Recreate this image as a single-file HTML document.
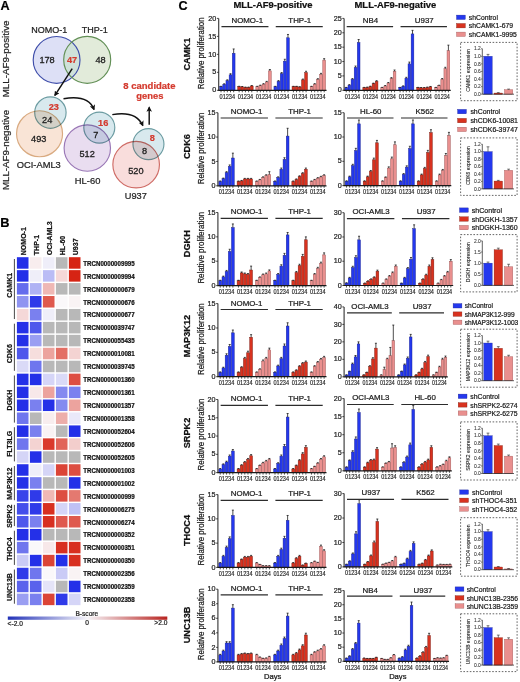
<!DOCTYPE html>
<html><head><meta charset="utf-8"><title>Figure</title>
<style>html,body{margin:0;padding:0;background:#fff;}svg{display:block;}
text{font-family:"Liberation Sans", sans-serif;}</style></head>
<body><svg width="520" height="682" viewBox="0 0 520 682">
<rect width="520" height="682" fill="#fff"/>
<rect x="219.65" y="86.7" width="2.76" height="3.6" fill="#2438ee" stroke="#1a2290" stroke-width="0.45"/>
<path d="M221.03 86.7V86.31M220.03 86.31H222.03" stroke="#111" stroke-width="0.75" fill="none"/>
<rect x="222.81" y="84.33" width="2.76" height="5.97" fill="#2438ee" stroke="#1a2290" stroke-width="0.45"/>
<path d="M224.19 84.33V83.79M223.19 83.79H225.19" stroke="#111" stroke-width="0.75" fill="none"/>
<rect x="225.97" y="80.59" width="2.76" height="9.71" fill="#2438ee" stroke="#1a2290" stroke-width="0.45"/>
<path d="M227.35 80.59V79.83M226.35 79.83H228.35" stroke="#111" stroke-width="0.75" fill="none"/>
<rect x="229.13" y="74.84" width="2.76" height="15.46" fill="#2438ee" stroke="#1a2290" stroke-width="0.45"/>
<path d="M230.51 74.84V73.73M229.51 73.73H231.51" stroke="#111" stroke-width="0.75" fill="none"/>
<rect x="232.29" y="53.27" width="2.76" height="37.03" fill="#2438ee" stroke="#1a2290" stroke-width="0.45"/>
<path d="M233.67 53.27V48.96M232.67 48.96H234.67" stroke="#111" stroke-width="0.75" fill="none"/>
<text x="219.55" y="98.6" font-size="6.3" text-anchor="start" font-weight="normal" fill="#222" stroke="#222" stroke-width="0.15" textLength="15.5" lengthAdjust="spacingAndGlyphs">01234</text>
<rect x="237.75" y="86.7" width="2.76" height="3.6" fill="#d8321f" stroke="#7a1a10" stroke-width="0.45"/>
<path d="M239.13 86.7V86.31M238.13 86.31H240.13" stroke="#111" stroke-width="0.75" fill="none"/>
<rect x="240.91" y="86.88" width="2.76" height="3.42" fill="#d8321f" stroke="#7a1a10" stroke-width="0.45"/>
<path d="M242.29 86.88V86.5M241.29 86.5H243.29" stroke="#111" stroke-width="0.75" fill="none"/>
<rect x="244.07" y="87.42" width="2.76" height="2.88" fill="#d8321f" stroke="#7a1a10" stroke-width="0.45"/>
<path d="M245.45 87.42V87.07M244.45 87.07H246.45" stroke="#111" stroke-width="0.75" fill="none"/>
<rect x="247.23" y="87.42" width="2.76" height="2.88" fill="#d8321f" stroke="#7a1a10" stroke-width="0.45"/>
<path d="M248.61 87.42V87.07M247.61 87.07H249.61" stroke="#111" stroke-width="0.75" fill="none"/>
<rect x="250.39" y="85.99" width="2.76" height="4.31" fill="#d8321f" stroke="#7a1a10" stroke-width="0.45"/>
<path d="M251.77 85.99V85.55M250.77 85.55H252.77" stroke="#111" stroke-width="0.75" fill="none"/>
<text x="237.65" y="98.6" font-size="6.3" text-anchor="start" font-weight="normal" fill="#222" stroke="#222" stroke-width="0.15" textLength="15.5" lengthAdjust="spacingAndGlyphs">01234</text>
<rect x="255.85" y="86.7" width="2.76" height="3.6" fill="#e98f8e" stroke="#9a5050" stroke-width="0.45"/>
<path d="M257.23 86.7V86.31M256.23 86.31H258.23" stroke="#111" stroke-width="0.75" fill="none"/>
<rect x="259.01" y="85.63" width="2.76" height="4.67" fill="#e98f8e" stroke="#9a5050" stroke-width="0.45"/>
<path d="M260.39 85.63V85.17M259.39 85.17H261.39" stroke="#111" stroke-width="0.75" fill="none"/>
<rect x="262.17" y="84.19" width="2.76" height="6.11" fill="#e98f8e" stroke="#9a5050" stroke-width="0.45"/>
<path d="M263.55 84.19V83.64M262.55 83.64H264.55" stroke="#111" stroke-width="0.75" fill="none"/>
<rect x="265.33" y="82.03" width="2.76" height="8.27" fill="#e98f8e" stroke="#9a5050" stroke-width="0.45"/>
<path d="M266.71 82.03V81.36M265.71 81.36H267.71" stroke="#111" stroke-width="0.75" fill="none"/>
<rect x="268.49" y="70.89" width="2.76" height="19.41" fill="#e98f8e" stroke="#9a5050" stroke-width="0.45"/>
<path d="M269.87 70.89V69.54M268.87 69.54H270.87" stroke="#111" stroke-width="0.75" fill="none"/>
<text x="255.75" y="98.6" font-size="6.3" text-anchor="start" font-weight="normal" fill="#222" stroke="#222" stroke-width="0.15" textLength="15.5" lengthAdjust="spacingAndGlyphs">01234</text>
<text x="247.25" y="22.8" font-size="7.9" text-anchor="middle" font-weight="normal" fill="#1a1a1a" stroke="#1a1a1a" stroke-width="0.22">NOMO-1</text>
<path d="M221.45 26.56H268.45" stroke="#2c2c2c" stroke-width="1.2"/>
<rect x="273.95" y="86.7" width="2.76" height="3.6" fill="#2438ee" stroke="#1a2290" stroke-width="0.45"/>
<path d="M275.33 86.7V86.31M274.33 86.31H276.33" stroke="#111" stroke-width="0.75" fill="none"/>
<rect x="277.11" y="81.31" width="2.76" height="8.99" fill="#2438ee" stroke="#1a2290" stroke-width="0.45"/>
<path d="M278.49 81.31V80.59M277.49 80.59H279.49" stroke="#111" stroke-width="0.75" fill="none"/>
<rect x="280.27" y="73.76" width="2.76" height="16.54" fill="#2438ee" stroke="#1a2290" stroke-width="0.45"/>
<path d="M281.65 73.76V72.59M280.65 72.59H282.65" stroke="#111" stroke-width="0.75" fill="none"/>
<rect x="283.43" y="61.18" width="2.76" height="29.12" fill="#2438ee" stroke="#1a2290" stroke-width="0.45"/>
<path d="M284.81 61.18V59.25M283.81 59.25H285.81" stroke="#111" stroke-width="0.75" fill="none"/>
<rect x="286.59" y="37.81" width="2.76" height="52.49" fill="#2438ee" stroke="#1a2290" stroke-width="0.45"/>
<path d="M287.97 37.81V34.48M286.97 34.48H288.97" stroke="#111" stroke-width="0.75" fill="none"/>
<text x="273.85" y="98.6" font-size="6.3" text-anchor="start" font-weight="normal" fill="#222" stroke="#222" stroke-width="0.15" textLength="15.5" lengthAdjust="spacingAndGlyphs">01234</text>
<rect x="292.05" y="86.7" width="2.76" height="3.6" fill="#d8321f" stroke="#7a1a10" stroke-width="0.45"/>
<path d="M293.43 86.7V86.31M292.43 86.31H294.43" stroke="#111" stroke-width="0.75" fill="none"/>
<rect x="295.21" y="86.7" width="2.76" height="3.6" fill="#d8321f" stroke="#7a1a10" stroke-width="0.45"/>
<path d="M296.59 86.7V86.31M295.59 86.31H297.59" stroke="#111" stroke-width="0.75" fill="none"/>
<rect x="298.37" y="87.06" width="2.76" height="3.24" fill="#d8321f" stroke="#7a1a10" stroke-width="0.45"/>
<path d="M299.75 87.06V86.69M298.75 86.69H300.75" stroke="#111" stroke-width="0.75" fill="none"/>
<rect x="301.53" y="79.87" width="2.76" height="10.43" fill="#d8321f" stroke="#7a1a10" stroke-width="0.45"/>
<path d="M302.91 79.87V79.07M301.91 79.07H303.91" stroke="#111" stroke-width="0.75" fill="none"/>
<rect x="304.69" y="72.68" width="2.76" height="17.62" fill="#d8321f" stroke="#7a1a10" stroke-width="0.45"/>
<path d="M306.07 72.68V71.25M305.07 71.25H307.07" stroke="#111" stroke-width="0.75" fill="none"/>
<text x="291.95" y="98.6" font-size="6.3" text-anchor="start" font-weight="normal" fill="#222" stroke="#222" stroke-width="0.15" textLength="15.5" lengthAdjust="spacingAndGlyphs">01234</text>
<rect x="310.15" y="86.7" width="2.76" height="3.6" fill="#e98f8e" stroke="#9a5050" stroke-width="0.45"/>
<path d="M311.53 86.7V86.31M310.53 86.31H312.53" stroke="#111" stroke-width="0.75" fill="none"/>
<rect x="313.31" y="84.19" width="2.76" height="6.11" fill="#e98f8e" stroke="#9a5050" stroke-width="0.45"/>
<path d="M314.69 84.19V83.64M313.69 83.64H315.69" stroke="#111" stroke-width="0.75" fill="none"/>
<rect x="316.47" y="79.52" width="2.76" height="10.79" fill="#e98f8e" stroke="#9a5050" stroke-width="0.45"/>
<path d="M317.85 79.52V78.69M316.85 78.69H318.85" stroke="#111" stroke-width="0.75" fill="none"/>
<rect x="319.63" y="74.48" width="2.76" height="15.82" fill="#e98f8e" stroke="#9a5050" stroke-width="0.45"/>
<path d="M321.01 74.48V73.35M320.01 73.35H322.01" stroke="#111" stroke-width="0.75" fill="none"/>
<rect x="322.79" y="60.1" width="2.76" height="30.2" fill="#e98f8e" stroke="#9a5050" stroke-width="0.45"/>
<path d="M324.17 60.1V58.66M323.17 58.66H325.17" stroke="#111" stroke-width="0.75" fill="none"/>
<text x="310.05" y="98.6" font-size="6.3" text-anchor="start" font-weight="normal" fill="#222" stroke="#222" stroke-width="0.15" textLength="15.5" lengthAdjust="spacingAndGlyphs">01234</text>
<text x="299.75" y="22.8" font-size="7.9" text-anchor="middle" font-weight="normal" fill="#1a1a1a" stroke="#1a1a1a" stroke-width="0.22">THP-1</text>
<path d="M275.75 26.56H322.75" stroke="#2c2c2c" stroke-width="1.2"/>
<path d="M218.7 18.4V90.3" stroke="#3a3a3a" stroke-width="1.15" fill="none"/>
<path d="M218.15 90.3H326.55" stroke="#1a1a1a" stroke-width="1.2" fill="none"/>
<path d="M221.03 90.3v2.0M224.19 90.3v2.0M227.35 90.3v2.0M230.51 90.3v2.0M233.67 90.3v2.0M239.13 90.3v2.0M242.29 90.3v2.0M245.45 90.3v2.0M248.61 90.3v2.0M251.77 90.3v2.0M257.23 90.3v2.0M260.39 90.3v2.0M263.55 90.3v2.0M266.71 90.3v2.0M269.87 90.3v2.0M275.33 90.3v2.0M278.49 90.3v2.0M281.65 90.3v2.0M284.81 90.3v2.0M287.97 90.3v2.0M293.43 90.3v2.0M296.59 90.3v2.0M299.75 90.3v2.0M302.91 90.3v2.0M306.07 90.3v2.0M311.53 90.3v2.0M314.69 90.3v2.0M317.85 90.3v2.0M321.01 90.3v2.0M324.17 90.3v2.0" stroke="#1c1c1c" stroke-width="0.75"/>
<path d="M216.9 90.3H218.7" stroke="#1c1c1c" stroke-width="0.8"/>
<text x="216.3" y="92.45" font-size="7.2" text-anchor="end" font-weight="normal" fill="#222" stroke="#222" stroke-width="0.22">0</text>
<path d="M216.9 72.32H218.7" stroke="#1c1c1c" stroke-width="0.8"/>
<text x="216.3" y="74.47" font-size="7.2" text-anchor="end" font-weight="normal" fill="#222" stroke="#222" stroke-width="0.22">5</text>
<path d="M216.9 54.35H218.7" stroke="#1c1c1c" stroke-width="0.8"/>
<text x="216.3" y="56.5" font-size="7.2" text-anchor="end" font-weight="normal" fill="#222" stroke="#222" stroke-width="0.22">10</text>
<path d="M216.9 36.37H218.7" stroke="#1c1c1c" stroke-width="0.8"/>
<text x="216.3" y="38.52" font-size="7.2" text-anchor="end" font-weight="normal" fill="#222" stroke="#222" stroke-width="0.22">15</text>
<path d="M216.9 18.4H218.7" stroke="#1c1c1c" stroke-width="0.8"/>
<text x="216.3" y="20.55" font-size="7.2" text-anchor="end" font-weight="normal" fill="#222" stroke="#222" stroke-width="0.22">20</text>
<rect x="344.9" y="87.71" width="2.7" height="2.59" fill="#2438ee" stroke="#1a2290" stroke-width="0.45"/>
<path d="M346.25 87.71V87.38M345.25 87.38H347.25" stroke="#111" stroke-width="0.75" fill="none"/>
<rect x="348" y="85.12" width="2.7" height="5.18" fill="#2438ee" stroke="#1a2290" stroke-width="0.45"/>
<path d="M349.35 85.12V84.63M348.35 84.63H350.35" stroke="#111" stroke-width="0.75" fill="none"/>
<rect x="351.1" y="79.37" width="2.7" height="10.93" fill="#2438ee" stroke="#1a2290" stroke-width="0.45"/>
<path d="M352.45 79.37V78.54M351.45 78.54H353.45" stroke="#111" stroke-width="0.75" fill="none"/>
<rect x="354.2" y="67.58" width="2.7" height="22.72" fill="#2438ee" stroke="#1a2290" stroke-width="0.45"/>
<path d="M355.55 67.58V66.04M354.55 66.04H356.55" stroke="#111" stroke-width="0.75" fill="none"/>
<rect x="357.3" y="42.56" width="2.7" height="47.74" fill="#2438ee" stroke="#1a2290" stroke-width="0.45"/>
<path d="M358.65 42.56V39.51M357.65 39.51H359.65" stroke="#111" stroke-width="0.75" fill="none"/>
<text x="344.8" y="98.6" font-size="6.3" text-anchor="start" font-weight="normal" fill="#222" stroke="#222" stroke-width="0.15" textLength="15.2" lengthAdjust="spacingAndGlyphs">01234</text>
<rect x="362.85" y="87.71" width="2.7" height="2.59" fill="#d8321f" stroke="#7a1a10" stroke-width="0.45"/>
<path d="M364.2 87.71V87.38M363.2 87.38H365.2" stroke="#111" stroke-width="0.75" fill="none"/>
<rect x="365.95" y="87.42" width="2.7" height="2.88" fill="#d8321f" stroke="#7a1a10" stroke-width="0.45"/>
<path d="M367.3 87.42V87.07M366.3 87.07H368.3" stroke="#111" stroke-width="0.75" fill="none"/>
<rect x="369.05" y="86.56" width="2.7" height="3.74" fill="#d8321f" stroke="#7a1a10" stroke-width="0.45"/>
<path d="M370.4 86.56V86.16M369.4 86.16H371.4" stroke="#111" stroke-width="0.75" fill="none"/>
<rect x="372.15" y="83.69" width="2.7" height="6.61" fill="#d8321f" stroke="#7a1a10" stroke-width="0.45"/>
<path d="M373.5 83.69V83.11M372.5 83.11H374.5" stroke="#111" stroke-width="0.75" fill="none"/>
<rect x="375.25" y="81.38" width="2.7" height="8.92" fill="#d8321f" stroke="#7a1a10" stroke-width="0.45"/>
<path d="M376.6 81.38V80.67M375.6 80.67H377.6" stroke="#111" stroke-width="0.75" fill="none"/>
<text x="362.75" y="98.6" font-size="6.3" text-anchor="start" font-weight="normal" fill="#222" stroke="#222" stroke-width="0.15" textLength="15.2" lengthAdjust="spacingAndGlyphs">01234</text>
<rect x="380.8" y="87.71" width="2.7" height="2.59" fill="#e98f8e" stroke="#9a5050" stroke-width="0.45"/>
<path d="M382.15 87.71V87.38M381.15 87.38H383.15" stroke="#111" stroke-width="0.75" fill="none"/>
<rect x="383.9" y="85.99" width="2.7" height="4.31" fill="#e98f8e" stroke="#9a5050" stroke-width="0.45"/>
<path d="M385.25 85.99V85.55M384.25 85.55H386.25" stroke="#111" stroke-width="0.75" fill="none"/>
<rect x="387" y="83.11" width="2.7" height="7.19" fill="#e98f8e" stroke="#9a5050" stroke-width="0.45"/>
<path d="M388.35 83.11V82.5M387.35 82.5H389.35" stroke="#111" stroke-width="0.75" fill="none"/>
<rect x="390.1" y="78.51" width="2.7" height="11.79" fill="#e98f8e" stroke="#9a5050" stroke-width="0.45"/>
<path d="M391.45 78.51V77.62M390.45 77.62H392.45" stroke="#111" stroke-width="0.75" fill="none"/>
<rect x="393.2" y="71.32" width="2.7" height="18.98" fill="#e98f8e" stroke="#9a5050" stroke-width="0.45"/>
<path d="M394.55 71.32V70M393.55 70H395.55" stroke="#111" stroke-width="0.75" fill="none"/>
<text x="380.7" y="98.6" font-size="6.3" text-anchor="start" font-weight="normal" fill="#222" stroke="#222" stroke-width="0.15" textLength="15.2" lengthAdjust="spacingAndGlyphs">01234</text>
<text x="370.4" y="22.8" font-size="7.9" text-anchor="middle" font-weight="normal" fill="#1a1a1a" stroke="#1a1a1a" stroke-width="0.22">NB4</text>
<path d="M346.7 26.56H393.1" stroke="#2c2c2c" stroke-width="1.2"/>
<rect x="398.75" y="87.71" width="2.7" height="2.59" fill="#2438ee" stroke="#1a2290" stroke-width="0.45"/>
<path d="M400.1 87.71V87.38M399.1 87.38H401.1" stroke="#111" stroke-width="0.75" fill="none"/>
<rect x="401.85" y="86.27" width="2.7" height="4.03" fill="#2438ee" stroke="#1a2290" stroke-width="0.45"/>
<path d="M403.2 86.27V85.85M402.2 85.85H404.2" stroke="#111" stroke-width="0.75" fill="none"/>
<rect x="404.95" y="78.22" width="2.7" height="12.08" fill="#2438ee" stroke="#1a2290" stroke-width="0.45"/>
<path d="M406.3 78.22V77.32M405.3 77.32H407.3" stroke="#111" stroke-width="0.75" fill="none"/>
<rect x="408.05" y="63.84" width="2.7" height="26.46" fill="#2438ee" stroke="#1a2290" stroke-width="0.45"/>
<path d="M409.4 63.84V62.07M408.4 62.07H410.4" stroke="#111" stroke-width="0.75" fill="none"/>
<rect x="411.15" y="33.93" width="2.7" height="56.37" fill="#2438ee" stroke="#1a2290" stroke-width="0.45"/>
<path d="M412.5 33.93V30.37M411.5 30.37H413.5" stroke="#111" stroke-width="0.75" fill="none"/>
<text x="398.65" y="98.6" font-size="6.3" text-anchor="start" font-weight="normal" fill="#222" stroke="#222" stroke-width="0.15" textLength="15.2" lengthAdjust="spacingAndGlyphs">01234</text>
<rect x="416.7" y="87.71" width="2.7" height="2.59" fill="#d8321f" stroke="#7a1a10" stroke-width="0.45"/>
<path d="M418.05 87.71V87.38M417.05 87.38H419.05" stroke="#111" stroke-width="0.75" fill="none"/>
<rect x="419.8" y="87.86" width="2.7" height="2.44" fill="#d8321f" stroke="#7a1a10" stroke-width="0.45"/>
<path d="M421.15 87.86V87.53M420.15 87.53H422.15" stroke="#111" stroke-width="0.75" fill="none"/>
<rect x="422.9" y="87.86" width="2.7" height="2.44" fill="#d8321f" stroke="#7a1a10" stroke-width="0.45"/>
<path d="M424.25 87.86V87.53M423.25 87.53H425.25" stroke="#111" stroke-width="0.75" fill="none"/>
<rect x="426" y="87.42" width="2.7" height="2.88" fill="#d8321f" stroke="#7a1a10" stroke-width="0.45"/>
<path d="M427.35 87.42V87.07M426.35 87.07H428.35" stroke="#111" stroke-width="0.75" fill="none"/>
<rect x="429.1" y="86.85" width="2.7" height="3.45" fill="#d8321f" stroke="#7a1a10" stroke-width="0.45"/>
<path d="M430.45 86.85V86.46M429.45 86.46H431.45" stroke="#111" stroke-width="0.75" fill="none"/>
<text x="416.6" y="98.6" font-size="6.3" text-anchor="start" font-weight="normal" fill="#222" stroke="#222" stroke-width="0.15" textLength="15.2" lengthAdjust="spacingAndGlyphs">01234</text>
<rect x="434.65" y="87.71" width="2.7" height="2.59" fill="#e98f8e" stroke="#9a5050" stroke-width="0.45"/>
<path d="M436 87.71V87.38M435 87.38H437" stroke="#111" stroke-width="0.75" fill="none"/>
<rect x="437.75" y="85.7" width="2.7" height="4.6" fill="#e98f8e" stroke="#9a5050" stroke-width="0.45"/>
<path d="M439.1 85.7V85.24M438.1 85.24H440.1" stroke="#111" stroke-width="0.75" fill="none"/>
<rect x="440.85" y="79.37" width="2.7" height="10.93" fill="#e98f8e" stroke="#9a5050" stroke-width="0.45"/>
<path d="M442.2 79.37V78.54M441.2 78.54H443.2" stroke="#111" stroke-width="0.75" fill="none"/>
<rect x="443.95" y="68.73" width="2.7" height="21.57" fill="#e98f8e" stroke="#9a5050" stroke-width="0.45"/>
<path d="M445.3 68.73V67.29M444.3 67.29H446.3" stroke="#111" stroke-width="0.75" fill="none"/>
<rect x="447.05" y="50.61" width="2.7" height="39.69" fill="#e98f8e" stroke="#9a5050" stroke-width="0.45"/>
<path d="M448.4 50.61V45.15M447.4 45.15H449.4" stroke="#111" stroke-width="0.75" fill="none"/>
<text x="434.55" y="98.6" font-size="6.3" text-anchor="start" font-weight="normal" fill="#222" stroke="#222" stroke-width="0.15" textLength="15.2" lengthAdjust="spacingAndGlyphs">01234</text>
<text x="424.25" y="22.8" font-size="7.9" text-anchor="middle" font-weight="normal" fill="#1a1a1a" stroke="#1a1a1a" stroke-width="0.22">U937</text>
<path d="M400.55 26.56H446.95" stroke="#2c2c2c" stroke-width="1.2"/>
<path d="M344.1 18.4V90.3" stroke="#3a3a3a" stroke-width="1.15" fill="none"/>
<path d="M343.55 90.3H450.75" stroke="#1a1a1a" stroke-width="1.2" fill="none"/>
<path d="M346.25 90.3v2.0M349.35 90.3v2.0M352.45 90.3v2.0M355.55 90.3v2.0M358.65 90.3v2.0M364.2 90.3v2.0M367.3 90.3v2.0M370.4 90.3v2.0M373.5 90.3v2.0M376.6 90.3v2.0M382.15 90.3v2.0M385.25 90.3v2.0M388.35 90.3v2.0M391.45 90.3v2.0M394.55 90.3v2.0M400.1 90.3v2.0M403.2 90.3v2.0M406.3 90.3v2.0M409.4 90.3v2.0M412.5 90.3v2.0M418.05 90.3v2.0M421.15 90.3v2.0M424.25 90.3v2.0M427.35 90.3v2.0M430.45 90.3v2.0M436 90.3v2.0M439.1 90.3v2.0M442.2 90.3v2.0M445.3 90.3v2.0M448.4 90.3v2.0" stroke="#1c1c1c" stroke-width="0.75"/>
<path d="M342.3 90.3H344.1" stroke="#1c1c1c" stroke-width="0.8"/>
<text x="341.7" y="92.45" font-size="7.2" text-anchor="end" font-weight="normal" fill="#222" stroke="#222" stroke-width="0.22">0</text>
<path d="M342.3 75.92H344.1" stroke="#1c1c1c" stroke-width="0.8"/>
<text x="341.7" y="78.07" font-size="7.2" text-anchor="end" font-weight="normal" fill="#222" stroke="#222" stroke-width="0.22">5</text>
<path d="M342.3 61.54H344.1" stroke="#1c1c1c" stroke-width="0.8"/>
<text x="341.7" y="63.69" font-size="7.2" text-anchor="end" font-weight="normal" fill="#222" stroke="#222" stroke-width="0.22">10</text>
<path d="M342.3 47.16H344.1" stroke="#1c1c1c" stroke-width="0.8"/>
<text x="341.7" y="49.31" font-size="7.2" text-anchor="end" font-weight="normal" fill="#222" stroke="#222" stroke-width="0.22">15</text>
<path d="M342.3 32.78H344.1" stroke="#1c1c1c" stroke-width="0.8"/>
<text x="341.7" y="34.93" font-size="7.2" text-anchor="end" font-weight="normal" fill="#222" stroke="#222" stroke-width="0.22">20</text>
<path d="M342.3 18.4H344.1" stroke="#1c1c1c" stroke-width="0.8"/>
<text x="341.7" y="20.55" font-size="7.2" text-anchor="end" font-weight="normal" fill="#222" stroke="#222" stroke-width="0.22">25</text>
<text x="0" y="0" font-size="8.3" text-anchor="middle" font-weight="normal" fill="#1a1a1a" stroke="#1a1a1a" stroke-width="0.22" transform="translate(204.4,53.3) rotate(-90)" textLength="71.8" lengthAdjust="spacingAndGlyphs">Relative proliferation</text>
<text x="0" y="0" font-size="9.2" text-anchor="middle" font-weight="bold" fill="#111" stroke="#111" stroke-width="0.22" transform="translate(190.2,54.25) rotate(-90)">CAMK1</text>
<rect x="456.5" y="15.1" width="8.8" height="4.4" fill="#2438ee" stroke="#1a2290" stroke-width="0.35"/>
<text x="468.8" y="19.9" font-size="7.34" text-anchor="start" font-weight="normal" fill="#1a1a1a" stroke="#1a1a1a" stroke-width="0.22" textLength="29.1" lengthAdjust="spacingAndGlyphs">shControl</text>
<rect x="456.5" y="23.5" width="8.8" height="4.4" fill="#d8321f" stroke="#7a1a10" stroke-width="0.35"/>
<text x="468.8" y="28.3" font-size="7.34" text-anchor="start" font-weight="normal" fill="#1a1a1a" stroke="#1a1a1a" stroke-width="0.22" textLength="44.22" lengthAdjust="spacingAndGlyphs">shCAMK1-679</text>
<rect x="456.5" y="32.1" width="8.8" height="4.4" fill="#e98f8e" stroke="#9a5050" stroke-width="0.35"/>
<text x="468.8" y="36.9" font-size="7.34" text-anchor="start" font-weight="normal" fill="#1a1a1a" stroke="#1a1a1a" stroke-width="0.22" textLength="48" lengthAdjust="spacingAndGlyphs">shCAMK1-9995</text>
<rect x="460.6" y="42.4" width="56.5" height="58.3" fill="none" stroke="#555" stroke-width="0.9" stroke-dasharray="1.6,1.6"/>
<rect x="483.8" y="56.28" width="8.4" height="37.92" fill="#2438ee" stroke="#1a2290" stroke-width="0.35"/>
<path d="M488 56.28V54.39M486.6 54.39H489.4" stroke="#222" stroke-width="0.6" fill="none"/>
<rect x="494.1" y="93.06" width="8.4" height="1.14" fill="#d8321f" stroke="#7a1a10" stroke-width="0.35"/>
<path d="M498.3 93.06V92.64M496.9 92.64H499.7" stroke="#222" stroke-width="0.6" fill="none"/>
<rect x="504.4" y="89.65" width="8.4" height="4.55" fill="#e98f8e" stroke="#9a5050" stroke-width="0.35"/>
<path d="M508.6 89.65V89.09M507.2 89.09H510" stroke="#222" stroke-width="0.6" fill="none"/>
<path d="M482.3 48.7V94.2H514" stroke="#1c1c1c" stroke-width="0.7" fill="none"/>
<path d="M481.1 94.2H482.3" stroke="#1c1c1c" stroke-width="0.6"/>
<text x="480.7" y="95.9" font-size="4.9" text-anchor="end" font-weight="normal" fill="#333" stroke="#333" stroke-width="0.08">0.0</text>
<path d="M481.1 86.62H482.3" stroke="#1c1c1c" stroke-width="0.6"/>
<text x="480.7" y="88.32" font-size="4.9" text-anchor="end" font-weight="normal" fill="#333" stroke="#333" stroke-width="0.08">0.2</text>
<path d="M481.1 79.03H482.3" stroke="#1c1c1c" stroke-width="0.6"/>
<text x="480.7" y="80.73" font-size="4.9" text-anchor="end" font-weight="normal" fill="#333" stroke="#333" stroke-width="0.08">0.4</text>
<path d="M481.1 71.45H482.3" stroke="#1c1c1c" stroke-width="0.6"/>
<text x="480.7" y="73.15" font-size="4.9" text-anchor="end" font-weight="normal" fill="#333" stroke="#333" stroke-width="0.08">0.6</text>
<path d="M481.1 63.87H482.3" stroke="#1c1c1c" stroke-width="0.6"/>
<text x="480.7" y="65.57" font-size="4.9" text-anchor="end" font-weight="normal" fill="#333" stroke="#333" stroke-width="0.08">0.8</text>
<path d="M481.1 56.28H482.3" stroke="#1c1c1c" stroke-width="0.6"/>
<text x="480.7" y="57.98" font-size="4.9" text-anchor="end" font-weight="normal" fill="#333" stroke="#333" stroke-width="0.08">1.0</text>
<path d="M481.1 48.7H482.3" stroke="#1c1c1c" stroke-width="0.6"/>
<text x="480.7" y="50.4" font-size="4.9" text-anchor="end" font-weight="normal" fill="#333" stroke="#333" stroke-width="0.08">1.2</text>
<text x="0" y="0" font-size="5" text-anchor="middle" font-weight="normal" fill="#222" stroke="#222" stroke-width="0.1" transform="translate(470,70.45) rotate(-90)">CAMK1 expression</text>
<rect x="218.85" y="181.41" width="2.76" height="4.39" fill="#2438ee" stroke="#1a2290" stroke-width="0.45"/>
<path d="M220.23 181.41V180.97M219.23 180.97H221.23" stroke="#111" stroke-width="0.75" fill="none"/>
<rect x="222.01" y="178.68" width="2.76" height="7.12" fill="#2438ee" stroke="#1a2290" stroke-width="0.45"/>
<path d="M223.39 178.68V178.08M222.39 178.08H224.39" stroke="#111" stroke-width="0.75" fill="none"/>
<rect x="225.17" y="172.64" width="2.76" height="13.16" fill="#2438ee" stroke="#1a2290" stroke-width="0.45"/>
<path d="M226.55 172.64V171.67M225.55 171.67H227.55" stroke="#111" stroke-width="0.75" fill="none"/>
<rect x="228.33" y="166.31" width="2.76" height="19.49" fill="#2438ee" stroke="#1a2290" stroke-width="0.45"/>
<path d="M229.71 166.31V164.95M228.71 164.95H230.71" stroke="#111" stroke-width="0.75" fill="none"/>
<rect x="231.49" y="158.02" width="2.76" height="27.78" fill="#2438ee" stroke="#1a2290" stroke-width="0.45"/>
<path d="M232.87 158.02V153.15M231.87 153.15H233.87" stroke="#111" stroke-width="0.75" fill="none"/>
<text x="218.75" y="194.1" font-size="6.3" text-anchor="start" font-weight="normal" fill="#222" stroke="#222" stroke-width="0.15" textLength="15.5" lengthAdjust="spacingAndGlyphs">01234</text>
<rect x="237.1" y="181.41" width="2.76" height="4.39" fill="#d8321f" stroke="#7a1a10" stroke-width="0.45"/>
<path d="M238.48 181.41V180.97M237.48 180.97H239.48" stroke="#111" stroke-width="0.75" fill="none"/>
<rect x="240.26" y="180.93" width="2.76" height="4.87" fill="#d8321f" stroke="#7a1a10" stroke-width="0.45"/>
<path d="M241.64 180.93V180.45M240.64 180.45H242.64" stroke="#111" stroke-width="0.75" fill="none"/>
<rect x="243.42" y="178.98" width="2.76" height="6.82" fill="#d8321f" stroke="#7a1a10" stroke-width="0.45"/>
<path d="M244.8 178.98V178.39M243.8 178.39H245.8" stroke="#111" stroke-width="0.75" fill="none"/>
<rect x="246.58" y="178.98" width="2.76" height="6.82" fill="#d8321f" stroke="#7a1a10" stroke-width="0.45"/>
<path d="M247.96 178.98V178.39M246.96 178.39H248.96" stroke="#111" stroke-width="0.75" fill="none"/>
<rect x="249.74" y="178.98" width="2.76" height="6.82" fill="#d8321f" stroke="#7a1a10" stroke-width="0.45"/>
<path d="M251.12 178.98V178.39M250.12 178.39H252.12" stroke="#111" stroke-width="0.75" fill="none"/>
<text x="237" y="194.1" font-size="6.3" text-anchor="start" font-weight="normal" fill="#222" stroke="#222" stroke-width="0.15" textLength="15.5" lengthAdjust="spacingAndGlyphs">01234</text>
<rect x="255.35" y="181.41" width="2.76" height="4.39" fill="#e98f8e" stroke="#9a5050" stroke-width="0.45"/>
<path d="M256.73 181.41V180.97M255.73 180.97H257.73" stroke="#111" stroke-width="0.75" fill="none"/>
<rect x="258.51" y="179.95" width="2.76" height="5.85" fill="#e98f8e" stroke="#9a5050" stroke-width="0.45"/>
<path d="M259.89 179.95V179.42M258.89 179.42H260.89" stroke="#111" stroke-width="0.75" fill="none"/>
<rect x="261.67" y="177.52" width="2.76" height="8.28" fill="#e98f8e" stroke="#9a5050" stroke-width="0.45"/>
<path d="M263.05 177.52V176.84M262.05 176.84H264.05" stroke="#111" stroke-width="0.75" fill="none"/>
<rect x="264.83" y="175.57" width="2.76" height="10.23" fill="#e98f8e" stroke="#9a5050" stroke-width="0.45"/>
<path d="M266.21 175.57V174.77M265.21 174.77H267.21" stroke="#111" stroke-width="0.75" fill="none"/>
<rect x="267.99" y="174.59" width="2.76" height="11.21" fill="#e98f8e" stroke="#9a5050" stroke-width="0.45"/>
<path d="M269.37 174.59V171.67M268.37 171.67H270.37" stroke="#111" stroke-width="0.75" fill="none"/>
<text x="255.25" y="194.1" font-size="6.3" text-anchor="start" font-weight="normal" fill="#222" stroke="#222" stroke-width="0.15" textLength="15.5" lengthAdjust="spacingAndGlyphs">01234</text>
<text x="246.6" y="114.2" font-size="7.9" text-anchor="middle" font-weight="normal" fill="#1a1a1a" stroke="#1a1a1a" stroke-width="0.22">NOMO-1</text>
<path d="M220.65 118H267.95" stroke="#2c2c2c" stroke-width="1.2"/>
<rect x="273.6" y="181.41" width="2.76" height="4.39" fill="#2438ee" stroke="#1a2290" stroke-width="0.45"/>
<path d="M274.98 181.41V180.97M273.98 180.97H275.98" stroke="#111" stroke-width="0.75" fill="none"/>
<rect x="276.76" y="177.52" width="2.76" height="8.28" fill="#2438ee" stroke="#1a2290" stroke-width="0.45"/>
<path d="M278.14 177.52V176.84M277.14 176.84H279.14" stroke="#111" stroke-width="0.75" fill="none"/>
<rect x="279.92" y="169.23" width="2.76" height="16.57" fill="#2438ee" stroke="#1a2290" stroke-width="0.45"/>
<path d="M281.3 169.23V168.05M280.3 168.05H282.3" stroke="#111" stroke-width="0.75" fill="none"/>
<rect x="283.08" y="159.48" width="2.76" height="26.32" fill="#2438ee" stroke="#1a2290" stroke-width="0.45"/>
<path d="M284.46 159.48V157.72M283.46 157.72H285.46" stroke="#111" stroke-width="0.75" fill="none"/>
<rect x="286.24" y="136.09" width="2.76" height="49.71" fill="#2438ee" stroke="#1a2290" stroke-width="0.45"/>
<path d="M287.62 136.09V128.29M286.62 128.29H288.62" stroke="#111" stroke-width="0.75" fill="none"/>
<text x="273.5" y="194.1" font-size="6.3" text-anchor="start" font-weight="normal" fill="#222" stroke="#222" stroke-width="0.15" textLength="15.5" lengthAdjust="spacingAndGlyphs">01234</text>
<rect x="291.85" y="181.41" width="2.76" height="4.39" fill="#d8321f" stroke="#7a1a10" stroke-width="0.45"/>
<path d="M293.23 181.41V180.97M292.23 180.97H294.23" stroke="#111" stroke-width="0.75" fill="none"/>
<rect x="295.01" y="179.46" width="2.76" height="6.34" fill="#d8321f" stroke="#7a1a10" stroke-width="0.45"/>
<path d="M296.39 179.46V178.9M295.39 178.9H297.39" stroke="#111" stroke-width="0.75" fill="none"/>
<rect x="298.17" y="176.54" width="2.76" height="9.26" fill="#d8321f" stroke="#7a1a10" stroke-width="0.45"/>
<path d="M299.55 176.54V175.8M298.55 175.8H300.55" stroke="#111" stroke-width="0.75" fill="none"/>
<rect x="301.33" y="173.62" width="2.76" height="12.18" fill="#d8321f" stroke="#7a1a10" stroke-width="0.45"/>
<path d="M302.71 173.62V172.7M301.71 172.7H303.71" stroke="#111" stroke-width="0.75" fill="none"/>
<rect x="304.49" y="169.23" width="2.76" height="16.57" fill="#d8321f" stroke="#7a1a10" stroke-width="0.45"/>
<path d="M305.87 169.23V168.05M304.87 168.05H306.87" stroke="#111" stroke-width="0.75" fill="none"/>
<text x="291.75" y="194.1" font-size="6.3" text-anchor="start" font-weight="normal" fill="#222" stroke="#222" stroke-width="0.15" textLength="15.5" lengthAdjust="spacingAndGlyphs">01234</text>
<rect x="310.1" y="181.41" width="2.76" height="4.39" fill="#e98f8e" stroke="#9a5050" stroke-width="0.45"/>
<path d="M311.48 181.41V180.97M310.48 180.97H312.48" stroke="#111" stroke-width="0.75" fill="none"/>
<rect x="313.26" y="179.95" width="2.76" height="5.85" fill="#e98f8e" stroke="#9a5050" stroke-width="0.45"/>
<path d="M314.64 179.95V179.42M313.64 179.42H315.64" stroke="#111" stroke-width="0.75" fill="none"/>
<rect x="316.42" y="178.25" width="2.76" height="7.55" fill="#e98f8e" stroke="#9a5050" stroke-width="0.45"/>
<path d="M317.8 178.25V177.61M316.8 177.61H318.8" stroke="#111" stroke-width="0.75" fill="none"/>
<rect x="319.58" y="177.03" width="2.76" height="8.77" fill="#e98f8e" stroke="#9a5050" stroke-width="0.45"/>
<path d="M320.96 177.03V176.32M319.96 176.32H321.96" stroke="#111" stroke-width="0.75" fill="none"/>
<rect x="322.74" y="175.57" width="2.76" height="10.23" fill="#e98f8e" stroke="#9a5050" stroke-width="0.45"/>
<path d="M324.12 175.57V174.77M323.12 174.77H325.12" stroke="#111" stroke-width="0.75" fill="none"/>
<text x="310" y="194.1" font-size="6.3" text-anchor="start" font-weight="normal" fill="#222" stroke="#222" stroke-width="0.15" textLength="15.5" lengthAdjust="spacingAndGlyphs">01234</text>
<text x="299.55" y="114.2" font-size="7.9" text-anchor="middle" font-weight="normal" fill="#1a1a1a" stroke="#1a1a1a" stroke-width="0.22">THP-1</text>
<path d="M275.4 118H322.7" stroke="#2c2c2c" stroke-width="1.2"/>
<path d="M217.9 112.7V185.8" stroke="#3a3a3a" stroke-width="1.15" fill="none"/>
<path d="M217.35 185.8H326.5" stroke="#1a1a1a" stroke-width="1.2" fill="none"/>
<path d="M220.23 185.8v2.0M223.39 185.8v2.0M226.55 185.8v2.0M229.71 185.8v2.0M232.87 185.8v2.0M238.48 185.8v2.0M241.64 185.8v2.0M244.8 185.8v2.0M247.96 185.8v2.0M251.12 185.8v2.0M256.73 185.8v2.0M259.89 185.8v2.0M263.05 185.8v2.0M266.21 185.8v2.0M269.37 185.8v2.0M274.98 185.8v2.0M278.14 185.8v2.0M281.3 185.8v2.0M284.46 185.8v2.0M287.62 185.8v2.0M293.23 185.8v2.0M296.39 185.8v2.0M299.55 185.8v2.0M302.71 185.8v2.0M305.87 185.8v2.0M311.48 185.8v2.0M314.64 185.8v2.0M317.8 185.8v2.0M320.96 185.8v2.0M324.12 185.8v2.0" stroke="#1c1c1c" stroke-width="0.75"/>
<path d="M216.1 185.8H217.9" stroke="#1c1c1c" stroke-width="0.8"/>
<text x="215.5" y="187.95" font-size="7.2" text-anchor="end" font-weight="normal" fill="#222" stroke="#222" stroke-width="0.22">0</text>
<path d="M216.1 161.43H217.9" stroke="#1c1c1c" stroke-width="0.8"/>
<text x="215.5" y="163.58" font-size="7.2" text-anchor="end" font-weight="normal" fill="#222" stroke="#222" stroke-width="0.22">5</text>
<path d="M216.1 137.07H217.9" stroke="#1c1c1c" stroke-width="0.8"/>
<text x="215.5" y="139.22" font-size="7.2" text-anchor="end" font-weight="normal" fill="#222" stroke="#222" stroke-width="0.22">10</text>
<path d="M216.1 112.7H217.9" stroke="#1c1c1c" stroke-width="0.8"/>
<text x="215.5" y="114.85" font-size="7.2" text-anchor="end" font-weight="normal" fill="#222" stroke="#222" stroke-width="0.22">15</text>
<rect x="345.2" y="181.23" width="2.7" height="4.37" fill="#2438ee" stroke="#1a2290" stroke-width="0.45"/>
<path d="M346.55 181.23V180.78M345.55 180.78H347.55" stroke="#111" stroke-width="0.75" fill="none"/>
<rect x="348.3" y="176.85" width="2.7" height="8.75" fill="#2438ee" stroke="#1a2290" stroke-width="0.45"/>
<path d="M349.65 176.85V176.14M348.65 176.14H350.65" stroke="#111" stroke-width="0.75" fill="none"/>
<rect x="351.4" y="165.67" width="2.7" height="19.93" fill="#2438ee" stroke="#1a2290" stroke-width="0.45"/>
<path d="M352.75 165.67V164.3M351.75 164.3H353.75" stroke="#111" stroke-width="0.75" fill="none"/>
<rect x="354.5" y="150.61" width="2.7" height="34.99" fill="#2438ee" stroke="#1a2290" stroke-width="0.45"/>
<path d="M355.85 150.61V148.33M354.85 148.33H356.85" stroke="#111" stroke-width="0.75" fill="none"/>
<rect x="357.6" y="123.88" width="2.7" height="61.72" fill="#2438ee" stroke="#1a2290" stroke-width="0.45"/>
<path d="M358.95 123.88V119.99M357.95 119.99H359.95" stroke="#111" stroke-width="0.75" fill="none"/>
<text x="345.1" y="193.9" font-size="6.3" text-anchor="start" font-weight="normal" fill="#222" stroke="#222" stroke-width="0.15" textLength="15.2" lengthAdjust="spacingAndGlyphs">01234</text>
<rect x="363.2" y="181.23" width="2.7" height="4.37" fill="#d8321f" stroke="#7a1a10" stroke-width="0.45"/>
<path d="M364.55 181.23V180.78M363.55 180.78H365.55" stroke="#111" stroke-width="0.75" fill="none"/>
<rect x="366.3" y="176.85" width="2.7" height="8.75" fill="#d8321f" stroke="#7a1a10" stroke-width="0.45"/>
<path d="M367.65 176.85V176.14M366.65 176.14H368.65" stroke="#111" stroke-width="0.75" fill="none"/>
<rect x="369.4" y="171.51" width="2.7" height="14.09" fill="#d8321f" stroke="#7a1a10" stroke-width="0.45"/>
<path d="M370.75 171.51V170.48M369.75 170.48H371.75" stroke="#111" stroke-width="0.75" fill="none"/>
<rect x="372.5" y="159.84" width="2.7" height="25.76" fill="#d8321f" stroke="#7a1a10" stroke-width="0.45"/>
<path d="M373.85 159.84V158.11M372.85 158.11H374.85" stroke="#111" stroke-width="0.75" fill="none"/>
<rect x="375.6" y="142.83" width="2.7" height="42.77" fill="#d8321f" stroke="#7a1a10" stroke-width="0.45"/>
<path d="M376.95 142.83V140.4M375.95 140.4H377.95" stroke="#111" stroke-width="0.75" fill="none"/>
<text x="363.1" y="193.9" font-size="6.3" text-anchor="start" font-weight="normal" fill="#222" stroke="#222" stroke-width="0.15" textLength="15.2" lengthAdjust="spacingAndGlyphs">01234</text>
<rect x="381.2" y="181.23" width="2.7" height="4.37" fill="#e98f8e" stroke="#9a5050" stroke-width="0.45"/>
<path d="M382.55 181.23V180.78M381.55 180.78H383.55" stroke="#111" stroke-width="0.75" fill="none"/>
<rect x="384.3" y="177.58" width="2.7" height="8.02" fill="#e98f8e" stroke="#9a5050" stroke-width="0.45"/>
<path d="M385.65 177.58V176.92M384.65 176.92H386.65" stroke="#111" stroke-width="0.75" fill="none"/>
<rect x="387.4" y="168.1" width="2.7" height="17.5" fill="#e98f8e" stroke="#9a5050" stroke-width="0.45"/>
<path d="M388.75 168.1V166.87M387.75 166.87H389.75" stroke="#111" stroke-width="0.75" fill="none"/>
<rect x="390.5" y="158.87" width="2.7" height="26.73" fill="#e98f8e" stroke="#9a5050" stroke-width="0.45"/>
<path d="M391.85 158.87V157.08M390.85 157.08H392.85" stroke="#111" stroke-width="0.75" fill="none"/>
<rect x="393.6" y="144.78" width="2.7" height="40.82" fill="#e98f8e" stroke="#9a5050" stroke-width="0.45"/>
<path d="M394.95 144.78V141.86M393.95 141.86H395.95" stroke="#111" stroke-width="0.75" fill="none"/>
<text x="381.1" y="193.9" font-size="6.3" text-anchor="start" font-weight="normal" fill="#222" stroke="#222" stroke-width="0.15" textLength="15.2" lengthAdjust="spacingAndGlyphs">01234</text>
<text x="370.75" y="114.2" font-size="7.9" text-anchor="middle" font-weight="normal" fill="#1a1a1a" stroke="#1a1a1a" stroke-width="0.22">HL-60</text>
<path d="M347 118H393.5" stroke="#2c2c2c" stroke-width="1.2"/>
<rect x="399.2" y="181.23" width="2.7" height="4.37" fill="#2438ee" stroke="#1a2290" stroke-width="0.45"/>
<path d="M400.55 181.23V180.78M399.55 180.78H401.55" stroke="#111" stroke-width="0.75" fill="none"/>
<rect x="402.3" y="174.42" width="2.7" height="11.18" fill="#2438ee" stroke="#1a2290" stroke-width="0.45"/>
<path d="M403.65 174.42V173.57M402.65 173.57H404.65" stroke="#111" stroke-width="0.75" fill="none"/>
<rect x="405.4" y="167.13" width="2.7" height="18.47" fill="#2438ee" stroke="#1a2290" stroke-width="0.45"/>
<path d="M406.75 167.13V165.84M405.75 165.84H407.75" stroke="#111" stroke-width="0.75" fill="none"/>
<rect x="408.5" y="148.66" width="2.7" height="36.94" fill="#2438ee" stroke="#1a2290" stroke-width="0.45"/>
<path d="M409.85 148.66V146.27M408.85 146.27H410.85" stroke="#111" stroke-width="0.75" fill="none"/>
<rect x="411.6" y="123.88" width="2.7" height="61.72" fill="#2438ee" stroke="#1a2290" stroke-width="0.45"/>
<path d="M412.95 123.88V119.99M411.95 119.99H413.95" stroke="#111" stroke-width="0.75" fill="none"/>
<text x="399.1" y="193.9" font-size="6.3" text-anchor="start" font-weight="normal" fill="#222" stroke="#222" stroke-width="0.15" textLength="15.2" lengthAdjust="spacingAndGlyphs">01234</text>
<rect x="417.2" y="181.23" width="2.7" height="4.37" fill="#d8321f" stroke="#7a1a10" stroke-width="0.45"/>
<path d="M418.55 181.23V180.78M417.55 180.78H419.55" stroke="#111" stroke-width="0.75" fill="none"/>
<rect x="420.3" y="174.91" width="2.7" height="10.69" fill="#d8321f" stroke="#7a1a10" stroke-width="0.45"/>
<path d="M421.65 174.91V174.08M420.65 174.08H422.65" stroke="#111" stroke-width="0.75" fill="none"/>
<rect x="423.4" y="168.59" width="2.7" height="17.01" fill="#d8321f" stroke="#7a1a10" stroke-width="0.45"/>
<path d="M424.75 168.59V167.39M423.75 167.39H425.75" stroke="#111" stroke-width="0.75" fill="none"/>
<rect x="426.5" y="152.55" width="2.7" height="33.05" fill="#d8321f" stroke="#7a1a10" stroke-width="0.45"/>
<path d="M427.85 152.55V150.39M426.85 150.39H428.85" stroke="#111" stroke-width="0.75" fill="none"/>
<rect x="429.6" y="132.63" width="2.7" height="52.97" fill="#d8321f" stroke="#7a1a10" stroke-width="0.45"/>
<path d="M430.95 132.63V129.71M429.95 129.71H431.95" stroke="#111" stroke-width="0.75" fill="none"/>
<text x="417.1" y="193.9" font-size="6.3" text-anchor="start" font-weight="normal" fill="#222" stroke="#222" stroke-width="0.15" textLength="15.2" lengthAdjust="spacingAndGlyphs">01234</text>
<rect x="435.2" y="181.23" width="2.7" height="4.37" fill="#e98f8e" stroke="#9a5050" stroke-width="0.45"/>
<path d="M436.55 181.23V180.78M435.55 180.78H437.55" stroke="#111" stroke-width="0.75" fill="none"/>
<rect x="438.3" y="174.91" width="2.7" height="10.69" fill="#e98f8e" stroke="#9a5050" stroke-width="0.45"/>
<path d="M439.65 174.91V174.08M438.65 174.08H440.65" stroke="#111" stroke-width="0.75" fill="none"/>
<rect x="441.4" y="170.53" width="2.7" height="15.07" fill="#e98f8e" stroke="#9a5050" stroke-width="0.45"/>
<path d="M442.75 170.53V169.45M441.75 169.45H443.75" stroke="#111" stroke-width="0.75" fill="none"/>
<rect x="444.5" y="155.47" width="2.7" height="30.13" fill="#e98f8e" stroke="#9a5050" stroke-width="0.45"/>
<path d="M445.85 155.47V153.48M444.85 153.48H446.85" stroke="#111" stroke-width="0.75" fill="none"/>
<rect x="447.6" y="135.54" width="2.7" height="50.06" fill="#e98f8e" stroke="#9a5050" stroke-width="0.45"/>
<path d="M448.95 135.54V132.36M447.95 132.36H449.95" stroke="#111" stroke-width="0.75" fill="none"/>
<text x="435.1" y="193.9" font-size="6.3" text-anchor="start" font-weight="normal" fill="#222" stroke="#222" stroke-width="0.15" textLength="15.2" lengthAdjust="spacingAndGlyphs">01234</text>
<text x="424.75" y="114.2" font-size="7.9" text-anchor="middle" font-weight="normal" fill="#1a1a1a" stroke="#1a1a1a" stroke-width="0.22">K562</text>
<path d="M401 118H447.5" stroke="#2c2c2c" stroke-width="1.2"/>
<path d="M344.1 112.7V185.6" stroke="#3a3a3a" stroke-width="1.15" fill="none"/>
<path d="M343.55 185.6H451.3" stroke="#1a1a1a" stroke-width="1.2" fill="none"/>
<path d="M346.55 185.6v2.0M349.65 185.6v2.0M352.75 185.6v2.0M355.85 185.6v2.0M358.95 185.6v2.0M364.55 185.6v2.0M367.65 185.6v2.0M370.75 185.6v2.0M373.85 185.6v2.0M376.95 185.6v2.0M382.55 185.6v2.0M385.65 185.6v2.0M388.75 185.6v2.0M391.85 185.6v2.0M394.95 185.6v2.0M400.55 185.6v2.0M403.65 185.6v2.0M406.75 185.6v2.0M409.85 185.6v2.0M412.95 185.6v2.0M418.55 185.6v2.0M421.65 185.6v2.0M424.75 185.6v2.0M427.85 185.6v2.0M430.95 185.6v2.0M436.55 185.6v2.0M439.65 185.6v2.0M442.75 185.6v2.0M445.85 185.6v2.0M448.95 185.6v2.0" stroke="#1c1c1c" stroke-width="0.75"/>
<path d="M342.3 185.6H344.1" stroke="#1c1c1c" stroke-width="0.8"/>
<text x="341.7" y="187.75" font-size="7.2" text-anchor="end" font-weight="normal" fill="#222" stroke="#222" stroke-width="0.22">0</text>
<path d="M342.3 161.3H344.1" stroke="#1c1c1c" stroke-width="0.8"/>
<text x="341.7" y="163.45" font-size="7.2" text-anchor="end" font-weight="normal" fill="#222" stroke="#222" stroke-width="0.22">5</text>
<path d="M342.3 137H344.1" stroke="#1c1c1c" stroke-width="0.8"/>
<text x="341.7" y="139.15" font-size="7.2" text-anchor="end" font-weight="normal" fill="#222" stroke="#222" stroke-width="0.22">10</text>
<path d="M342.3 112.7H344.1" stroke="#1c1c1c" stroke-width="0.8"/>
<text x="341.7" y="114.85" font-size="7.2" text-anchor="end" font-weight="normal" fill="#222" stroke="#222" stroke-width="0.22">15</text>
<text x="0" y="0" font-size="8.3" text-anchor="middle" font-weight="normal" fill="#1a1a1a" stroke="#1a1a1a" stroke-width="0.22" transform="translate(204.4,148.4) rotate(-90)" textLength="71.8" lengthAdjust="spacingAndGlyphs">Relative proliferation</text>
<text x="0" y="0" font-size="9.2" text-anchor="middle" font-weight="bold" fill="#111" stroke="#111" stroke-width="0.22" transform="translate(190.2,146.6) rotate(-90)">CDK6</text>
<rect x="457.6" y="109.4" width="8.8" height="4.4" fill="#2438ee" stroke="#1a2290" stroke-width="0.35"/>
<text x="470.4" y="114.2" font-size="7.51" text-anchor="start" font-weight="normal" fill="#1a1a1a" stroke="#1a1a1a" stroke-width="0.22" textLength="29.74" lengthAdjust="spacingAndGlyphs">shControl</text>
<rect x="457.6" y="118.4" width="8.8" height="4.4" fill="#d8321f" stroke="#7a1a10" stroke-width="0.35"/>
<text x="470.4" y="123.2" font-size="7.51" text-anchor="start" font-weight="normal" fill="#1a1a1a" stroke="#1a1a1a" stroke-width="0.22" textLength="47.52" lengthAdjust="spacingAndGlyphs">shCDK6-10081</text>
<rect x="457.6" y="127.2" width="8.8" height="4.4" fill="#e98f8e" stroke="#9a5050" stroke-width="0.35"/>
<text x="470.4" y="132" font-size="7.51" text-anchor="start" font-weight="normal" fill="#1a1a1a" stroke="#1a1a1a" stroke-width="0.22" textLength="47.52" lengthAdjust="spacingAndGlyphs">shCDK6-39747</text>
<rect x="460.6" y="137.9" width="56.5" height="57.5" fill="none" stroke="#555" stroke-width="0.9" stroke-dasharray="1.6,1.6"/>
<rect x="483.8" y="151.65" width="8.4" height="37.25" fill="#2438ee" stroke="#1a2290" stroke-width="0.35"/>
<path d="M488 151.65V146.81M486.6 146.81H489.4" stroke="#222" stroke-width="0.6" fill="none"/>
<rect x="494.1" y="181.08" width="8.4" height="7.82" fill="#d8321f" stroke="#7a1a10" stroke-width="0.35"/>
<path d="M498.3 181.08V180.39M496.9 180.39H499.7" stroke="#222" stroke-width="0.6" fill="none"/>
<rect x="504.4" y="170.28" width="8.4" height="18.62" fill="#e98f8e" stroke="#9a5050" stroke-width="0.35"/>
<path d="M508.6 170.28V169.16M507.2 169.16H510" stroke="#222" stroke-width="0.6" fill="none"/>
<path d="M482.3 144.2V188.9H514" stroke="#1c1c1c" stroke-width="0.7" fill="none"/>
<path d="M481.1 188.9H482.3" stroke="#1c1c1c" stroke-width="0.6"/>
<text x="480.7" y="190.6" font-size="4.9" text-anchor="end" font-weight="normal" fill="#333" stroke="#333" stroke-width="0.08">0.0</text>
<path d="M481.1 181.45H482.3" stroke="#1c1c1c" stroke-width="0.6"/>
<text x="480.7" y="183.15" font-size="4.9" text-anchor="end" font-weight="normal" fill="#333" stroke="#333" stroke-width="0.08">0.2</text>
<path d="M481.1 174H482.3" stroke="#1c1c1c" stroke-width="0.6"/>
<text x="480.7" y="175.7" font-size="4.9" text-anchor="end" font-weight="normal" fill="#333" stroke="#333" stroke-width="0.08">0.4</text>
<path d="M481.1 166.55H482.3" stroke="#1c1c1c" stroke-width="0.6"/>
<text x="480.7" y="168.25" font-size="4.9" text-anchor="end" font-weight="normal" fill="#333" stroke="#333" stroke-width="0.08">0.6</text>
<path d="M481.1 159.1H482.3" stroke="#1c1c1c" stroke-width="0.6"/>
<text x="480.7" y="160.8" font-size="4.9" text-anchor="end" font-weight="normal" fill="#333" stroke="#333" stroke-width="0.08">0.8</text>
<path d="M481.1 151.65H482.3" stroke="#1c1c1c" stroke-width="0.6"/>
<text x="480.7" y="153.35" font-size="4.9" text-anchor="end" font-weight="normal" fill="#333" stroke="#333" stroke-width="0.08">1.0</text>
<path d="M481.1 144.2H482.3" stroke="#1c1c1c" stroke-width="0.6"/>
<text x="480.7" y="145.9" font-size="4.9" text-anchor="end" font-weight="normal" fill="#333" stroke="#333" stroke-width="0.08">1.2</text>
<text x="0" y="0" font-size="5" text-anchor="middle" font-weight="normal" fill="#222" stroke="#222" stroke-width="0.1" transform="translate(470,165.55) rotate(-90)">CDK6 expression</text>
<rect x="218.85" y="280.73" width="2.76" height="4.87" fill="#2438ee" stroke="#1a2290" stroke-width="0.45"/>
<path d="M220.23 280.73V280.25M219.23 280.25H221.23" stroke="#111" stroke-width="0.75" fill="none"/>
<rect x="222.01" y="276.83" width="2.76" height="8.77" fill="#2438ee" stroke="#1a2290" stroke-width="0.45"/>
<path d="M223.39 276.83V276.12M222.39 276.12H224.39" stroke="#111" stroke-width="0.75" fill="none"/>
<rect x="225.17" y="271.47" width="2.76" height="14.13" fill="#2438ee" stroke="#1a2290" stroke-width="0.45"/>
<path d="M226.55 271.47V270.44M225.55 270.44H227.55" stroke="#111" stroke-width="0.75" fill="none"/>
<rect x="228.33" y="251.49" width="2.76" height="34.11" fill="#2438ee" stroke="#1a2290" stroke-width="0.45"/>
<path d="M229.71 251.49V249.26M228.71 249.26H230.71" stroke="#111" stroke-width="0.75" fill="none"/>
<rect x="231.49" y="227.61" width="2.76" height="57.99" fill="#2438ee" stroke="#1a2290" stroke-width="0.45"/>
<path d="M232.87 227.61V223.95M231.87 223.95H233.87" stroke="#111" stroke-width="0.75" fill="none"/>
<text x="218.75" y="293.9" font-size="6.3" text-anchor="start" font-weight="normal" fill="#222" stroke="#222" stroke-width="0.15" textLength="15.5" lengthAdjust="spacingAndGlyphs">01234</text>
<rect x="237.1" y="280.73" width="2.76" height="4.87" fill="#d8321f" stroke="#7a1a10" stroke-width="0.45"/>
<path d="M238.48 280.73V280.25M237.48 280.25H239.48" stroke="#111" stroke-width="0.75" fill="none"/>
<rect x="240.26" y="272.93" width="2.76" height="12.67" fill="#d8321f" stroke="#7a1a10" stroke-width="0.45"/>
<path d="M241.64 272.93V271.99M240.64 271.99H242.64" stroke="#111" stroke-width="0.75" fill="none"/>
<rect x="243.42" y="273.9" width="2.76" height="11.7" fill="#d8321f" stroke="#7a1a10" stroke-width="0.45"/>
<path d="M244.8 273.9V273.02M243.8 273.02H245.8" stroke="#111" stroke-width="0.75" fill="none"/>
<rect x="246.58" y="274.39" width="2.76" height="11.21" fill="#d8321f" stroke="#7a1a10" stroke-width="0.45"/>
<path d="M247.96 274.39V273.54M246.96 273.54H248.96" stroke="#111" stroke-width="0.75" fill="none"/>
<rect x="249.74" y="270.01" width="2.76" height="15.59" fill="#d8321f" stroke="#7a1a10" stroke-width="0.45"/>
<path d="M251.12 270.01V266.11M250.12 266.11H252.12" stroke="#111" stroke-width="0.75" fill="none"/>
<text x="237" y="293.9" font-size="6.3" text-anchor="start" font-weight="normal" fill="#222" stroke="#222" stroke-width="0.15" textLength="15.5" lengthAdjust="spacingAndGlyphs">01234</text>
<rect x="255.35" y="280.73" width="2.76" height="4.87" fill="#e98f8e" stroke="#9a5050" stroke-width="0.45"/>
<path d="M256.73 280.73V280.25M255.73 280.25H257.73" stroke="#111" stroke-width="0.75" fill="none"/>
<rect x="258.51" y="277.56" width="2.76" height="8.04" fill="#e98f8e" stroke="#9a5050" stroke-width="0.45"/>
<path d="M259.89 277.56V276.89M258.89 276.89H260.89" stroke="#111" stroke-width="0.75" fill="none"/>
<rect x="261.67" y="274.88" width="2.76" height="10.72" fill="#e98f8e" stroke="#9a5050" stroke-width="0.45"/>
<path d="M263.05 274.88V274.05M262.05 274.05H264.05" stroke="#111" stroke-width="0.75" fill="none"/>
<rect x="264.83" y="273.9" width="2.76" height="11.7" fill="#e98f8e" stroke="#9a5050" stroke-width="0.45"/>
<path d="M266.21 273.9V273.02M265.21 273.02H267.21" stroke="#111" stroke-width="0.75" fill="none"/>
<rect x="267.99" y="270.98" width="2.76" height="14.62" fill="#e98f8e" stroke="#9a5050" stroke-width="0.45"/>
<path d="M269.37 270.98V269.92M268.37 269.92H270.37" stroke="#111" stroke-width="0.75" fill="none"/>
<text x="255.25" y="293.9" font-size="6.3" text-anchor="start" font-weight="normal" fill="#222" stroke="#222" stroke-width="0.15" textLength="15.5" lengthAdjust="spacingAndGlyphs">01234</text>
<text x="246.6" y="214.2" font-size="7.9" text-anchor="middle" font-weight="normal" fill="#1a1a1a" stroke="#1a1a1a" stroke-width="0.22">NOMO-1</text>
<path d="M220.65 218.4H267.95" stroke="#2c2c2c" stroke-width="1.2"/>
<rect x="273.6" y="280.73" width="2.76" height="4.87" fill="#2438ee" stroke="#1a2290" stroke-width="0.45"/>
<path d="M274.98 280.73V280.25M273.98 280.25H275.98" stroke="#111" stroke-width="0.75" fill="none"/>
<rect x="276.76" y="274.39" width="2.76" height="11.21" fill="#2438ee" stroke="#1a2290" stroke-width="0.45"/>
<path d="M278.14 274.39V273.54M277.14 273.54H279.14" stroke="#111" stroke-width="0.75" fill="none"/>
<rect x="279.92" y="266.11" width="2.76" height="19.49" fill="#2438ee" stroke="#1a2290" stroke-width="0.45"/>
<path d="M281.3 266.11V264.75M280.3 264.75H282.3" stroke="#111" stroke-width="0.75" fill="none"/>
<rect x="283.08" y="255.39" width="2.76" height="30.21" fill="#2438ee" stroke="#1a2290" stroke-width="0.45"/>
<path d="M284.46 255.39V253.39M283.46 253.39H285.46" stroke="#111" stroke-width="0.75" fill="none"/>
<rect x="286.24" y="234.92" width="2.76" height="50.68" fill="#2438ee" stroke="#1a2290" stroke-width="0.45"/>
<path d="M287.62 234.92V232.48M286.62 232.48H288.62" stroke="#111" stroke-width="0.75" fill="none"/>
<text x="273.5" y="293.9" font-size="6.3" text-anchor="start" font-weight="normal" fill="#222" stroke="#222" stroke-width="0.15" textLength="15.5" lengthAdjust="spacingAndGlyphs">01234</text>
<rect x="291.85" y="280.73" width="2.76" height="4.87" fill="#d8321f" stroke="#7a1a10" stroke-width="0.45"/>
<path d="M293.23 280.73V280.25M292.23 280.25H294.23" stroke="#111" stroke-width="0.75" fill="none"/>
<rect x="295.01" y="272.44" width="2.76" height="13.16" fill="#d8321f" stroke="#7a1a10" stroke-width="0.45"/>
<path d="M296.39 272.44V271.47M295.39 271.47H297.39" stroke="#111" stroke-width="0.75" fill="none"/>
<rect x="298.17" y="265.62" width="2.76" height="19.98" fill="#d8321f" stroke="#7a1a10" stroke-width="0.45"/>
<path d="M299.55 265.62V264.24M298.55 264.24H300.55" stroke="#111" stroke-width="0.75" fill="none"/>
<rect x="301.33" y="256.36" width="2.76" height="29.24" fill="#d8321f" stroke="#7a1a10" stroke-width="0.45"/>
<path d="M302.71 256.36V254.42M301.71 254.42H303.71" stroke="#111" stroke-width="0.75" fill="none"/>
<rect x="304.49" y="239.79" width="2.76" height="45.81" fill="#d8321f" stroke="#7a1a10" stroke-width="0.45"/>
<path d="M305.87 239.79V236.86M304.87 236.86H306.87" stroke="#111" stroke-width="0.75" fill="none"/>
<text x="291.75" y="293.9" font-size="6.3" text-anchor="start" font-weight="normal" fill="#222" stroke="#222" stroke-width="0.15" textLength="15.5" lengthAdjust="spacingAndGlyphs">01234</text>
<rect x="310.1" y="280.73" width="2.76" height="4.87" fill="#e98f8e" stroke="#9a5050" stroke-width="0.45"/>
<path d="M311.48 280.73V280.25M310.48 280.25H312.48" stroke="#111" stroke-width="0.75" fill="none"/>
<rect x="313.26" y="274.39" width="2.76" height="11.21" fill="#e98f8e" stroke="#9a5050" stroke-width="0.45"/>
<path d="M314.64 274.39V273.54M313.64 273.54H315.64" stroke="#111" stroke-width="0.75" fill="none"/>
<rect x="316.42" y="268.54" width="2.76" height="17.06" fill="#e98f8e" stroke="#9a5050" stroke-width="0.45"/>
<path d="M317.8 268.54V267.34M316.8 267.34H318.8" stroke="#111" stroke-width="0.75" fill="none"/>
<rect x="319.58" y="263.67" width="2.76" height="21.93" fill="#e98f8e" stroke="#9a5050" stroke-width="0.45"/>
<path d="M320.96 263.67V262.17M319.96 262.17H321.96" stroke="#111" stroke-width="0.75" fill="none"/>
<rect x="322.74" y="254.9" width="2.76" height="30.7" fill="#e98f8e" stroke="#9a5050" stroke-width="0.45"/>
<path d="M324.12 254.9V252.87M323.12 252.87H325.12" stroke="#111" stroke-width="0.75" fill="none"/>
<text x="310" y="293.9" font-size="6.3" text-anchor="start" font-weight="normal" fill="#222" stroke="#222" stroke-width="0.15" textLength="15.5" lengthAdjust="spacingAndGlyphs">01234</text>
<text x="299.55" y="214.2" font-size="7.9" text-anchor="middle" font-weight="normal" fill="#1a1a1a" stroke="#1a1a1a" stroke-width="0.22">THP-1</text>
<path d="M275.4 218.4H322.7" stroke="#2c2c2c" stroke-width="1.2"/>
<path d="M217.9 212.5V285.6" stroke="#3a3a3a" stroke-width="1.15" fill="none"/>
<path d="M217.35 285.6H326.5" stroke="#1a1a1a" stroke-width="1.2" fill="none"/>
<path d="M220.23 285.6v2.0M223.39 285.6v2.0M226.55 285.6v2.0M229.71 285.6v2.0M232.87 285.6v2.0M238.48 285.6v2.0M241.64 285.6v2.0M244.8 285.6v2.0M247.96 285.6v2.0M251.12 285.6v2.0M256.73 285.6v2.0M259.89 285.6v2.0M263.05 285.6v2.0M266.21 285.6v2.0M269.37 285.6v2.0M274.98 285.6v2.0M278.14 285.6v2.0M281.3 285.6v2.0M284.46 285.6v2.0M287.62 285.6v2.0M293.23 285.6v2.0M296.39 285.6v2.0M299.55 285.6v2.0M302.71 285.6v2.0M305.87 285.6v2.0M311.48 285.6v2.0M314.64 285.6v2.0M317.8 285.6v2.0M320.96 285.6v2.0M324.12 285.6v2.0" stroke="#1c1c1c" stroke-width="0.75"/>
<path d="M216.1 285.6H217.9" stroke="#1c1c1c" stroke-width="0.8"/>
<text x="215.5" y="287.75" font-size="7.2" text-anchor="end" font-weight="normal" fill="#222" stroke="#222" stroke-width="0.22">0</text>
<path d="M216.1 261.23H217.9" stroke="#1c1c1c" stroke-width="0.8"/>
<text x="215.5" y="263.38" font-size="7.2" text-anchor="end" font-weight="normal" fill="#222" stroke="#222" stroke-width="0.22">5</text>
<path d="M216.1 236.87H217.9" stroke="#1c1c1c" stroke-width="0.8"/>
<text x="215.5" y="239.02" font-size="7.2" text-anchor="end" font-weight="normal" fill="#222" stroke="#222" stroke-width="0.22">10</text>
<path d="M216.1 212.5H217.9" stroke="#1c1c1c" stroke-width="0.8"/>
<text x="215.5" y="214.65" font-size="7.2" text-anchor="end" font-weight="normal" fill="#222" stroke="#222" stroke-width="0.22">15</text>
<rect x="345.1" y="283.07" width="2.75" height="2.43" fill="#2438ee" stroke="#1a2290" stroke-width="0.45"/>
<path d="M346.47 283.07V282.75M345.47 282.75H347.47" stroke="#111" stroke-width="0.75" fill="none"/>
<rect x="348.25" y="277.98" width="2.75" height="7.52" fill="#2438ee" stroke="#1a2290" stroke-width="0.45"/>
<path d="M349.62 277.98V277.34M348.62 277.34H350.62" stroke="#111" stroke-width="0.75" fill="none"/>
<rect x="351.4" y="267.54" width="2.75" height="17.96" fill="#2438ee" stroke="#1a2290" stroke-width="0.45"/>
<path d="M352.77 267.54V266.28M351.77 266.28H353.77" stroke="#111" stroke-width="0.75" fill="none"/>
<rect x="354.55" y="257.59" width="2.75" height="27.91" fill="#2438ee" stroke="#1a2290" stroke-width="0.45"/>
<path d="M355.92 257.59V255.74M354.92 255.74H356.92" stroke="#111" stroke-width="0.75" fill="none"/>
<rect x="357.7" y="239.88" width="2.75" height="45.62" fill="#2438ee" stroke="#1a2290" stroke-width="0.45"/>
<path d="M359.07 239.88V236.24M358.07 236.24H360.07" stroke="#111" stroke-width="0.75" fill="none"/>
<text x="345" y="293.8" font-size="6.3" text-anchor="start" font-weight="normal" fill="#222" stroke="#222" stroke-width="0.15" textLength="15.45" lengthAdjust="spacingAndGlyphs">01234</text>
<rect x="363.45" y="283.32" width="2.75" height="2.18" fill="#d8321f" stroke="#7a1a10" stroke-width="0.45"/>
<path d="M364.82 283.32V283M363.82 283H365.82" stroke="#111" stroke-width="0.75" fill="none"/>
<rect x="366.6" y="281.25" width="2.75" height="4.25" fill="#d8321f" stroke="#7a1a10" stroke-width="0.45"/>
<path d="M367.97 281.25V280.82M366.97 280.82H368.97" stroke="#111" stroke-width="0.75" fill="none"/>
<rect x="369.75" y="279.43" width="2.75" height="6.07" fill="#d8321f" stroke="#7a1a10" stroke-width="0.45"/>
<path d="M371.12 279.43V278.89M370.12 278.89H372.12" stroke="#111" stroke-width="0.75" fill="none"/>
<rect x="372.9" y="277.49" width="2.75" height="8.01" fill="#d8321f" stroke="#7a1a10" stroke-width="0.45"/>
<path d="M374.27 277.49V276.83M373.27 276.83H375.27" stroke="#111" stroke-width="0.75" fill="none"/>
<rect x="376.05" y="271.18" width="2.75" height="14.32" fill="#d8321f" stroke="#7a1a10" stroke-width="0.45"/>
<path d="M377.43 271.18V270.14M376.43 270.14H378.43" stroke="#111" stroke-width="0.75" fill="none"/>
<text x="363.35" y="293.8" font-size="6.3" text-anchor="start" font-weight="normal" fill="#222" stroke="#222" stroke-width="0.15" textLength="15.45" lengthAdjust="spacingAndGlyphs">01234</text>
<rect x="381.8" y="283.32" width="2.75" height="2.18" fill="#e98f8e" stroke="#9a5050" stroke-width="0.45"/>
<path d="M383.17 283.32V283M382.17 283H384.17" stroke="#111" stroke-width="0.75" fill="none"/>
<rect x="384.95" y="279.43" width="2.75" height="6.07" fill="#e98f8e" stroke="#9a5050" stroke-width="0.45"/>
<path d="M386.32 279.43V278.89M385.32 278.89H387.32" stroke="#111" stroke-width="0.75" fill="none"/>
<rect x="388.1" y="276.28" width="2.75" height="9.22" fill="#e98f8e" stroke="#9a5050" stroke-width="0.45"/>
<path d="M389.47 276.28V275.54M388.47 275.54H390.47" stroke="#111" stroke-width="0.75" fill="none"/>
<rect x="391.25" y="272.88" width="2.75" height="12.62" fill="#e98f8e" stroke="#9a5050" stroke-width="0.45"/>
<path d="M392.62 272.88V271.94M391.62 271.94H393.62" stroke="#111" stroke-width="0.75" fill="none"/>
<rect x="394.4" y="266.33" width="2.75" height="19.17" fill="#e98f8e" stroke="#9a5050" stroke-width="0.45"/>
<path d="M395.77 266.33V265M394.77 265H396.77" stroke="#111" stroke-width="0.75" fill="none"/>
<text x="381.7" y="293.8" font-size="6.3" text-anchor="start" font-weight="normal" fill="#222" stroke="#222" stroke-width="0.15" textLength="15.45" lengthAdjust="spacingAndGlyphs">01234</text>
<text x="371.12" y="214.4" font-size="7.9" text-anchor="middle" font-weight="normal" fill="#1a1a1a" stroke="#1a1a1a" stroke-width="0.22">OCI-AML3</text>
<path d="M346.9 218.6H394.35" stroke="#2c2c2c" stroke-width="1.2"/>
<rect x="400.15" y="283.32" width="2.75" height="2.18" fill="#2438ee" stroke="#1a2290" stroke-width="0.45"/>
<path d="M401.52 283.32V283M400.52 283H402.52" stroke="#111" stroke-width="0.75" fill="none"/>
<rect x="403.3" y="277.98" width="2.75" height="7.52" fill="#2438ee" stroke="#1a2290" stroke-width="0.45"/>
<path d="M404.67 277.98V277.34M403.67 277.34H405.67" stroke="#111" stroke-width="0.75" fill="none"/>
<rect x="406.45" y="268.76" width="2.75" height="16.74" fill="#2438ee" stroke="#1a2290" stroke-width="0.45"/>
<path d="M407.82 268.76V267.57M406.82 267.57H408.82" stroke="#111" stroke-width="0.75" fill="none"/>
<rect x="409.6" y="259.29" width="2.75" height="26.21" fill="#2438ee" stroke="#1a2290" stroke-width="0.45"/>
<path d="M410.97 259.29V257.54M409.97 257.54H411.97" stroke="#111" stroke-width="0.75" fill="none"/>
<rect x="412.75" y="228.72" width="2.75" height="56.78" fill="#2438ee" stroke="#1a2290" stroke-width="0.45"/>
<path d="M414.12 228.72V224.83M413.12 224.83H415.12" stroke="#111" stroke-width="0.75" fill="none"/>
<text x="400.05" y="293.8" font-size="6.3" text-anchor="start" font-weight="normal" fill="#222" stroke="#222" stroke-width="0.15" textLength="15.45" lengthAdjust="spacingAndGlyphs">01234</text>
<rect x="418.5" y="283.32" width="2.75" height="2.18" fill="#d8321f" stroke="#7a1a10" stroke-width="0.45"/>
<path d="M419.87 283.32V283M418.87 283H420.87" stroke="#111" stroke-width="0.75" fill="none"/>
<rect x="421.65" y="279.43" width="2.75" height="6.07" fill="#d8321f" stroke="#7a1a10" stroke-width="0.45"/>
<path d="M423.02 279.43V278.89M422.02 278.89H424.02" stroke="#111" stroke-width="0.75" fill="none"/>
<rect x="424.8" y="275.07" width="2.75" height="10.43" fill="#d8321f" stroke="#7a1a10" stroke-width="0.45"/>
<path d="M426.17 275.07V274.26M425.17 274.26H427.17" stroke="#111" stroke-width="0.75" fill="none"/>
<rect x="427.95" y="266.33" width="2.75" height="19.17" fill="#d8321f" stroke="#7a1a10" stroke-width="0.45"/>
<path d="M429.32 266.33V265M428.32 265H430.32" stroke="#111" stroke-width="0.75" fill="none"/>
<rect x="431.1" y="259.53" width="2.75" height="25.97" fill="#d8321f" stroke="#7a1a10" stroke-width="0.45"/>
<path d="M432.47 259.53V257.79M431.47 257.79H433.47" stroke="#111" stroke-width="0.75" fill="none"/>
<text x="418.4" y="293.8" font-size="6.3" text-anchor="start" font-weight="normal" fill="#222" stroke="#222" stroke-width="0.15" textLength="15.45" lengthAdjust="spacingAndGlyphs">01234</text>
<rect x="436.85" y="283.32" width="2.75" height="2.18" fill="#e98f8e" stroke="#9a5050" stroke-width="0.45"/>
<path d="M438.22 283.32V283M437.22 283H439.22" stroke="#111" stroke-width="0.75" fill="none"/>
<rect x="440" y="279.92" width="2.75" height="5.58" fill="#e98f8e" stroke="#9a5050" stroke-width="0.45"/>
<path d="M441.37 279.92V279.4M440.37 279.4H442.37" stroke="#111" stroke-width="0.75" fill="none"/>
<rect x="443.15" y="276.28" width="2.75" height="9.22" fill="#e98f8e" stroke="#9a5050" stroke-width="0.45"/>
<path d="M444.52 276.28V275.54M443.52 275.54H445.52" stroke="#111" stroke-width="0.75" fill="none"/>
<rect x="446.3" y="272.4" width="2.75" height="13.1" fill="#e98f8e" stroke="#9a5050" stroke-width="0.45"/>
<path d="M447.67 272.4V271.43M446.67 271.43H448.67" stroke="#111" stroke-width="0.75" fill="none"/>
<rect x="449.45" y="261.23" width="2.75" height="24.27" fill="#e98f8e" stroke="#9a5050" stroke-width="0.45"/>
<path d="M450.82 261.23V259.6M449.82 259.6H451.82" stroke="#111" stroke-width="0.75" fill="none"/>
<text x="436.75" y="293.8" font-size="6.3" text-anchor="start" font-weight="normal" fill="#222" stroke="#222" stroke-width="0.15" textLength="15.45" lengthAdjust="spacingAndGlyphs">01234</text>
<text x="426.17" y="214.4" font-size="7.9" text-anchor="middle" font-weight="normal" fill="#1a1a1a" stroke="#1a1a1a" stroke-width="0.22">U937</text>
<path d="M401.95 218.6H449.4" stroke="#2c2c2c" stroke-width="1.2"/>
<path d="M344.1 212.7V285.5" stroke="#3a3a3a" stroke-width="1.15" fill="none"/>
<path d="M343.55 285.5H453.2" stroke="#1a1a1a" stroke-width="1.2" fill="none"/>
<path d="M346.47 285.5v2.0M349.62 285.5v2.0M352.77 285.5v2.0M355.92 285.5v2.0M359.07 285.5v2.0M364.82 285.5v2.0M367.97 285.5v2.0M371.12 285.5v2.0M374.27 285.5v2.0M377.43 285.5v2.0M383.17 285.5v2.0M386.32 285.5v2.0M389.47 285.5v2.0M392.62 285.5v2.0M395.77 285.5v2.0M401.52 285.5v2.0M404.67 285.5v2.0M407.82 285.5v2.0M410.97 285.5v2.0M414.12 285.5v2.0M419.87 285.5v2.0M423.02 285.5v2.0M426.17 285.5v2.0M429.32 285.5v2.0M432.47 285.5v2.0M438.22 285.5v2.0M441.37 285.5v2.0M444.52 285.5v2.0M447.67 285.5v2.0M450.82 285.5v2.0" stroke="#1c1c1c" stroke-width="0.75"/>
<path d="M342.3 285.5H344.1" stroke="#1c1c1c" stroke-width="0.8"/>
<text x="341.7" y="287.65" font-size="7.2" text-anchor="end" font-weight="normal" fill="#222" stroke="#222" stroke-width="0.22">0</text>
<path d="M342.3 261.23H344.1" stroke="#1c1c1c" stroke-width="0.8"/>
<text x="341.7" y="263.38" font-size="7.2" text-anchor="end" font-weight="normal" fill="#222" stroke="#222" stroke-width="0.22">10</text>
<path d="M342.3 236.97H344.1" stroke="#1c1c1c" stroke-width="0.8"/>
<text x="341.7" y="239.12" font-size="7.2" text-anchor="end" font-weight="normal" fill="#222" stroke="#222" stroke-width="0.22">20</text>
<path d="M342.3 212.7H344.1" stroke="#1c1c1c" stroke-width="0.8"/>
<text x="341.7" y="214.85" font-size="7.2" text-anchor="end" font-weight="normal" fill="#222" stroke="#222" stroke-width="0.22">30</text>
<text x="0" y="0" font-size="8.3" text-anchor="middle" font-weight="normal" fill="#1a1a1a" stroke="#1a1a1a" stroke-width="0.22" transform="translate(204.4,247.7) rotate(-90)" textLength="71.8" lengthAdjust="spacingAndGlyphs">Relative proliferation</text>
<text x="0" y="0" font-size="9.2" text-anchor="middle" font-weight="bold" fill="#111" stroke="#111" stroke-width="0.22" transform="translate(190.2,243.7) rotate(-90)">DGKH</text>
<rect x="459.5" y="207.9" width="8.8" height="4.4" fill="#2438ee" stroke="#1a2290" stroke-width="0.35"/>
<text x="471.8" y="212.7" font-size="7.61" text-anchor="start" font-weight="normal" fill="#1a1a1a" stroke="#1a1a1a" stroke-width="0.22" textLength="30.17" lengthAdjust="spacingAndGlyphs">shControl</text>
<rect x="459.5" y="216.8" width="8.8" height="4.4" fill="#d8321f" stroke="#7a1a10" stroke-width="0.35"/>
<text x="471.8" y="221.6" font-size="7.61" text-anchor="start" font-weight="normal" fill="#1a1a1a" stroke="#1a1a1a" stroke-width="0.22" textLength="45.84" lengthAdjust="spacingAndGlyphs">shDGKH-1357</text>
<rect x="459.5" y="225.4" width="8.8" height="4.4" fill="#e98f8e" stroke="#9a5050" stroke-width="0.35"/>
<text x="471.8" y="230.2" font-size="7.61" text-anchor="start" font-weight="normal" fill="#1a1a1a" stroke="#1a1a1a" stroke-width="0.22" textLength="45.84" lengthAdjust="spacingAndGlyphs">shDGKH-1360</text>
<rect x="460.6" y="234.6" width="56.5" height="57.3" fill="none" stroke="#555" stroke-width="0.9" stroke-dasharray="1.6,1.6"/>
<rect x="483.8" y="263.15" width="8.4" height="22.25" fill="#2438ee" stroke="#1a2290" stroke-width="0.35"/>
<path d="M488 263.15V262.04M486.6 262.04H489.4" stroke="#222" stroke-width="0.6" fill="none"/>
<rect x="494.1" y="249.8" width="8.4" height="35.6" fill="#d8321f" stroke="#7a1a10" stroke-width="0.35"/>
<path d="M498.3 249.8V248.15M496.9 248.15H499.7" stroke="#222" stroke-width="0.6" fill="none"/>
<rect x="504.4" y="266.71" width="8.4" height="18.69" fill="#e98f8e" stroke="#9a5050" stroke-width="0.35"/>
<path d="M508.6 266.71V264.26M507.2 264.26H510" stroke="#222" stroke-width="0.6" fill="none"/>
<path d="M482.3 240.9V285.4H514" stroke="#1c1c1c" stroke-width="0.7" fill="none"/>
<path d="M481.1 285.4H482.3" stroke="#1c1c1c" stroke-width="0.6"/>
<text x="480.7" y="287.1" font-size="4.9" text-anchor="end" font-weight="normal" fill="#333" stroke="#333" stroke-width="0.08">0.0</text>
<path d="M481.1 274.27H482.3" stroke="#1c1c1c" stroke-width="0.6"/>
<text x="480.7" y="275.97" font-size="4.9" text-anchor="end" font-weight="normal" fill="#333" stroke="#333" stroke-width="0.08">0.5</text>
<path d="M481.1 263.15H482.3" stroke="#1c1c1c" stroke-width="0.6"/>
<text x="480.7" y="264.85" font-size="4.9" text-anchor="end" font-weight="normal" fill="#333" stroke="#333" stroke-width="0.08">1.0</text>
<path d="M481.1 252.03H482.3" stroke="#1c1c1c" stroke-width="0.6"/>
<text x="480.7" y="253.72" font-size="4.9" text-anchor="end" font-weight="normal" fill="#333" stroke="#333" stroke-width="0.08">1.5</text>
<path d="M481.1 240.9H482.3" stroke="#1c1c1c" stroke-width="0.6"/>
<text x="480.7" y="242.6" font-size="4.9" text-anchor="end" font-weight="normal" fill="#333" stroke="#333" stroke-width="0.08">2.0</text>
<text x="0" y="0" font-size="5" text-anchor="middle" font-weight="normal" fill="#222" stroke="#222" stroke-width="0.1" transform="translate(470,262.15) rotate(-90)">DGKH expression</text>
<rect x="218.85" y="372.31" width="2.76" height="4.39" fill="#2438ee" stroke="#1a2290" stroke-width="0.45"/>
<path d="M220.23 372.31V371.87M219.23 371.87H221.23" stroke="#111" stroke-width="0.75" fill="none"/>
<rect x="222.01" y="367.93" width="2.76" height="8.77" fill="#2438ee" stroke="#1a2290" stroke-width="0.45"/>
<path d="M223.39 367.93V367.22M222.39 367.22H224.39" stroke="#111" stroke-width="0.75" fill="none"/>
<rect x="225.17" y="355.26" width="2.76" height="21.44" fill="#2438ee" stroke="#1a2290" stroke-width="0.45"/>
<path d="M226.55 355.26V353.79M225.55 353.79H227.55" stroke="#111" stroke-width="0.75" fill="none"/>
<rect x="228.33" y="346.49" width="2.76" height="30.21" fill="#2438ee" stroke="#1a2290" stroke-width="0.45"/>
<path d="M229.71 346.49V344.49M228.71 344.49H230.71" stroke="#111" stroke-width="0.75" fill="none"/>
<rect x="231.49" y="332.84" width="2.76" height="43.86" fill="#2438ee" stroke="#1a2290" stroke-width="0.45"/>
<path d="M232.87 332.84V330.03M231.87 330.03H233.87" stroke="#111" stroke-width="0.75" fill="none"/>
<text x="218.75" y="385" font-size="6.3" text-anchor="start" font-weight="normal" fill="#222" stroke="#222" stroke-width="0.15" textLength="15.5" lengthAdjust="spacingAndGlyphs">01234</text>
<rect x="237.1" y="372.31" width="2.76" height="4.39" fill="#d8321f" stroke="#7a1a10" stroke-width="0.45"/>
<path d="M238.48 372.31V371.87M237.48 371.87H239.48" stroke="#111" stroke-width="0.75" fill="none"/>
<rect x="240.26" y="367.44" width="2.76" height="9.26" fill="#d8321f" stroke="#7a1a10" stroke-width="0.45"/>
<path d="M241.64 367.44V366.7M240.64 366.7H242.64" stroke="#111" stroke-width="0.75" fill="none"/>
<rect x="243.42" y="358.67" width="2.76" height="18.03" fill="#d8321f" stroke="#7a1a10" stroke-width="0.45"/>
<path d="M244.8 358.67V357.4M243.8 357.4H245.8" stroke="#111" stroke-width="0.75" fill="none"/>
<rect x="246.58" y="352.82" width="2.76" height="23.88" fill="#d8321f" stroke="#7a1a10" stroke-width="0.45"/>
<path d="M247.96 352.82V351.21M246.96 351.21H248.96" stroke="#111" stroke-width="0.75" fill="none"/>
<rect x="249.74" y="337.23" width="2.76" height="39.47" fill="#d8321f" stroke="#7a1a10" stroke-width="0.45"/>
<path d="M251.12 337.23V334.67M250.12 334.67H252.12" stroke="#111" stroke-width="0.75" fill="none"/>
<text x="237" y="385" font-size="6.3" text-anchor="start" font-weight="normal" fill="#222" stroke="#222" stroke-width="0.15" textLength="15.5" lengthAdjust="spacingAndGlyphs">01234</text>
<rect x="255.35" y="372.31" width="2.76" height="4.39" fill="#e98f8e" stroke="#9a5050" stroke-width="0.45"/>
<path d="M256.73 372.31V371.87M255.73 371.87H257.73" stroke="#111" stroke-width="0.75" fill="none"/>
<rect x="258.51" y="369.39" width="2.76" height="7.31" fill="#e98f8e" stroke="#9a5050" stroke-width="0.45"/>
<path d="M259.89 369.39V368.77M258.89 368.77H260.89" stroke="#111" stroke-width="0.75" fill="none"/>
<rect x="261.67" y="361.11" width="2.76" height="15.59" fill="#e98f8e" stroke="#9a5050" stroke-width="0.45"/>
<path d="M263.05 361.11V359.99M262.05 359.99H264.05" stroke="#111" stroke-width="0.75" fill="none"/>
<rect x="264.83" y="358.67" width="2.76" height="18.03" fill="#e98f8e" stroke="#9a5050" stroke-width="0.45"/>
<path d="M266.21 358.67V357.4M265.21 357.4H267.21" stroke="#111" stroke-width="0.75" fill="none"/>
<rect x="267.99" y="349.9" width="2.76" height="26.8" fill="#e98f8e" stroke="#9a5050" stroke-width="0.45"/>
<path d="M269.37 349.9V348.11M268.37 348.11H270.37" stroke="#111" stroke-width="0.75" fill="none"/>
<text x="255.25" y="385" font-size="6.3" text-anchor="start" font-weight="normal" fill="#222" stroke="#222" stroke-width="0.15" textLength="15.5" lengthAdjust="spacingAndGlyphs">01234</text>
<text x="246.6" y="305.7" font-size="7.9" text-anchor="middle" font-weight="normal" fill="#1a1a1a" stroke="#1a1a1a" stroke-width="0.22">NOMO-1</text>
<path d="M220.65 309.5H267.95" stroke="#2c2c2c" stroke-width="1.2"/>
<rect x="273.6" y="372.31" width="2.76" height="4.39" fill="#2438ee" stroke="#1a2290" stroke-width="0.45"/>
<path d="M274.98 372.31V371.87M273.98 371.87H275.98" stroke="#111" stroke-width="0.75" fill="none"/>
<rect x="276.76" y="365.98" width="2.76" height="10.72" fill="#2438ee" stroke="#1a2290" stroke-width="0.45"/>
<path d="M278.14 365.98V365.15M277.14 365.15H279.14" stroke="#111" stroke-width="0.75" fill="none"/>
<rect x="279.92" y="358.67" width="2.76" height="18.03" fill="#2438ee" stroke="#1a2290" stroke-width="0.45"/>
<path d="M281.3 358.67V357.4M280.3 357.4H282.3" stroke="#111" stroke-width="0.75" fill="none"/>
<rect x="283.08" y="346" width="2.76" height="30.7" fill="#2438ee" stroke="#1a2290" stroke-width="0.45"/>
<path d="M284.46 346V343.97M283.46 343.97H285.46" stroke="#111" stroke-width="0.75" fill="none"/>
<rect x="286.24" y="326.02" width="2.76" height="50.68" fill="#2438ee" stroke="#1a2290" stroke-width="0.45"/>
<path d="M287.62 326.02V322.79M286.62 322.79H288.62" stroke="#111" stroke-width="0.75" fill="none"/>
<text x="273.5" y="385" font-size="6.3" text-anchor="start" font-weight="normal" fill="#222" stroke="#222" stroke-width="0.15" textLength="15.5" lengthAdjust="spacingAndGlyphs">01234</text>
<rect x="291.85" y="372.31" width="2.76" height="4.39" fill="#d8321f" stroke="#7a1a10" stroke-width="0.45"/>
<path d="M293.23 372.31V371.87M292.23 371.87H294.23" stroke="#111" stroke-width="0.75" fill="none"/>
<rect x="295.01" y="370.36" width="2.76" height="6.34" fill="#d8321f" stroke="#7a1a10" stroke-width="0.45"/>
<path d="M296.39 370.36V369.8M295.39 369.8H297.39" stroke="#111" stroke-width="0.75" fill="none"/>
<rect x="298.17" y="366.47" width="2.76" height="10.23" fill="#d8321f" stroke="#7a1a10" stroke-width="0.45"/>
<path d="M299.55 366.47V365.67M298.55 365.67H300.55" stroke="#111" stroke-width="0.75" fill="none"/>
<rect x="301.33" y="363.54" width="2.76" height="13.16" fill="#d8321f" stroke="#7a1a10" stroke-width="0.45"/>
<path d="M302.71 363.54V362.57M301.71 362.57H303.71" stroke="#111" stroke-width="0.75" fill="none"/>
<rect x="304.49" y="362.08" width="2.76" height="14.62" fill="#d8321f" stroke="#7a1a10" stroke-width="0.45"/>
<path d="M305.87 362.08V361.02M304.87 361.02H306.87" stroke="#111" stroke-width="0.75" fill="none"/>
<text x="291.75" y="385" font-size="6.3" text-anchor="start" font-weight="normal" fill="#222" stroke="#222" stroke-width="0.15" textLength="15.5" lengthAdjust="spacingAndGlyphs">01234</text>
<rect x="310.1" y="372.31" width="2.76" height="4.39" fill="#e98f8e" stroke="#9a5050" stroke-width="0.45"/>
<path d="M311.48 372.31V371.87M310.48 371.87H312.48" stroke="#111" stroke-width="0.75" fill="none"/>
<rect x="313.26" y="366.47" width="2.76" height="10.23" fill="#e98f8e" stroke="#9a5050" stroke-width="0.45"/>
<path d="M314.64 366.47V365.67M313.64 365.67H315.64" stroke="#111" stroke-width="0.75" fill="none"/>
<rect x="316.42" y="362.57" width="2.76" height="14.13" fill="#e98f8e" stroke="#9a5050" stroke-width="0.45"/>
<path d="M317.8 362.57V361.54M316.8 361.54H318.8" stroke="#111" stroke-width="0.75" fill="none"/>
<rect x="319.58" y="359.64" width="2.76" height="17.06" fill="#e98f8e" stroke="#9a5050" stroke-width="0.45"/>
<path d="M320.96 359.64V358.44M319.96 358.44H321.96" stroke="#111" stroke-width="0.75" fill="none"/>
<rect x="322.74" y="357.69" width="2.76" height="19.01" fill="#e98f8e" stroke="#9a5050" stroke-width="0.45"/>
<path d="M324.12 357.69V356.37M323.12 356.37H325.12" stroke="#111" stroke-width="0.75" fill="none"/>
<text x="310" y="385" font-size="6.3" text-anchor="start" font-weight="normal" fill="#222" stroke="#222" stroke-width="0.15" textLength="15.5" lengthAdjust="spacingAndGlyphs">01234</text>
<text x="299.55" y="305.7" font-size="7.9" text-anchor="middle" font-weight="normal" fill="#1a1a1a" stroke="#1a1a1a" stroke-width="0.22">THP-1</text>
<path d="M275.4 309.5H322.7" stroke="#2c2c2c" stroke-width="1.2"/>
<path d="M217.9 303.6V376.7" stroke="#3a3a3a" stroke-width="1.15" fill="none"/>
<path d="M217.35 376.7H326.5" stroke="#1a1a1a" stroke-width="1.2" fill="none"/>
<path d="M220.23 376.7v2.0M223.39 376.7v2.0M226.55 376.7v2.0M229.71 376.7v2.0M232.87 376.7v2.0M238.48 376.7v2.0M241.64 376.7v2.0M244.8 376.7v2.0M247.96 376.7v2.0M251.12 376.7v2.0M256.73 376.7v2.0M259.89 376.7v2.0M263.05 376.7v2.0M266.21 376.7v2.0M269.37 376.7v2.0M274.98 376.7v2.0M278.14 376.7v2.0M281.3 376.7v2.0M284.46 376.7v2.0M287.62 376.7v2.0M293.23 376.7v2.0M296.39 376.7v2.0M299.55 376.7v2.0M302.71 376.7v2.0M305.87 376.7v2.0M311.48 376.7v2.0M314.64 376.7v2.0M317.8 376.7v2.0M320.96 376.7v2.0M324.12 376.7v2.0" stroke="#1c1c1c" stroke-width="0.75"/>
<path d="M216.1 376.7H217.9" stroke="#1c1c1c" stroke-width="0.8"/>
<text x="215.5" y="378.85" font-size="7.2" text-anchor="end" font-weight="normal" fill="#222" stroke="#222" stroke-width="0.22">0</text>
<path d="M216.1 352.33H217.9" stroke="#1c1c1c" stroke-width="0.8"/>
<text x="215.5" y="354.48" font-size="7.2" text-anchor="end" font-weight="normal" fill="#222" stroke="#222" stroke-width="0.22">5</text>
<path d="M216.1 327.97H217.9" stroke="#1c1c1c" stroke-width="0.8"/>
<text x="215.5" y="330.12" font-size="7.2" text-anchor="end" font-weight="normal" fill="#222" stroke="#222" stroke-width="0.22">10</text>
<path d="M216.1 303.6H217.9" stroke="#1c1c1c" stroke-width="0.8"/>
<text x="215.5" y="305.75" font-size="7.2" text-anchor="end" font-weight="normal" fill="#222" stroke="#222" stroke-width="0.22">15</text>
<rect x="345.2" y="375.05" width="2.6" height="1.75" fill="#2438ee" stroke="#1a2290" stroke-width="0.45"/>
<path d="M346.5 375.05V374.77M345.5 374.77H347.5" stroke="#111" stroke-width="0.75" fill="none"/>
<rect x="348.2" y="371.56" width="2.6" height="5.24" fill="#2438ee" stroke="#1a2290" stroke-width="0.45"/>
<path d="M349.5 371.56V371.07M348.5 371.07H350.5" stroke="#111" stroke-width="0.75" fill="none"/>
<rect x="351.2" y="364.04" width="2.6" height="12.76" fill="#2438ee" stroke="#1a2290" stroke-width="0.45"/>
<path d="M352.5 364.04V363.1M351.5 363.1H353.5" stroke="#111" stroke-width="0.75" fill="none"/>
<rect x="354.2" y="356.88" width="2.6" height="19.92" fill="#2438ee" stroke="#1a2290" stroke-width="0.45"/>
<path d="M355.5 356.88V355.51M354.5 355.51H356.5" stroke="#111" stroke-width="0.75" fill="none"/>
<rect x="357.2" y="343.95" width="2.6" height="32.85" fill="#2438ee" stroke="#1a2290" stroke-width="0.45"/>
<path d="M358.5 343.95V341.85M357.5 341.85H359.5" stroke="#111" stroke-width="0.75" fill="none"/>
<text x="345.1" y="385.1" font-size="6.3" text-anchor="start" font-weight="normal" fill="#222" stroke="#222" stroke-width="0.15" textLength="14.7" lengthAdjust="spacingAndGlyphs">01234</text>
<rect x="362.6" y="375.05" width="2.6" height="1.75" fill="#d8321f" stroke="#7a1a10" stroke-width="0.45"/>
<path d="M363.9 375.05V374.77M362.9 374.77H364.9" stroke="#111" stroke-width="0.75" fill="none"/>
<rect x="365.6" y="372.61" width="2.6" height="4.19" fill="#d8321f" stroke="#7a1a10" stroke-width="0.45"/>
<path d="M366.9 372.61V372.18M365.9 372.18H367.9" stroke="#111" stroke-width="0.75" fill="none"/>
<rect x="368.6" y="366.49" width="2.6" height="10.31" fill="#d8321f" stroke="#7a1a10" stroke-width="0.45"/>
<path d="M369.9 366.49V365.7M368.9 365.7H370.9" stroke="#111" stroke-width="0.75" fill="none"/>
<rect x="371.6" y="358.98" width="2.6" height="17.82" fill="#d8321f" stroke="#7a1a10" stroke-width="0.45"/>
<path d="M372.9 358.98V357.73M371.9 357.73H373.9" stroke="#111" stroke-width="0.75" fill="none"/>
<rect x="374.6" y="348.14" width="2.6" height="28.66" fill="#d8321f" stroke="#7a1a10" stroke-width="0.45"/>
<path d="M375.9 348.14V343.25M374.9 343.25H376.9" stroke="#111" stroke-width="0.75" fill="none"/>
<text x="362.5" y="385.1" font-size="6.3" text-anchor="start" font-weight="normal" fill="#222" stroke="#222" stroke-width="0.15" textLength="14.7" lengthAdjust="spacingAndGlyphs">01234</text>
<rect x="380" y="375.05" width="2.6" height="1.75" fill="#e98f8e" stroke="#9a5050" stroke-width="0.45"/>
<path d="M381.3 375.05V374.77M380.3 374.77H382.3" stroke="#111" stroke-width="0.75" fill="none"/>
<rect x="383" y="369.46" width="2.6" height="7.34" fill="#e98f8e" stroke="#9a5050" stroke-width="0.45"/>
<path d="M384.3 369.46V367.19M383.3 367.19H385.3" stroke="#111" stroke-width="0.75" fill="none"/>
<rect x="386" y="358.98" width="2.6" height="17.82" fill="#e98f8e" stroke="#9a5050" stroke-width="0.45"/>
<path d="M387.3 358.98V358.28M386.3 358.28H388.3" stroke="#111" stroke-width="0.75" fill="none"/>
<rect x="389" y="355.66" width="2.6" height="21.14" fill="#e98f8e" stroke="#9a5050" stroke-width="0.45"/>
<path d="M390.3 355.66V347.44M389.3 347.44H391.3" stroke="#111" stroke-width="0.75" fill="none"/>
<rect x="392" y="340.63" width="2.6" height="36.17" fill="#e98f8e" stroke="#9a5050" stroke-width="0.45"/>
<path d="M393.3 340.63V325.07M392.3 325.07H394.3" stroke="#111" stroke-width="0.75" fill="none"/>
<text x="379.9" y="385.1" font-size="6.3" text-anchor="start" font-weight="normal" fill="#222" stroke="#222" stroke-width="0.15" textLength="14.7" lengthAdjust="spacingAndGlyphs">01234</text>
<text x="369.9" y="309" font-size="7.9" text-anchor="middle" font-weight="normal" fill="#1a1a1a" stroke="#1a1a1a" stroke-width="0.22">OCI-AML3</text>
<path d="M347 312.8H391.8" stroke="#2c2c2c" stroke-width="1.2"/>
<rect x="397.4" y="375.05" width="2.6" height="1.75" fill="#2438ee" stroke="#1a2290" stroke-width="0.45"/>
<path d="M398.7 375.05V374.77M397.7 374.77H399.7" stroke="#111" stroke-width="0.75" fill="none"/>
<rect x="400.4" y="371.56" width="2.6" height="5.24" fill="#2438ee" stroke="#1a2290" stroke-width="0.45"/>
<path d="M401.7 371.56V371.07M400.7 371.07H402.7" stroke="#111" stroke-width="0.75" fill="none"/>
<rect x="403.4" y="364.92" width="2.6" height="11.88" fill="#2438ee" stroke="#1a2290" stroke-width="0.45"/>
<path d="M404.7 364.92V364.03M403.7 364.03H405.7" stroke="#111" stroke-width="0.75" fill="none"/>
<rect x="406.4" y="358.28" width="2.6" height="18.52" fill="#2438ee" stroke="#1a2290" stroke-width="0.45"/>
<path d="M407.7 358.28V356.99M406.7 356.99H408.7" stroke="#111" stroke-width="0.75" fill="none"/>
<rect x="409.4" y="336.96" width="2.6" height="39.84" fill="#2438ee" stroke="#1a2290" stroke-width="0.45"/>
<path d="M410.7 336.96V334.39M409.7 334.39H411.7" stroke="#111" stroke-width="0.75" fill="none"/>
<text x="397.3" y="385.1" font-size="6.3" text-anchor="start" font-weight="normal" fill="#222" stroke="#222" stroke-width="0.15" textLength="14.7" lengthAdjust="spacingAndGlyphs">01234</text>
<rect x="414.8" y="375.05" width="2.6" height="1.75" fill="#d8321f" stroke="#7a1a10" stroke-width="0.45"/>
<path d="M416.1 375.05V374.77M415.1 374.77H417.1" stroke="#111" stroke-width="0.75" fill="none"/>
<rect x="417.8" y="372.61" width="2.6" height="4.19" fill="#d8321f" stroke="#7a1a10" stroke-width="0.45"/>
<path d="M419.1 372.61V372.18M418.1 372.18H420.1" stroke="#111" stroke-width="0.75" fill="none"/>
<rect x="420.8" y="368.94" width="2.6" height="7.86" fill="#d8321f" stroke="#7a1a10" stroke-width="0.45"/>
<path d="M422.1 368.94V368.29M421.1 368.29H423.1" stroke="#111" stroke-width="0.75" fill="none"/>
<rect x="423.8" y="362.47" width="2.6" height="14.33" fill="#d8321f" stroke="#7a1a10" stroke-width="0.45"/>
<path d="M425.1 362.47V361.44M424.1 361.44H426.1" stroke="#111" stroke-width="0.75" fill="none"/>
<rect x="426.8" y="356.53" width="2.6" height="20.27" fill="#d8321f" stroke="#7a1a10" stroke-width="0.45"/>
<path d="M428.1 356.53V355.14M427.1 355.14H429.1" stroke="#111" stroke-width="0.75" fill="none"/>
<text x="414.7" y="385.1" font-size="6.3" text-anchor="start" font-weight="normal" fill="#222" stroke="#222" stroke-width="0.15" textLength="14.7" lengthAdjust="spacingAndGlyphs">01234</text>
<rect x="432.2" y="375.05" width="2.6" height="1.75" fill="#e98f8e" stroke="#9a5050" stroke-width="0.45"/>
<path d="M433.5 375.05V374.77M432.5 374.77H434.5" stroke="#111" stroke-width="0.75" fill="none"/>
<rect x="435.2" y="372.61" width="2.6" height="4.19" fill="#e98f8e" stroke="#9a5050" stroke-width="0.45"/>
<path d="M436.5 372.61V372.18M435.5 372.18H437.5" stroke="#111" stroke-width="0.75" fill="none"/>
<rect x="438.2" y="367.01" width="2.6" height="9.79" fill="#e98f8e" stroke="#9a5050" stroke-width="0.45"/>
<path d="M439.5 367.01V366.25M438.5 366.25H440.5" stroke="#111" stroke-width="0.75" fill="none"/>
<rect x="441.2" y="359.5" width="2.6" height="17.3" fill="#e98f8e" stroke="#9a5050" stroke-width="0.45"/>
<path d="M442.5 359.5V358.29M441.5 358.29H443.5" stroke="#111" stroke-width="0.75" fill="none"/>
<rect x="444.2" y="357.4" width="2.6" height="19.4" fill="#e98f8e" stroke="#9a5050" stroke-width="0.45"/>
<path d="M445.5 357.4V356.06M444.5 356.06H446.5" stroke="#111" stroke-width="0.75" fill="none"/>
<text x="432.1" y="385.1" font-size="6.3" text-anchor="start" font-weight="normal" fill="#222" stroke="#222" stroke-width="0.15" textLength="14.7" lengthAdjust="spacingAndGlyphs">01234</text>
<text x="422.1" y="309" font-size="7.9" text-anchor="middle" font-weight="normal" fill="#1a1a1a" stroke="#1a1a1a" stroke-width="0.22">U937</text>
<path d="M399.2 312.8H444" stroke="#2c2c2c" stroke-width="1.2"/>
<path d="M344.1 306.9V376.8" stroke="#3a3a3a" stroke-width="1.15" fill="none"/>
<path d="M343.55 376.8H447.8" stroke="#1a1a1a" stroke-width="1.2" fill="none"/>
<path d="M346.5 376.8v2.0M349.5 376.8v2.0M352.5 376.8v2.0M355.5 376.8v2.0M358.5 376.8v2.0M363.9 376.8v2.0M366.9 376.8v2.0M369.9 376.8v2.0M372.9 376.8v2.0M375.9 376.8v2.0M381.3 376.8v2.0M384.3 376.8v2.0M387.3 376.8v2.0M390.3 376.8v2.0M393.3 376.8v2.0M398.7 376.8v2.0M401.7 376.8v2.0M404.7 376.8v2.0M407.7 376.8v2.0M410.7 376.8v2.0M416.1 376.8v2.0M419.1 376.8v2.0M422.1 376.8v2.0M425.1 376.8v2.0M428.1 376.8v2.0M433.5 376.8v2.0M436.5 376.8v2.0M439.5 376.8v2.0M442.5 376.8v2.0M445.5 376.8v2.0" stroke="#1c1c1c" stroke-width="0.75"/>
<path d="M342.3 376.8H344.1" stroke="#1c1c1c" stroke-width="0.8"/>
<text x="341.7" y="378.95" font-size="7.2" text-anchor="end" font-weight="normal" fill="#222" stroke="#222" stroke-width="0.22">0</text>
<path d="M342.3 359.32H344.1" stroke="#1c1c1c" stroke-width="0.8"/>
<text x="341.7" y="361.47" font-size="7.2" text-anchor="end" font-weight="normal" fill="#222" stroke="#222" stroke-width="0.22">10</text>
<path d="M342.3 341.85H344.1" stroke="#1c1c1c" stroke-width="0.8"/>
<text x="341.7" y="344" font-size="7.2" text-anchor="end" font-weight="normal" fill="#222" stroke="#222" stroke-width="0.22">20</text>
<path d="M342.3 324.38H344.1" stroke="#1c1c1c" stroke-width="0.8"/>
<text x="341.7" y="326.52" font-size="7.2" text-anchor="end" font-weight="normal" fill="#222" stroke="#222" stroke-width="0.22">30</text>
<path d="M342.3 306.9H344.1" stroke="#1c1c1c" stroke-width="0.8"/>
<text x="341.7" y="309.05" font-size="7.2" text-anchor="end" font-weight="normal" fill="#222" stroke="#222" stroke-width="0.22">40</text>
<text x="0" y="0" font-size="8.3" text-anchor="middle" font-weight="normal" fill="#1a1a1a" stroke="#1a1a1a" stroke-width="0.22" transform="translate(204.4,339.15) rotate(-90)" textLength="71.8" lengthAdjust="spacingAndGlyphs">Relative proliferation</text>
<text x="0" y="0" font-size="9.2" text-anchor="middle" font-weight="bold" fill="#111" stroke="#111" stroke-width="0.22" transform="translate(190.2,336) rotate(-90)">MAP3K12</text>
<rect x="453.1" y="303.6" width="8.8" height="4.4" fill="#2438ee" stroke="#1a2290" stroke-width="0.35"/>
<text x="464.7" y="308.4" font-size="7.13" text-anchor="start" font-weight="normal" fill="#1a1a1a" stroke="#1a1a1a" stroke-width="0.22" textLength="28.24" lengthAdjust="spacingAndGlyphs">shControl</text>
<rect x="453.1" y="311.9" width="8.8" height="4.4" fill="#d8321f" stroke="#7a1a10" stroke-width="0.35"/>
<text x="464.7" y="316.7" font-size="7.13" text-anchor="start" font-weight="normal" fill="#1a1a1a" stroke="#1a1a1a" stroke-width="0.22" textLength="49.89" lengthAdjust="spacingAndGlyphs">shMAP3K12-999</text>
<rect x="453.1" y="320.1" width="8.8" height="4.4" fill="#e98f8e" stroke="#9a5050" stroke-width="0.35"/>
<text x="464.7" y="324.9" font-size="7.13" text-anchor="start" font-weight="normal" fill="#1a1a1a" stroke="#1a1a1a" stroke-width="0.22" textLength="53.56" lengthAdjust="spacingAndGlyphs">shMAP3K12-1003</text>
<rect x="460.6" y="329.2" width="56.5" height="58" fill="none" stroke="#555" stroke-width="0.9" stroke-dasharray="1.6,1.6"/>
<rect x="483.8" y="343.03" width="8.4" height="37.67" fill="#2438ee" stroke="#1a2290" stroke-width="0.35"/>
<path d="M488 343.03V341.15M486.6 341.15H489.4" stroke="#222" stroke-width="0.6" fill="none"/>
<rect x="494.1" y="348.31" width="8.4" height="32.39" fill="#d8321f" stroke="#7a1a10" stroke-width="0.35"/>
<path d="M498.3 348.31V346.63M496.9 346.63H499.7" stroke="#222" stroke-width="0.6" fill="none"/>
<rect x="504.4" y="356.59" width="8.4" height="24.11" fill="#e98f8e" stroke="#9a5050" stroke-width="0.35"/>
<path d="M508.6 356.59V355.25M507.2 355.25H510" stroke="#222" stroke-width="0.6" fill="none"/>
<path d="M482.3 335.5V380.7H514" stroke="#1c1c1c" stroke-width="0.7" fill="none"/>
<path d="M481.1 380.7H482.3" stroke="#1c1c1c" stroke-width="0.6"/>
<text x="480.7" y="382.4" font-size="4.9" text-anchor="end" font-weight="normal" fill="#333" stroke="#333" stroke-width="0.08">0.0</text>
<path d="M481.1 373.17H482.3" stroke="#1c1c1c" stroke-width="0.6"/>
<text x="480.7" y="374.87" font-size="4.9" text-anchor="end" font-weight="normal" fill="#333" stroke="#333" stroke-width="0.08">0.2</text>
<path d="M481.1 365.63H482.3" stroke="#1c1c1c" stroke-width="0.6"/>
<text x="480.7" y="367.33" font-size="4.9" text-anchor="end" font-weight="normal" fill="#333" stroke="#333" stroke-width="0.08">0.4</text>
<path d="M481.1 358.1H482.3" stroke="#1c1c1c" stroke-width="0.6"/>
<text x="480.7" y="359.8" font-size="4.9" text-anchor="end" font-weight="normal" fill="#333" stroke="#333" stroke-width="0.08">0.6</text>
<path d="M481.1 350.57H482.3" stroke="#1c1c1c" stroke-width="0.6"/>
<text x="480.7" y="352.27" font-size="4.9" text-anchor="end" font-weight="normal" fill="#333" stroke="#333" stroke-width="0.08">0.8</text>
<path d="M481.1 343.03H482.3" stroke="#1c1c1c" stroke-width="0.6"/>
<text x="480.7" y="344.73" font-size="4.9" text-anchor="end" font-weight="normal" fill="#333" stroke="#333" stroke-width="0.08">1.0</text>
<path d="M481.1 335.5H482.3" stroke="#1c1c1c" stroke-width="0.6"/>
<text x="480.7" y="337.2" font-size="4.9" text-anchor="end" font-weight="normal" fill="#333" stroke="#333" stroke-width="0.08">1.2</text>
<text x="0" y="0" font-size="5" text-anchor="middle" font-weight="normal" fill="#222" stroke="#222" stroke-width="0.1" transform="translate(470,357.1) rotate(-90)">MAP3K12 expression</text>
<rect x="218.85" y="468.95" width="2.76" height="3.66" fill="#2438ee" stroke="#1a2290" stroke-width="0.45"/>
<path d="M220.23 468.95V468.54M219.23 468.54H221.23" stroke="#111" stroke-width="0.75" fill="none"/>
<rect x="222.01" y="464.56" width="2.76" height="8.04" fill="#2438ee" stroke="#1a2290" stroke-width="0.45"/>
<path d="M223.39 464.56V463.89M222.39 463.89H224.39" stroke="#111" stroke-width="0.75" fill="none"/>
<rect x="225.17" y="462" width="2.76" height="10.6" fill="#2438ee" stroke="#1a2290" stroke-width="0.45"/>
<path d="M226.55 462V461.18M225.55 461.18H227.55" stroke="#111" stroke-width="0.75" fill="none"/>
<rect x="228.33" y="456.15" width="2.76" height="16.45" fill="#2438ee" stroke="#1a2290" stroke-width="0.45"/>
<path d="M229.71 456.15V454.98M228.71 454.98H230.71" stroke="#111" stroke-width="0.75" fill="none"/>
<rect x="231.49" y="451.04" width="2.76" height="21.56" fill="#2438ee" stroke="#1a2290" stroke-width="0.45"/>
<path d="M232.87 451.04V449.56M231.87 449.56H233.87" stroke="#111" stroke-width="0.75" fill="none"/>
<text x="218.75" y="480.9" font-size="6.3" text-anchor="start" font-weight="normal" fill="#222" stroke="#222" stroke-width="0.15" textLength="15.5" lengthAdjust="spacingAndGlyphs">01234</text>
<rect x="237.1" y="468.95" width="2.76" height="3.66" fill="#d8321f" stroke="#7a1a10" stroke-width="0.45"/>
<path d="M238.48 468.95V468.54M237.48 468.54H239.48" stroke="#111" stroke-width="0.75" fill="none"/>
<rect x="240.26" y="465.29" width="2.76" height="7.31" fill="#d8321f" stroke="#7a1a10" stroke-width="0.45"/>
<path d="M241.64 465.29V464.67M240.64 464.67H242.64" stroke="#111" stroke-width="0.75" fill="none"/>
<rect x="243.42" y="462.37" width="2.76" height="10.23" fill="#d8321f" stroke="#7a1a10" stroke-width="0.45"/>
<path d="M244.8 462.37V461.57M243.8 461.57H245.8" stroke="#111" stroke-width="0.75" fill="none"/>
<rect x="246.58" y="459.44" width="2.76" height="13.16" fill="#d8321f" stroke="#7a1a10" stroke-width="0.45"/>
<path d="M247.96 459.44V458.47M246.96 458.47H248.96" stroke="#111" stroke-width="0.75" fill="none"/>
<rect x="249.74" y="455.79" width="2.76" height="16.81" fill="#d8321f" stroke="#7a1a10" stroke-width="0.45"/>
<path d="M251.12 455.79V454.6M250.12 454.6H252.12" stroke="#111" stroke-width="0.75" fill="none"/>
<text x="237" y="480.9" font-size="6.3" text-anchor="start" font-weight="normal" fill="#222" stroke="#222" stroke-width="0.15" textLength="15.5" lengthAdjust="spacingAndGlyphs">01234</text>
<rect x="255.35" y="468.95" width="2.76" height="3.66" fill="#e98f8e" stroke="#9a5050" stroke-width="0.45"/>
<path d="M256.73 468.95V468.54M255.73 468.54H257.73" stroke="#111" stroke-width="0.75" fill="none"/>
<rect x="258.51" y="465.66" width="2.76" height="6.94" fill="#e98f8e" stroke="#9a5050" stroke-width="0.45"/>
<path d="M259.89 465.66V465.06M258.89 465.06H260.89" stroke="#111" stroke-width="0.75" fill="none"/>
<rect x="261.67" y="463.1" width="2.76" height="9.5" fill="#e98f8e" stroke="#9a5050" stroke-width="0.45"/>
<path d="M263.05 463.1V462.34M262.05 462.34H264.05" stroke="#111" stroke-width="0.75" fill="none"/>
<rect x="264.83" y="461.27" width="2.76" height="11.33" fill="#e98f8e" stroke="#9a5050" stroke-width="0.45"/>
<path d="M266.21 461.27V460.41M265.21 460.41H267.21" stroke="#111" stroke-width="0.75" fill="none"/>
<rect x="267.99" y="459.44" width="2.76" height="13.16" fill="#e98f8e" stroke="#9a5050" stroke-width="0.45"/>
<path d="M269.37 459.44V458.47M268.37 458.47H270.37" stroke="#111" stroke-width="0.75" fill="none"/>
<text x="255.25" y="480.9" font-size="6.3" text-anchor="start" font-weight="normal" fill="#222" stroke="#222" stroke-width="0.15" textLength="15.5" lengthAdjust="spacingAndGlyphs">01234</text>
<text x="246.6" y="401.3" font-size="7.9" text-anchor="middle" font-weight="normal" fill="#1a1a1a" stroke="#1a1a1a" stroke-width="0.22">NOMO-1</text>
<path d="M220.65 405.4H267.95" stroke="#2c2c2c" stroke-width="1.2"/>
<rect x="273.6" y="468.95" width="2.76" height="3.66" fill="#2438ee" stroke="#1a2290" stroke-width="0.45"/>
<path d="M274.98 468.95V468.54M273.98 468.54H275.98" stroke="#111" stroke-width="0.75" fill="none"/>
<rect x="276.76" y="463.46" width="2.76" height="9.14" fill="#2438ee" stroke="#1a2290" stroke-width="0.45"/>
<path d="M278.14 463.46V462.73M277.14 462.73H279.14" stroke="#111" stroke-width="0.75" fill="none"/>
<rect x="279.92" y="456.15" width="2.76" height="16.45" fill="#2438ee" stroke="#1a2290" stroke-width="0.45"/>
<path d="M281.3 456.15V454.98M280.3 454.98H282.3" stroke="#111" stroke-width="0.75" fill="none"/>
<rect x="283.08" y="446.28" width="2.76" height="26.32" fill="#2438ee" stroke="#1a2290" stroke-width="0.45"/>
<path d="M284.46 446.28V444.52M283.46 444.52H285.46" stroke="#111" stroke-width="0.75" fill="none"/>
<rect x="286.24" y="417.04" width="2.76" height="55.56" fill="#2438ee" stroke="#1a2290" stroke-width="0.45"/>
<path d="M287.62 417.04V413.53M286.62 413.53H288.62" stroke="#111" stroke-width="0.75" fill="none"/>
<text x="273.5" y="480.9" font-size="6.3" text-anchor="start" font-weight="normal" fill="#222" stroke="#222" stroke-width="0.15" textLength="15.5" lengthAdjust="spacingAndGlyphs">01234</text>
<rect x="291.85" y="468.95" width="2.76" height="3.66" fill="#d8321f" stroke="#7a1a10" stroke-width="0.45"/>
<path d="M293.23 468.95V468.54M292.23 468.54H294.23" stroke="#111" stroke-width="0.75" fill="none"/>
<rect x="295.01" y="465.66" width="2.76" height="6.94" fill="#d8321f" stroke="#7a1a10" stroke-width="0.45"/>
<path d="M296.39 465.66V465.06M295.39 465.06H297.39" stroke="#111" stroke-width="0.75" fill="none"/>
<rect x="298.17" y="460.54" width="2.76" height="12.06" fill="#d8321f" stroke="#7a1a10" stroke-width="0.45"/>
<path d="M299.55 460.54V459.63M298.55 459.63H300.55" stroke="#111" stroke-width="0.75" fill="none"/>
<rect x="301.33" y="453.96" width="2.76" height="18.64" fill="#d8321f" stroke="#7a1a10" stroke-width="0.45"/>
<path d="M302.71 453.96V452.66M301.71 452.66H303.71" stroke="#111" stroke-width="0.75" fill="none"/>
<rect x="304.49" y="447.38" width="2.76" height="25.22" fill="#d8321f" stroke="#7a1a10" stroke-width="0.45"/>
<path d="M305.87 447.38V445.68M304.87 445.68H306.87" stroke="#111" stroke-width="0.75" fill="none"/>
<text x="291.75" y="480.9" font-size="6.3" text-anchor="start" font-weight="normal" fill="#222" stroke="#222" stroke-width="0.15" textLength="15.5" lengthAdjust="spacingAndGlyphs">01234</text>
<rect x="310.1" y="468.95" width="2.76" height="3.66" fill="#e98f8e" stroke="#9a5050" stroke-width="0.45"/>
<path d="M311.48 468.95V468.54M310.48 468.54H312.48" stroke="#111" stroke-width="0.75" fill="none"/>
<rect x="313.26" y="466.75" width="2.76" height="5.85" fill="#e98f8e" stroke="#9a5050" stroke-width="0.45"/>
<path d="M314.64 466.75V466.22M313.64 466.22H315.64" stroke="#111" stroke-width="0.75" fill="none"/>
<rect x="316.42" y="463.46" width="2.76" height="9.14" fill="#e98f8e" stroke="#9a5050" stroke-width="0.45"/>
<path d="M317.8 463.46V462.73M316.8 462.73H318.8" stroke="#111" stroke-width="0.75" fill="none"/>
<rect x="319.58" y="459.44" width="2.76" height="13.16" fill="#e98f8e" stroke="#9a5050" stroke-width="0.45"/>
<path d="M320.96 459.44V458.47M319.96 458.47H321.96" stroke="#111" stroke-width="0.75" fill="none"/>
<rect x="322.74" y="456.88" width="2.76" height="15.72" fill="#e98f8e" stroke="#9a5050" stroke-width="0.45"/>
<path d="M324.12 456.88V455.76M323.12 455.76H325.12" stroke="#111" stroke-width="0.75" fill="none"/>
<text x="310" y="480.9" font-size="6.3" text-anchor="start" font-weight="normal" fill="#222" stroke="#222" stroke-width="0.15" textLength="15.5" lengthAdjust="spacingAndGlyphs">01234</text>
<text x="299.55" y="401.3" font-size="7.9" text-anchor="middle" font-weight="normal" fill="#1a1a1a" stroke="#1a1a1a" stroke-width="0.22">THP-1</text>
<path d="M275.4 405.4H322.7" stroke="#2c2c2c" stroke-width="1.2"/>
<path d="M217.9 399.5V472.6" stroke="#3a3a3a" stroke-width="1.15" fill="none"/>
<path d="M217.35 472.6H326.5" stroke="#1a1a1a" stroke-width="1.2" fill="none"/>
<path d="M220.23 472.6v2.0M223.39 472.6v2.0M226.55 472.6v2.0M229.71 472.6v2.0M232.87 472.6v2.0M238.48 472.6v2.0M241.64 472.6v2.0M244.8 472.6v2.0M247.96 472.6v2.0M251.12 472.6v2.0M256.73 472.6v2.0M259.89 472.6v2.0M263.05 472.6v2.0M266.21 472.6v2.0M269.37 472.6v2.0M274.98 472.6v2.0M278.14 472.6v2.0M281.3 472.6v2.0M284.46 472.6v2.0M287.62 472.6v2.0M293.23 472.6v2.0M296.39 472.6v2.0M299.55 472.6v2.0M302.71 472.6v2.0M305.87 472.6v2.0M311.48 472.6v2.0M314.64 472.6v2.0M317.8 472.6v2.0M320.96 472.6v2.0M324.12 472.6v2.0" stroke="#1c1c1c" stroke-width="0.75"/>
<path d="M216.1 472.6H217.9" stroke="#1c1c1c" stroke-width="0.8"/>
<text x="215.5" y="474.75" font-size="7.2" text-anchor="end" font-weight="normal" fill="#222" stroke="#222" stroke-width="0.22">0</text>
<path d="M216.1 454.33H217.9" stroke="#1c1c1c" stroke-width="0.8"/>
<text x="215.5" y="456.48" font-size="7.2" text-anchor="end" font-weight="normal" fill="#222" stroke="#222" stroke-width="0.22">5</text>
<path d="M216.1 436.05H217.9" stroke="#1c1c1c" stroke-width="0.8"/>
<text x="215.5" y="438.2" font-size="7.2" text-anchor="end" font-weight="normal" fill="#222" stroke="#222" stroke-width="0.22">10</text>
<path d="M216.1 417.77H217.9" stroke="#1c1c1c" stroke-width="0.8"/>
<text x="215.5" y="419.92" font-size="7.2" text-anchor="end" font-weight="normal" fill="#222" stroke="#222" stroke-width="0.22">15</text>
<path d="M216.1 399.5H217.9" stroke="#1c1c1c" stroke-width="0.8"/>
<text x="215.5" y="401.65" font-size="7.2" text-anchor="end" font-weight="normal" fill="#222" stroke="#222" stroke-width="0.22">20</text>
<rect x="345.2" y="467.19" width="2.7" height="3.61" fill="#2438ee" stroke="#1a2290" stroke-width="0.45"/>
<path d="M346.55 467.19V466.79M345.55 466.79H347.55" stroke="#111" stroke-width="0.75" fill="none"/>
<rect x="348.3" y="460.69" width="2.7" height="10.11" fill="#2438ee" stroke="#1a2290" stroke-width="0.45"/>
<path d="M349.65 460.69V459.91M348.65 459.91H350.65" stroke="#111" stroke-width="0.75" fill="none"/>
<rect x="351.4" y="452.03" width="2.7" height="18.77" fill="#2438ee" stroke="#1a2290" stroke-width="0.45"/>
<path d="M352.75 452.03V450.72M351.75 450.72H353.75" stroke="#111" stroke-width="0.75" fill="none"/>
<rect x="354.5" y="439.03" width="2.7" height="31.77" fill="#2438ee" stroke="#1a2290" stroke-width="0.45"/>
<path d="M355.85 439.03V436.95M354.85 436.95H356.85" stroke="#111" stroke-width="0.75" fill="none"/>
<rect x="357.6" y="412.68" width="2.7" height="58.12" fill="#2438ee" stroke="#1a2290" stroke-width="0.45"/>
<path d="M358.95 412.68V409.01M357.95 409.01H359.95" stroke="#111" stroke-width="0.75" fill="none"/>
<text x="345.1" y="479.1" font-size="6.3" text-anchor="start" font-weight="normal" fill="#222" stroke="#222" stroke-width="0.15" textLength="15.2" lengthAdjust="spacingAndGlyphs">01234</text>
<rect x="363.3" y="467.19" width="2.7" height="3.61" fill="#d8321f" stroke="#7a1a10" stroke-width="0.45"/>
<path d="M364.65 467.19V466.79M363.65 466.79H365.65" stroke="#111" stroke-width="0.75" fill="none"/>
<rect x="366.4" y="462.86" width="2.7" height="7.94" fill="#d8321f" stroke="#7a1a10" stroke-width="0.45"/>
<path d="M367.75 462.86V462.2M366.75 462.2H368.75" stroke="#111" stroke-width="0.75" fill="none"/>
<rect x="369.5" y="460.33" width="2.7" height="10.47" fill="#d8321f" stroke="#7a1a10" stroke-width="0.45"/>
<path d="M370.85 460.33V459.52M369.85 459.52H371.85" stroke="#111" stroke-width="0.75" fill="none"/>
<rect x="372.6" y="459.97" width="2.7" height="10.83" fill="#d8321f" stroke="#7a1a10" stroke-width="0.45"/>
<path d="M373.95 459.97V459.14M372.95 459.14H374.95" stroke="#111" stroke-width="0.75" fill="none"/>
<rect x="375.7" y="449.14" width="2.7" height="21.66" fill="#d8321f" stroke="#7a1a10" stroke-width="0.45"/>
<path d="M377.05 449.14V447.66M376.05 447.66H378.05" stroke="#111" stroke-width="0.75" fill="none"/>
<text x="363.2" y="479.1" font-size="6.3" text-anchor="start" font-weight="normal" fill="#222" stroke="#222" stroke-width="0.15" textLength="15.2" lengthAdjust="spacingAndGlyphs">01234</text>
<rect x="381.4" y="467.19" width="2.7" height="3.61" fill="#e98f8e" stroke="#9a5050" stroke-width="0.45"/>
<path d="M382.75 467.19V466.79M381.75 466.79H383.75" stroke="#111" stroke-width="0.75" fill="none"/>
<rect x="384.5" y="463.58" width="2.7" height="7.22" fill="#e98f8e" stroke="#9a5050" stroke-width="0.45"/>
<path d="M385.85 463.58V462.97M384.85 462.97H386.85" stroke="#111" stroke-width="0.75" fill="none"/>
<rect x="387.6" y="462.14" width="2.7" height="8.66" fill="#e98f8e" stroke="#9a5050" stroke-width="0.45"/>
<path d="M388.95 462.14V461.44M387.95 461.44H389.95" stroke="#111" stroke-width="0.75" fill="none"/>
<rect x="390.7" y="448.06" width="2.7" height="22.74" fill="#e98f8e" stroke="#9a5050" stroke-width="0.45"/>
<path d="M392.05 448.06V443.73M391.05 443.73H393.05" stroke="#111" stroke-width="0.75" fill="none"/>
<rect x="393.8" y="447.34" width="2.7" height="23.46" fill="#e98f8e" stroke="#9a5050" stroke-width="0.45"/>
<path d="M395.15 447.34V445.75M394.15 445.75H396.15" stroke="#111" stroke-width="0.75" fill="none"/>
<text x="381.3" y="479.1" font-size="6.3" text-anchor="start" font-weight="normal" fill="#222" stroke="#222" stroke-width="0.15" textLength="15.2" lengthAdjust="spacingAndGlyphs">01234</text>
<text x="370.85" y="400.4" font-size="7.9" text-anchor="middle" font-weight="normal" fill="#1a1a1a" stroke="#1a1a1a" stroke-width="0.22">OCI-AML3</text>
<path d="M347 404.5H393.7" stroke="#2c2c2c" stroke-width="1.2"/>
<rect x="399.5" y="467.19" width="2.7" height="3.61" fill="#2438ee" stroke="#1a2290" stroke-width="0.45"/>
<path d="M400.85 467.19V466.79M399.85 466.79H401.85" stroke="#111" stroke-width="0.75" fill="none"/>
<rect x="402.6" y="462.5" width="2.7" height="8.3" fill="#2438ee" stroke="#1a2290" stroke-width="0.45"/>
<path d="M403.95 462.5V461.82M402.95 461.82H404.95" stroke="#111" stroke-width="0.75" fill="none"/>
<rect x="405.7" y="457.08" width="2.7" height="13.72" fill="#2438ee" stroke="#1a2290" stroke-width="0.45"/>
<path d="M407.05 457.08V456.08M406.05 456.08H408.05" stroke="#111" stroke-width="0.75" fill="none"/>
<rect x="408.8" y="444.81" width="2.7" height="25.99" fill="#2438ee" stroke="#1a2290" stroke-width="0.45"/>
<path d="M410.15 444.81V443.07M409.15 443.07H411.15" stroke="#111" stroke-width="0.75" fill="none"/>
<rect x="411.9" y="409.43" width="2.7" height="61.37" fill="#2438ee" stroke="#1a2290" stroke-width="0.45"/>
<path d="M413.25 409.43V405.57M412.25 405.57H414.25" stroke="#111" stroke-width="0.75" fill="none"/>
<text x="399.4" y="479.1" font-size="6.3" text-anchor="start" font-weight="normal" fill="#222" stroke="#222" stroke-width="0.15" textLength="15.2" lengthAdjust="spacingAndGlyphs">01234</text>
<rect x="417.6" y="467.19" width="2.7" height="3.61" fill="#d8321f" stroke="#7a1a10" stroke-width="0.45"/>
<path d="M418.95 467.19V466.79M417.95 466.79H419.95" stroke="#111" stroke-width="0.75" fill="none"/>
<rect x="420.7" y="464.3" width="2.7" height="6.5" fill="#d8321f" stroke="#7a1a10" stroke-width="0.45"/>
<path d="M422.05 464.3V463.73M421.05 463.73H423.05" stroke="#111" stroke-width="0.75" fill="none"/>
<rect x="423.8" y="462.14" width="2.7" height="8.66" fill="#d8321f" stroke="#7a1a10" stroke-width="0.45"/>
<path d="M425.15 462.14V461.44M424.15 461.44H426.15" stroke="#111" stroke-width="0.75" fill="none"/>
<rect x="426.9" y="459.97" width="2.7" height="10.83" fill="#d8321f" stroke="#7a1a10" stroke-width="0.45"/>
<path d="M428.25 459.97V459.14M427.25 459.14H429.25" stroke="#111" stroke-width="0.75" fill="none"/>
<rect x="430" y="447.34" width="2.7" height="23.46" fill="#d8321f" stroke="#7a1a10" stroke-width="0.45"/>
<path d="M431.35 447.34V445.75M430.35 445.75H432.35" stroke="#111" stroke-width="0.75" fill="none"/>
<text x="417.5" y="479.1" font-size="6.3" text-anchor="start" font-weight="normal" fill="#222" stroke="#222" stroke-width="0.15" textLength="15.2" lengthAdjust="spacingAndGlyphs">01234</text>
<rect x="435.7" y="467.19" width="2.7" height="3.61" fill="#e98f8e" stroke="#9a5050" stroke-width="0.45"/>
<path d="M437.05 467.19V466.79M436.05 466.79H438.05" stroke="#111" stroke-width="0.75" fill="none"/>
<rect x="438.8" y="466.11" width="2.7" height="4.69" fill="#e98f8e" stroke="#9a5050" stroke-width="0.45"/>
<path d="M440.15 466.11V465.64M439.15 465.64H441.15" stroke="#111" stroke-width="0.75" fill="none"/>
<rect x="441.9" y="464.66" width="2.7" height="6.14" fill="#e98f8e" stroke="#9a5050" stroke-width="0.45"/>
<path d="M443.25 464.66V464.11M442.25 464.11H444.25" stroke="#111" stroke-width="0.75" fill="none"/>
<rect x="445" y="461.05" width="2.7" height="9.75" fill="#e98f8e" stroke="#9a5050" stroke-width="0.45"/>
<path d="M446.35 461.05V460.29M445.35 460.29H447.35" stroke="#111" stroke-width="0.75" fill="none"/>
<rect x="448.1" y="457.8" width="2.7" height="13" fill="#e98f8e" stroke="#9a5050" stroke-width="0.45"/>
<path d="M449.45 457.8V456.84M448.45 456.84H450.45" stroke="#111" stroke-width="0.75" fill="none"/>
<text x="435.6" y="479.1" font-size="6.3" text-anchor="start" font-weight="normal" fill="#222" stroke="#222" stroke-width="0.15" textLength="15.2" lengthAdjust="spacingAndGlyphs">01234</text>
<text x="425.15" y="400.4" font-size="7.9" text-anchor="middle" font-weight="normal" fill="#1a1a1a" stroke="#1a1a1a" stroke-width="0.22">HL-60</text>
<path d="M401.3 404.5H448" stroke="#2c2c2c" stroke-width="1.2"/>
<path d="M344.1 398.6V470.8" stroke="#3a3a3a" stroke-width="1.15" fill="none"/>
<path d="M343.55 470.8H451.8" stroke="#1a1a1a" stroke-width="1.2" fill="none"/>
<path d="M346.55 470.8v2.0M349.65 470.8v2.0M352.75 470.8v2.0M355.85 470.8v2.0M358.95 470.8v2.0M364.65 470.8v2.0M367.75 470.8v2.0M370.85 470.8v2.0M373.95 470.8v2.0M377.05 470.8v2.0M382.75 470.8v2.0M385.85 470.8v2.0M388.95 470.8v2.0M392.05 470.8v2.0M395.15 470.8v2.0M400.85 470.8v2.0M403.95 470.8v2.0M407.05 470.8v2.0M410.15 470.8v2.0M413.25 470.8v2.0M418.95 470.8v2.0M422.05 470.8v2.0M425.15 470.8v2.0M428.25 470.8v2.0M431.35 470.8v2.0M437.05 470.8v2.0M440.15 470.8v2.0M443.25 470.8v2.0M446.35 470.8v2.0M449.45 470.8v2.0" stroke="#1c1c1c" stroke-width="0.75"/>
<path d="M342.3 470.8H344.1" stroke="#1c1c1c" stroke-width="0.8"/>
<text x="341.7" y="472.95" font-size="7.2" text-anchor="end" font-weight="normal" fill="#222" stroke="#222" stroke-width="0.22">0</text>
<path d="M342.3 452.75H344.1" stroke="#1c1c1c" stroke-width="0.8"/>
<text x="341.7" y="454.9" font-size="7.2" text-anchor="end" font-weight="normal" fill="#222" stroke="#222" stroke-width="0.22">5</text>
<path d="M342.3 434.7H344.1" stroke="#1c1c1c" stroke-width="0.8"/>
<text x="341.7" y="436.85" font-size="7.2" text-anchor="end" font-weight="normal" fill="#222" stroke="#222" stroke-width="0.22">10</text>
<path d="M342.3 416.65H344.1" stroke="#1c1c1c" stroke-width="0.8"/>
<text x="341.7" y="418.8" font-size="7.2" text-anchor="end" font-weight="normal" fill="#222" stroke="#222" stroke-width="0.22">15</text>
<path d="M342.3 398.6H344.1" stroke="#1c1c1c" stroke-width="0.8"/>
<text x="341.7" y="400.75" font-size="7.2" text-anchor="end" font-weight="normal" fill="#222" stroke="#222" stroke-width="0.22">20</text>
<text x="0" y="0" font-size="8.3" text-anchor="middle" font-weight="normal" fill="#1a1a1a" stroke="#1a1a1a" stroke-width="0.22" transform="translate(204.4,434.5) rotate(-90)" textLength="71.8" lengthAdjust="spacingAndGlyphs">Relative proliferation</text>
<text x="0" y="0" font-size="9.2" text-anchor="middle" font-weight="bold" fill="#111" stroke="#111" stroke-width="0.22" transform="translate(190.2,433) rotate(-90)">SRPK2</text>
<rect x="458.2" y="394.1" width="8.8" height="4.4" fill="#2438ee" stroke="#1a2290" stroke-width="0.35"/>
<text x="470.3" y="398.9" font-size="7.4" text-anchor="start" font-weight="normal" fill="#1a1a1a" stroke="#1a1a1a" stroke-width="0.22" textLength="29.31" lengthAdjust="spacingAndGlyphs">shControl</text>
<rect x="458.2" y="402.7" width="8.8" height="4.4" fill="#d8321f" stroke="#7a1a10" stroke-width="0.35"/>
<text x="470.3" y="407.5" font-size="7.4" text-anchor="start" font-weight="normal" fill="#1a1a1a" stroke="#1a1a1a" stroke-width="0.22" textLength="47.22" lengthAdjust="spacingAndGlyphs">shSRPK2-6274</text>
<rect x="458.2" y="410.9" width="8.8" height="4.4" fill="#e98f8e" stroke="#9a5050" stroke-width="0.35"/>
<text x="470.3" y="415.7" font-size="7.4" text-anchor="start" font-weight="normal" fill="#1a1a1a" stroke="#1a1a1a" stroke-width="0.22" textLength="47.22" lengthAdjust="spacingAndGlyphs">shSRPK2-6275</text>
<rect x="460.6" y="421.9" width="56.5" height="58.1" fill="none" stroke="#555" stroke-width="0.9" stroke-dasharray="1.6,1.6"/>
<rect x="483.8" y="435.75" width="8.4" height="37.75" fill="#2438ee" stroke="#1a2290" stroke-width="0.35"/>
<path d="M488 435.75V433.11M486.6 433.11H489.4" stroke="#222" stroke-width="0.6" fill="none"/>
<rect x="494.1" y="445.56" width="8.4" height="27.94" fill="#d8321f" stroke="#7a1a10" stroke-width="0.35"/>
<path d="M498.3 445.56V444.07M496.9 444.07H499.7" stroke="#222" stroke-width="0.6" fill="none"/>
<rect x="504.4" y="456.13" width="8.4" height="17.37" fill="#e98f8e" stroke="#9a5050" stroke-width="0.35"/>
<path d="M508.6 456.13V455.06M507.2 455.06H510" stroke="#222" stroke-width="0.6" fill="none"/>
<path d="M482.3 428.2V473.5H514" stroke="#1c1c1c" stroke-width="0.7" fill="none"/>
<path d="M481.1 473.5H482.3" stroke="#1c1c1c" stroke-width="0.6"/>
<text x="480.7" y="475.2" font-size="4.9" text-anchor="end" font-weight="normal" fill="#333" stroke="#333" stroke-width="0.08">0.0</text>
<path d="M481.1 465.95H482.3" stroke="#1c1c1c" stroke-width="0.6"/>
<text x="480.7" y="467.65" font-size="4.9" text-anchor="end" font-weight="normal" fill="#333" stroke="#333" stroke-width="0.08">0.2</text>
<path d="M481.1 458.4H482.3" stroke="#1c1c1c" stroke-width="0.6"/>
<text x="480.7" y="460.1" font-size="4.9" text-anchor="end" font-weight="normal" fill="#333" stroke="#333" stroke-width="0.08">0.4</text>
<path d="M481.1 450.85H482.3" stroke="#1c1c1c" stroke-width="0.6"/>
<text x="480.7" y="452.55" font-size="4.9" text-anchor="end" font-weight="normal" fill="#333" stroke="#333" stroke-width="0.08">0.6</text>
<path d="M481.1 443.3H482.3" stroke="#1c1c1c" stroke-width="0.6"/>
<text x="480.7" y="445" font-size="4.9" text-anchor="end" font-weight="normal" fill="#333" stroke="#333" stroke-width="0.08">0.8</text>
<path d="M481.1 435.75H482.3" stroke="#1c1c1c" stroke-width="0.6"/>
<text x="480.7" y="437.45" font-size="4.9" text-anchor="end" font-weight="normal" fill="#333" stroke="#333" stroke-width="0.08">1.0</text>
<path d="M481.1 428.2H482.3" stroke="#1c1c1c" stroke-width="0.6"/>
<text x="480.7" y="429.9" font-size="4.9" text-anchor="end" font-weight="normal" fill="#333" stroke="#333" stroke-width="0.08">1.2</text>
<text x="0" y="0" font-size="5" text-anchor="middle" font-weight="normal" fill="#222" stroke="#222" stroke-width="0.1" transform="translate(470,449.85) rotate(-90)">SRPK2 expression</text>
<rect x="218.85" y="563.03" width="2.76" height="4.37" fill="#2438ee" stroke="#1a2290" stroke-width="0.45"/>
<path d="M220.23 563.03V562.59M219.23 562.59H221.23" stroke="#111" stroke-width="0.75" fill="none"/>
<rect x="222.01" y="556.24" width="2.76" height="11.16" fill="#2438ee" stroke="#1a2290" stroke-width="0.45"/>
<path d="M223.39 556.24V555.39M222.39 555.39H224.39" stroke="#111" stroke-width="0.75" fill="none"/>
<rect x="225.17" y="547.5" width="2.76" height="19.9" fill="#2438ee" stroke="#1a2290" stroke-width="0.45"/>
<path d="M226.55 547.5V546.13M225.55 546.13H227.55" stroke="#111" stroke-width="0.75" fill="none"/>
<rect x="228.33" y="538.77" width="2.76" height="28.63" fill="#2438ee" stroke="#1a2290" stroke-width="0.45"/>
<path d="M229.71 538.77V536.87M228.71 536.87H230.71" stroke="#111" stroke-width="0.75" fill="none"/>
<rect x="231.49" y="515.47" width="2.76" height="51.93" fill="#2438ee" stroke="#1a2290" stroke-width="0.45"/>
<path d="M232.87 515.47V510.13M231.87 510.13H233.87" stroke="#111" stroke-width="0.75" fill="none"/>
<text x="218.75" y="575.7" font-size="6.3" text-anchor="start" font-weight="normal" fill="#222" stroke="#222" stroke-width="0.15" textLength="15.5" lengthAdjust="spacingAndGlyphs">01234</text>
<rect x="237.1" y="563.03" width="2.76" height="4.37" fill="#d8321f" stroke="#7a1a10" stroke-width="0.45"/>
<path d="M238.48 563.03V562.59M237.48 562.59H239.48" stroke="#111" stroke-width="0.75" fill="none"/>
<rect x="240.26" y="559.63" width="2.76" height="7.77" fill="#d8321f" stroke="#7a1a10" stroke-width="0.45"/>
<path d="M241.64 559.63V558.99M240.64 558.99H242.64" stroke="#111" stroke-width="0.75" fill="none"/>
<rect x="243.42" y="557.21" width="2.76" height="10.19" fill="#d8321f" stroke="#7a1a10" stroke-width="0.45"/>
<path d="M244.8 557.21V556.41M243.8 556.41H245.8" stroke="#111" stroke-width="0.75" fill="none"/>
<rect x="246.58" y="557.21" width="2.76" height="10.19" fill="#d8321f" stroke="#7a1a10" stroke-width="0.45"/>
<path d="M247.96 557.21V556.41M246.96 556.41H248.96" stroke="#111" stroke-width="0.75" fill="none"/>
<rect x="249.74" y="556.24" width="2.76" height="11.16" fill="#d8321f" stroke="#7a1a10" stroke-width="0.45"/>
<path d="M251.12 556.24V555.39M250.12 555.39H252.12" stroke="#111" stroke-width="0.75" fill="none"/>
<text x="237" y="575.7" font-size="6.3" text-anchor="start" font-weight="normal" fill="#222" stroke="#222" stroke-width="0.15" textLength="15.5" lengthAdjust="spacingAndGlyphs">01234</text>
<rect x="255.35" y="563.03" width="2.76" height="4.37" fill="#e98f8e" stroke="#9a5050" stroke-width="0.45"/>
<path d="M256.73 563.03V562.59M255.73 562.59H257.73" stroke="#111" stroke-width="0.75" fill="none"/>
<rect x="258.51" y="564.73" width="2.76" height="2.67" fill="#e98f8e" stroke="#9a5050" stroke-width="0.45"/>
<path d="M259.89 564.73V564.39M258.89 564.39H260.89" stroke="#111" stroke-width="0.75" fill="none"/>
<rect x="261.67" y="565.94" width="2.76" height="1.46" fill="#e98f8e" stroke="#9a5050" stroke-width="0.45"/>
<path d="M263.05 565.94V565.67M262.05 565.67H264.05" stroke="#111" stroke-width="0.75" fill="none"/>
<rect x="264.83" y="565.94" width="2.76" height="1.46" fill="#e98f8e" stroke="#9a5050" stroke-width="0.45"/>
<path d="M266.21 565.94V565.67M265.21 565.67H267.21" stroke="#111" stroke-width="0.75" fill="none"/>
<rect x="267.99" y="565.94" width="2.76" height="1.46" fill="#e98f8e" stroke="#9a5050" stroke-width="0.45"/>
<path d="M269.37 565.94V565.67M268.37 565.67H270.37" stroke="#111" stroke-width="0.75" fill="none"/>
<text x="255.25" y="575.7" font-size="6.3" text-anchor="start" font-weight="normal" fill="#222" stroke="#222" stroke-width="0.15" textLength="15.5" lengthAdjust="spacingAndGlyphs">01234</text>
<text x="246.6" y="496.2" font-size="7.9" text-anchor="middle" font-weight="normal" fill="#1a1a1a" stroke="#1a1a1a" stroke-width="0.22">NOMO-1</text>
<path d="M220.65 500.3H267.95" stroke="#2c2c2c" stroke-width="1.2"/>
<rect x="273.6" y="563.03" width="2.76" height="4.37" fill="#2438ee" stroke="#1a2290" stroke-width="0.45"/>
<path d="M274.98 563.03V562.59M273.98 562.59H275.98" stroke="#111" stroke-width="0.75" fill="none"/>
<rect x="276.76" y="556.24" width="2.76" height="11.16" fill="#2438ee" stroke="#1a2290" stroke-width="0.45"/>
<path d="M278.14 556.24V555.39M277.14 555.39H279.14" stroke="#111" stroke-width="0.75" fill="none"/>
<rect x="279.92" y="549.44" width="2.76" height="17.96" fill="#2438ee" stroke="#1a2290" stroke-width="0.45"/>
<path d="M281.3 549.44V548.18M280.3 548.18H282.3" stroke="#111" stroke-width="0.75" fill="none"/>
<rect x="283.08" y="538.28" width="2.76" height="29.12" fill="#2438ee" stroke="#1a2290" stroke-width="0.45"/>
<path d="M284.46 538.28V536.35M283.46 536.35H285.46" stroke="#111" stroke-width="0.75" fill="none"/>
<rect x="286.24" y="520.32" width="2.76" height="47.08" fill="#2438ee" stroke="#1a2290" stroke-width="0.45"/>
<path d="M287.62 520.32V515.47M286.62 515.47H288.62" stroke="#111" stroke-width="0.75" fill="none"/>
<text x="273.5" y="575.7" font-size="6.3" text-anchor="start" font-weight="normal" fill="#222" stroke="#222" stroke-width="0.15" textLength="15.5" lengthAdjust="spacingAndGlyphs">01234</text>
<rect x="291.85" y="563.03" width="2.76" height="4.37" fill="#d8321f" stroke="#7a1a10" stroke-width="0.45"/>
<path d="M293.23 563.03V562.59M292.23 562.59H294.23" stroke="#111" stroke-width="0.75" fill="none"/>
<rect x="295.01" y="558.42" width="2.76" height="8.98" fill="#d8321f" stroke="#7a1a10" stroke-width="0.45"/>
<path d="M296.39 558.42V557.7M295.39 557.7H297.39" stroke="#111" stroke-width="0.75" fill="none"/>
<rect x="298.17" y="556.24" width="2.76" height="11.16" fill="#d8321f" stroke="#7a1a10" stroke-width="0.45"/>
<path d="M299.55 556.24V555.39M298.55 555.39H300.55" stroke="#111" stroke-width="0.75" fill="none"/>
<rect x="301.33" y="565.22" width="2.76" height="2.18" fill="#d8321f" stroke="#7a1a10" stroke-width="0.45"/>
<path d="M302.71 565.22V564.9M301.71 564.9H303.71" stroke="#111" stroke-width="0.75" fill="none"/>
<rect x="304.49" y="563.52" width="2.76" height="3.88" fill="#d8321f" stroke="#7a1a10" stroke-width="0.45"/>
<path d="M305.87 563.52V563.1M304.87 563.1H306.87" stroke="#111" stroke-width="0.75" fill="none"/>
<text x="291.75" y="575.7" font-size="6.3" text-anchor="start" font-weight="normal" fill="#222" stroke="#222" stroke-width="0.15" textLength="15.5" lengthAdjust="spacingAndGlyphs">01234</text>
<rect x="310.1" y="563.03" width="2.76" height="4.37" fill="#e98f8e" stroke="#9a5050" stroke-width="0.45"/>
<path d="M311.48 563.03V562.59M310.48 562.59H312.48" stroke="#111" stroke-width="0.75" fill="none"/>
<rect x="313.26" y="561.58" width="2.76" height="5.82" fill="#e98f8e" stroke="#9a5050" stroke-width="0.45"/>
<path d="M314.64 561.58V561.04M313.64 561.04H315.64" stroke="#111" stroke-width="0.75" fill="none"/>
<rect x="316.42" y="562.79" width="2.76" height="4.61" fill="#e98f8e" stroke="#9a5050" stroke-width="0.45"/>
<path d="M317.8 562.79V562.33M316.8 562.33H318.8" stroke="#111" stroke-width="0.75" fill="none"/>
<rect x="319.58" y="546.53" width="2.76" height="20.87" fill="#e98f8e" stroke="#9a5050" stroke-width="0.45"/>
<path d="M320.96 546.53V545.1M319.96 545.1H321.96" stroke="#111" stroke-width="0.75" fill="none"/>
<rect x="322.74" y="550.9" width="2.76" height="16.5" fill="#e98f8e" stroke="#9a5050" stroke-width="0.45"/>
<path d="M324.12 550.9V549.73M323.12 549.73H325.12" stroke="#111" stroke-width="0.75" fill="none"/>
<text x="310" y="575.7" font-size="6.3" text-anchor="start" font-weight="normal" fill="#222" stroke="#222" stroke-width="0.15" textLength="15.5" lengthAdjust="spacingAndGlyphs">01234</text>
<text x="299.55" y="496.2" font-size="7.9" text-anchor="middle" font-weight="normal" fill="#1a1a1a" stroke="#1a1a1a" stroke-width="0.22">THP-1</text>
<path d="M275.4 500.3H322.7" stroke="#2c2c2c" stroke-width="1.2"/>
<path d="M217.9 494.6V567.4" stroke="#3a3a3a" stroke-width="1.15" fill="none"/>
<path d="M217.35 567.4H326.5" stroke="#1a1a1a" stroke-width="1.2" fill="none"/>
<path d="M220.23 567.4v2.0M223.39 567.4v2.0M226.55 567.4v2.0M229.71 567.4v2.0M232.87 567.4v2.0M238.48 567.4v2.0M241.64 567.4v2.0M244.8 567.4v2.0M247.96 567.4v2.0M251.12 567.4v2.0M256.73 567.4v2.0M259.89 567.4v2.0M263.05 567.4v2.0M266.21 567.4v2.0M269.37 567.4v2.0M274.98 567.4v2.0M278.14 567.4v2.0M281.3 567.4v2.0M284.46 567.4v2.0M287.62 567.4v2.0M293.23 567.4v2.0M296.39 567.4v2.0M299.55 567.4v2.0M302.71 567.4v2.0M305.87 567.4v2.0M311.48 567.4v2.0M314.64 567.4v2.0M317.8 567.4v2.0M320.96 567.4v2.0M324.12 567.4v2.0" stroke="#1c1c1c" stroke-width="0.75"/>
<path d="M216.1 567.4H217.9" stroke="#1c1c1c" stroke-width="0.8"/>
<text x="215.5" y="569.55" font-size="7.2" text-anchor="end" font-weight="normal" fill="#222" stroke="#222" stroke-width="0.22">0</text>
<path d="M216.1 543.13H217.9" stroke="#1c1c1c" stroke-width="0.8"/>
<text x="215.5" y="545.28" font-size="7.2" text-anchor="end" font-weight="normal" fill="#222" stroke="#222" stroke-width="0.22">5</text>
<path d="M216.1 518.87H217.9" stroke="#1c1c1c" stroke-width="0.8"/>
<text x="215.5" y="521.02" font-size="7.2" text-anchor="end" font-weight="normal" fill="#222" stroke="#222" stroke-width="0.22">10</text>
<path d="M216.1 494.6H217.9" stroke="#1c1c1c" stroke-width="0.8"/>
<text x="215.5" y="496.75" font-size="7.2" text-anchor="end" font-weight="normal" fill="#222" stroke="#222" stroke-width="0.22">15</text>
<rect x="345.2" y="564.46" width="2.75" height="2.44" fill="#2438ee" stroke="#1a2290" stroke-width="0.45"/>
<path d="M346.57 564.46V564.13M345.57 564.13H347.57" stroke="#111" stroke-width="0.75" fill="none"/>
<rect x="348.35" y="561.28" width="2.75" height="5.62" fill="#2438ee" stroke="#1a2290" stroke-width="0.45"/>
<path d="M349.72 561.28V560.76M348.72 560.76H350.72" stroke="#111" stroke-width="0.75" fill="none"/>
<rect x="351.5" y="553.95" width="2.75" height="12.95" fill="#2438ee" stroke="#1a2290" stroke-width="0.45"/>
<path d="M352.88 553.95V552.99M351.88 552.99H353.88" stroke="#111" stroke-width="0.75" fill="none"/>
<rect x="354.65" y="533.91" width="2.75" height="32.98" fill="#2438ee" stroke="#1a2290" stroke-width="0.45"/>
<path d="M356.02 533.91V531.75M355.02 531.75H357.02" stroke="#111" stroke-width="0.75" fill="none"/>
<rect x="357.8" y="503.62" width="2.75" height="63.28" fill="#2438ee" stroke="#1a2290" stroke-width="0.45"/>
<path d="M359.18 503.62V499.71M358.18 499.71H360.18" stroke="#111" stroke-width="0.75" fill="none"/>
<text x="345.1" y="575.2" font-size="6.3" text-anchor="start" font-weight="normal" fill="#222" stroke="#222" stroke-width="0.15" textLength="15.45" lengthAdjust="spacingAndGlyphs">01234</text>
<rect x="363.35" y="564.46" width="2.75" height="2.44" fill="#d8321f" stroke="#7a1a10" stroke-width="0.45"/>
<path d="M364.72 564.46V564.13M363.72 564.13H365.72" stroke="#111" stroke-width="0.75" fill="none"/>
<rect x="366.5" y="562.01" width="2.75" height="4.89" fill="#d8321f" stroke="#7a1a10" stroke-width="0.45"/>
<path d="M367.87 562.01V561.54M366.87 561.54H368.87" stroke="#111" stroke-width="0.75" fill="none"/>
<rect x="369.65" y="555.9" width="2.75" height="10.99" fill="#d8321f" stroke="#7a1a10" stroke-width="0.45"/>
<path d="M371.02 555.9V555.06M370.02 555.06H372.02" stroke="#111" stroke-width="0.75" fill="none"/>
<rect x="372.8" y="542.71" width="2.75" height="24.19" fill="#d8321f" stroke="#7a1a10" stroke-width="0.45"/>
<path d="M374.17 542.71V541.08M373.17 541.08H375.17" stroke="#111" stroke-width="0.75" fill="none"/>
<rect x="375.95" y="521.45" width="2.75" height="45.45" fill="#d8321f" stroke="#7a1a10" stroke-width="0.45"/>
<path d="M377.32 521.45V519.01M376.32 519.01H378.32" stroke="#111" stroke-width="0.75" fill="none"/>
<text x="363.25" y="575.2" font-size="6.3" text-anchor="start" font-weight="normal" fill="#222" stroke="#222" stroke-width="0.15" textLength="15.45" lengthAdjust="spacingAndGlyphs">01234</text>
<rect x="381.5" y="564.46" width="2.75" height="2.44" fill="#e98f8e" stroke="#9a5050" stroke-width="0.45"/>
<path d="M382.88 564.46V564.13M381.88 564.13H383.88" stroke="#111" stroke-width="0.75" fill="none"/>
<rect x="384.65" y="563.48" width="2.75" height="3.42" fill="#e98f8e" stroke="#9a5050" stroke-width="0.45"/>
<path d="M386.02 563.48V563.09M385.02 563.09H387.02" stroke="#111" stroke-width="0.75" fill="none"/>
<rect x="387.8" y="562.75" width="2.75" height="4.15" fill="#e98f8e" stroke="#9a5050" stroke-width="0.45"/>
<path d="M389.18 562.75V562.31M388.18 562.31H390.18" stroke="#111" stroke-width="0.75" fill="none"/>
<rect x="390.95" y="561.04" width="2.75" height="5.86" fill="#e98f8e" stroke="#9a5050" stroke-width="0.45"/>
<path d="M392.32 561.04V560.5M391.32 560.5H393.32" stroke="#111" stroke-width="0.75" fill="none"/>
<rect x="394.1" y="557.13" width="2.75" height="9.77" fill="#e98f8e" stroke="#9a5050" stroke-width="0.45"/>
<path d="M395.48 557.13V556.36M394.48 556.36H396.48" stroke="#111" stroke-width="0.75" fill="none"/>
<text x="381.4" y="575.2" font-size="6.3" text-anchor="start" font-weight="normal" fill="#222" stroke="#222" stroke-width="0.15" textLength="15.45" lengthAdjust="spacingAndGlyphs">01234</text>
<text x="371.02" y="495.2" font-size="7.9" text-anchor="middle" font-weight="normal" fill="#1a1a1a" stroke="#1a1a1a" stroke-width="0.22">U937</text>
<path d="M347 499.3H394.05" stroke="#2c2c2c" stroke-width="1.2"/>
<rect x="399.65" y="564.46" width="2.75" height="2.44" fill="#2438ee" stroke="#1a2290" stroke-width="0.45"/>
<path d="M401.02 564.46V564.13M400.02 564.13H402.02" stroke="#111" stroke-width="0.75" fill="none"/>
<rect x="402.8" y="563.48" width="2.75" height="3.42" fill="#2438ee" stroke="#1a2290" stroke-width="0.45"/>
<path d="M404.17 563.48V563.09M403.17 563.09H405.17" stroke="#111" stroke-width="0.75" fill="none"/>
<rect x="405.95" y="558.84" width="2.75" height="8.06" fill="#2438ee" stroke="#1a2290" stroke-width="0.45"/>
<path d="M407.32 558.84V558.17M406.32 558.17H408.32" stroke="#111" stroke-width="0.75" fill="none"/>
<rect x="409.1" y="551.51" width="2.75" height="15.39" fill="#2438ee" stroke="#1a2290" stroke-width="0.45"/>
<path d="M410.47 551.51V550.4M409.47 550.4H411.47" stroke="#111" stroke-width="0.75" fill="none"/>
<rect x="412.25" y="543.44" width="2.75" height="23.46" fill="#2438ee" stroke="#1a2290" stroke-width="0.45"/>
<path d="M413.62 543.44V541.85M412.62 541.85H414.62" stroke="#111" stroke-width="0.75" fill="none"/>
<text x="399.55" y="575.2" font-size="6.3" text-anchor="start" font-weight="normal" fill="#222" stroke="#222" stroke-width="0.15" textLength="15.45" lengthAdjust="spacingAndGlyphs">01234</text>
<rect x="417.8" y="564.46" width="2.75" height="2.44" fill="#d8321f" stroke="#7a1a10" stroke-width="0.45"/>
<path d="M419.18 564.46V564.13M418.18 564.13H420.18" stroke="#111" stroke-width="0.75" fill="none"/>
<rect x="420.95" y="563.48" width="2.75" height="3.42" fill="#d8321f" stroke="#7a1a10" stroke-width="0.45"/>
<path d="M422.32 563.48V563.09M421.32 563.09H423.32" stroke="#111" stroke-width="0.75" fill="none"/>
<rect x="424.1" y="560.06" width="2.75" height="6.84" fill="#d8321f" stroke="#7a1a10" stroke-width="0.45"/>
<path d="M425.48 560.06V559.46M424.48 559.46H426.48" stroke="#111" stroke-width="0.75" fill="none"/>
<rect x="427.25" y="555.9" width="2.75" height="10.99" fill="#d8321f" stroke="#7a1a10" stroke-width="0.45"/>
<path d="M428.62 555.9V555.06M427.62 555.06H429.62" stroke="#111" stroke-width="0.75" fill="none"/>
<rect x="430.4" y="551.02" width="2.75" height="15.88" fill="#d8321f" stroke="#7a1a10" stroke-width="0.45"/>
<path d="M431.78 551.02V549.88M430.78 549.88H432.78" stroke="#111" stroke-width="0.75" fill="none"/>
<text x="417.7" y="575.2" font-size="6.3" text-anchor="start" font-weight="normal" fill="#222" stroke="#222" stroke-width="0.15" textLength="15.45" lengthAdjust="spacingAndGlyphs">01234</text>
<rect x="435.95" y="565.19" width="2.75" height="1.71" fill="#e98f8e" stroke="#9a5050" stroke-width="0.45"/>
<path d="M437.32 565.19V564.9M436.32 564.9H438.32" stroke="#111" stroke-width="0.75" fill="none"/>
<rect x="439.1" y="564.46" width="2.75" height="2.44" fill="#e98f8e" stroke="#9a5050" stroke-width="0.45"/>
<path d="M440.47 564.46V564.13M439.47 564.13H441.47" stroke="#111" stroke-width="0.75" fill="none"/>
<rect x="442.25" y="564.7" width="2.75" height="2.2" fill="#e98f8e" stroke="#9a5050" stroke-width="0.45"/>
<path d="M443.62 564.7V564.39M442.62 564.39H444.62" stroke="#111" stroke-width="0.75" fill="none"/>
<rect x="445.4" y="564.7" width="2.75" height="2.2" fill="#e98f8e" stroke="#9a5050" stroke-width="0.45"/>
<path d="M446.77 564.7V564.39M445.77 564.39H447.77" stroke="#111" stroke-width="0.75" fill="none"/>
<rect x="448.55" y="564.46" width="2.75" height="2.44" fill="#e98f8e" stroke="#9a5050" stroke-width="0.45"/>
<path d="M449.93 564.46V564.13M448.93 564.13H450.93" stroke="#111" stroke-width="0.75" fill="none"/>
<text x="435.85" y="575.2" font-size="6.3" text-anchor="start" font-weight="normal" fill="#222" stroke="#222" stroke-width="0.15" textLength="15.45" lengthAdjust="spacingAndGlyphs">01234</text>
<text x="425.48" y="495.2" font-size="7.9" text-anchor="middle" font-weight="normal" fill="#1a1a1a" stroke="#1a1a1a" stroke-width="0.22">K562</text>
<path d="M401.45 499.3H448.5" stroke="#2c2c2c" stroke-width="1.2"/>
<path d="M344.1 493.6V566.9" stroke="#3a3a3a" stroke-width="1.15" fill="none"/>
<path d="M343.55 566.9H452.3" stroke="#1a1a1a" stroke-width="1.2" fill="none"/>
<path d="M346.57 566.9v2.0M349.72 566.9v2.0M352.88 566.9v2.0M356.02 566.9v2.0M359.18 566.9v2.0M364.72 566.9v2.0M367.87 566.9v2.0M371.02 566.9v2.0M374.17 566.9v2.0M377.32 566.9v2.0M382.88 566.9v2.0M386.02 566.9v2.0M389.18 566.9v2.0M392.32 566.9v2.0M395.48 566.9v2.0M401.02 566.9v2.0M404.17 566.9v2.0M407.32 566.9v2.0M410.47 566.9v2.0M413.62 566.9v2.0M419.18 566.9v2.0M422.32 566.9v2.0M425.48 566.9v2.0M428.62 566.9v2.0M431.78 566.9v2.0M437.32 566.9v2.0M440.47 566.9v2.0M443.62 566.9v2.0M446.77 566.9v2.0M449.93 566.9v2.0" stroke="#1c1c1c" stroke-width="0.75"/>
<path d="M342.3 566.9H344.1" stroke="#1c1c1c" stroke-width="0.8"/>
<text x="341.7" y="569.05" font-size="7.2" text-anchor="end" font-weight="normal" fill="#222" stroke="#222" stroke-width="0.22">0</text>
<path d="M342.3 542.47H344.1" stroke="#1c1c1c" stroke-width="0.8"/>
<text x="341.7" y="544.62" font-size="7.2" text-anchor="end" font-weight="normal" fill="#222" stroke="#222" stroke-width="0.22">10</text>
<path d="M342.3 518.03H344.1" stroke="#1c1c1c" stroke-width="0.8"/>
<text x="341.7" y="520.18" font-size="7.2" text-anchor="end" font-weight="normal" fill="#222" stroke="#222" stroke-width="0.22">20</text>
<path d="M342.3 493.6H344.1" stroke="#1c1c1c" stroke-width="0.8"/>
<text x="341.7" y="495.75" font-size="7.2" text-anchor="end" font-weight="normal" fill="#222" stroke="#222" stroke-width="0.22">30</text>
<text x="0" y="0" font-size="8.3" text-anchor="middle" font-weight="normal" fill="#1a1a1a" stroke="#1a1a1a" stroke-width="0.22" transform="translate(204.4,529.5) rotate(-90)" textLength="71.8" lengthAdjust="spacingAndGlyphs">Relative proliferation</text>
<text x="0" y="0" font-size="9.2" text-anchor="middle" font-weight="bold" fill="#111" stroke="#111" stroke-width="0.22" transform="translate(190.2,530.5) rotate(-90)">THOC4</text>
<rect x="459.7" y="489.9" width="8.8" height="4.4" fill="#2438ee" stroke="#1a2290" stroke-width="0.35"/>
<text x="472.1" y="494.7" font-size="7.56" text-anchor="start" font-weight="normal" fill="#1a1a1a" stroke="#1a1a1a" stroke-width="0.22" textLength="29.96" lengthAdjust="spacingAndGlyphs">shControl</text>
<rect x="459.7" y="498.1" width="8.8" height="4.4" fill="#d8321f" stroke="#7a1a10" stroke-width="0.35"/>
<text x="472.1" y="502.9" font-size="7.56" text-anchor="start" font-weight="normal" fill="#1a1a1a" stroke="#1a1a1a" stroke-width="0.22" textLength="45.12" lengthAdjust="spacingAndGlyphs">shTHOC4-351</text>
<rect x="459.7" y="506.8" width="8.8" height="4.4" fill="#e98f8e" stroke="#9a5050" stroke-width="0.35"/>
<text x="472.1" y="511.6" font-size="7.56" text-anchor="start" font-weight="normal" fill="#1a1a1a" stroke="#1a1a1a" stroke-width="0.22" textLength="45.12" lengthAdjust="spacingAndGlyphs">shTHOC4-352</text>
<rect x="460.6" y="517.7" width="56.5" height="58.5" fill="none" stroke="#555" stroke-width="0.9" stroke-dasharray="1.6,1.6"/>
<rect x="483.8" y="531.62" width="8.4" height="38.08" fill="#2438ee" stroke="#1a2290" stroke-width="0.35"/>
<path d="M488 531.62V529.71M486.6 529.71H489.4" stroke="#222" stroke-width="0.6" fill="none"/>
<rect x="494.1" y="567.03" width="8.4" height="2.67" fill="#d8321f" stroke="#7a1a10" stroke-width="0.35"/>
<path d="M498.3 567.03V566.55M496.9 566.55H499.7" stroke="#222" stroke-width="0.6" fill="none"/>
<rect x="504.4" y="568.94" width="8.4" height="0.76" fill="#e98f8e" stroke="#9a5050" stroke-width="0.35"/>
<path d="M508.6 568.94V568.53M507.2 568.53H510" stroke="#222" stroke-width="0.6" fill="none"/>
<path d="M482.3 524V569.7H514" stroke="#1c1c1c" stroke-width="0.7" fill="none"/>
<path d="M481.1 569.7H482.3" stroke="#1c1c1c" stroke-width="0.6"/>
<text x="480.7" y="571.4" font-size="4.9" text-anchor="end" font-weight="normal" fill="#333" stroke="#333" stroke-width="0.08">0.0</text>
<path d="M481.1 562.08H482.3" stroke="#1c1c1c" stroke-width="0.6"/>
<text x="480.7" y="563.78" font-size="4.9" text-anchor="end" font-weight="normal" fill="#333" stroke="#333" stroke-width="0.08">0.2</text>
<path d="M481.1 554.47H482.3" stroke="#1c1c1c" stroke-width="0.6"/>
<text x="480.7" y="556.17" font-size="4.9" text-anchor="end" font-weight="normal" fill="#333" stroke="#333" stroke-width="0.08">0.4</text>
<path d="M481.1 546.85H482.3" stroke="#1c1c1c" stroke-width="0.6"/>
<text x="480.7" y="548.55" font-size="4.9" text-anchor="end" font-weight="normal" fill="#333" stroke="#333" stroke-width="0.08">0.6</text>
<path d="M481.1 539.23H482.3" stroke="#1c1c1c" stroke-width="0.6"/>
<text x="480.7" y="540.93" font-size="4.9" text-anchor="end" font-weight="normal" fill="#333" stroke="#333" stroke-width="0.08">0.8</text>
<path d="M481.1 531.62H482.3" stroke="#1c1c1c" stroke-width="0.6"/>
<text x="480.7" y="533.32" font-size="4.9" text-anchor="end" font-weight="normal" fill="#333" stroke="#333" stroke-width="0.08">1.0</text>
<path d="M481.1 524H482.3" stroke="#1c1c1c" stroke-width="0.6"/>
<text x="480.7" y="525.7" font-size="4.9" text-anchor="end" font-weight="normal" fill="#333" stroke="#333" stroke-width="0.08">1.2</text>
<text x="0" y="0" font-size="5" text-anchor="middle" font-weight="normal" fill="#222" stroke="#222" stroke-width="0.1" transform="translate(470,545.85) rotate(-90)">THOC4 expression</text>
<rect x="218.85" y="654.92" width="2.76" height="6.98" fill="#2438ee" stroke="#1a2290" stroke-width="0.45"/>
<path d="M220.23 654.92V654.32M219.23 654.32H221.23" stroke="#111" stroke-width="0.75" fill="none"/>
<rect x="222.01" y="651" width="2.76" height="10.9" fill="#2438ee" stroke="#1a2290" stroke-width="0.45"/>
<path d="M223.39 651V650.16M222.39 650.16H224.39" stroke="#111" stroke-width="0.75" fill="none"/>
<rect x="225.17" y="643" width="2.76" height="18.9" fill="#2438ee" stroke="#1a2290" stroke-width="0.45"/>
<path d="M226.55 643V641.68M225.55 641.68H227.55" stroke="#111" stroke-width="0.75" fill="none"/>
<rect x="228.33" y="643" width="2.76" height="18.9" fill="#2438ee" stroke="#1a2290" stroke-width="0.45"/>
<path d="M229.71 643V641.68M228.71 641.68H230.71" stroke="#111" stroke-width="0.75" fill="none"/>
<rect x="231.49" y="608.1" width="2.76" height="53.8" fill="#2438ee" stroke="#1a2290" stroke-width="0.45"/>
<path d="M232.87 608.1V604.69M231.87 604.69H233.87" stroke="#111" stroke-width="0.75" fill="none"/>
<text x="218.75" y="670.2" font-size="6.3" text-anchor="start" font-weight="normal" fill="#222" stroke="#222" stroke-width="0.15" textLength="15.5" lengthAdjust="spacingAndGlyphs">01234</text>
<rect x="237.1" y="654.92" width="2.76" height="6.98" fill="#d8321f" stroke="#7a1a10" stroke-width="0.45"/>
<path d="M238.48 654.92V654.32M237.48 654.32H239.48" stroke="#111" stroke-width="0.75" fill="none"/>
<rect x="240.26" y="654.12" width="2.76" height="7.78" fill="#d8321f" stroke="#7a1a10" stroke-width="0.45"/>
<path d="M241.64 654.12V653.47M240.64 653.47H242.64" stroke="#111" stroke-width="0.75" fill="none"/>
<rect x="243.42" y="653.68" width="2.76" height="8.22" fill="#d8321f" stroke="#7a1a10" stroke-width="0.45"/>
<path d="M244.8 653.68V653.01M243.8 653.01H245.8" stroke="#111" stroke-width="0.75" fill="none"/>
<rect x="246.58" y="654.12" width="2.76" height="7.78" fill="#d8321f" stroke="#7a1a10" stroke-width="0.45"/>
<path d="M247.96 654.12V653.47M246.96 653.47H248.96" stroke="#111" stroke-width="0.75" fill="none"/>
<rect x="249.74" y="653.68" width="2.76" height="8.22" fill="#d8321f" stroke="#7a1a10" stroke-width="0.45"/>
<path d="M251.12 653.68V653.01M250.12 653.01H252.12" stroke="#111" stroke-width="0.75" fill="none"/>
<text x="237" y="670.2" font-size="6.3" text-anchor="start" font-weight="normal" fill="#222" stroke="#222" stroke-width="0.15" textLength="15.5" lengthAdjust="spacingAndGlyphs">01234</text>
<rect x="255.35" y="654.92" width="2.76" height="6.98" fill="#e98f8e" stroke="#9a5050" stroke-width="0.45"/>
<path d="M256.73 654.92V654.32M255.73 654.32H257.73" stroke="#111" stroke-width="0.75" fill="none"/>
<rect x="258.51" y="657.39" width="2.76" height="4.51" fill="#e98f8e" stroke="#9a5050" stroke-width="0.45"/>
<path d="M259.89 657.39V656.94M258.89 656.94H260.89" stroke="#111" stroke-width="0.75" fill="none"/>
<rect x="261.67" y="658.63" width="2.76" height="3.27" fill="#e98f8e" stroke="#9a5050" stroke-width="0.45"/>
<path d="M263.05 658.63V658.25M262.05 658.25H264.05" stroke="#111" stroke-width="0.75" fill="none"/>
<rect x="264.83" y="658.26" width="2.76" height="3.63" fill="#e98f8e" stroke="#9a5050" stroke-width="0.45"/>
<path d="M266.21 658.26V657.87M265.21 657.87H267.21" stroke="#111" stroke-width="0.75" fill="none"/>
<rect x="267.99" y="656.81" width="2.76" height="5.09" fill="#e98f8e" stroke="#9a5050" stroke-width="0.45"/>
<path d="M269.37 656.81V656.32M268.37 656.32H270.37" stroke="#111" stroke-width="0.75" fill="none"/>
<text x="255.25" y="670.2" font-size="6.3" text-anchor="start" font-weight="normal" fill="#222" stroke="#222" stroke-width="0.15" textLength="15.5" lengthAdjust="spacingAndGlyphs">01234</text>
<text x="246.6" y="591.2" font-size="7.9" text-anchor="middle" font-weight="normal" fill="#1a1a1a" stroke="#1a1a1a" stroke-width="0.22">NOMO-1</text>
<path d="M220.65 594.8H267.95" stroke="#2c2c2c" stroke-width="1.2"/>
<rect x="273.6" y="654.92" width="2.76" height="6.98" fill="#2438ee" stroke="#1a2290" stroke-width="0.45"/>
<path d="M274.98 654.92V654.32M273.98 654.32H275.98" stroke="#111" stroke-width="0.75" fill="none"/>
<rect x="276.76" y="651" width="2.76" height="10.9" fill="#2438ee" stroke="#1a2290" stroke-width="0.45"/>
<path d="M278.14 651V650.16M277.14 650.16H279.14" stroke="#111" stroke-width="0.75" fill="none"/>
<rect x="279.92" y="645.18" width="2.76" height="16.72" fill="#2438ee" stroke="#1a2290" stroke-width="0.45"/>
<path d="M281.3 645.18V643.99M280.3 643.99H282.3" stroke="#111" stroke-width="0.75" fill="none"/>
<rect x="283.08" y="638.64" width="2.76" height="23.26" fill="#2438ee" stroke="#1a2290" stroke-width="0.45"/>
<path d="M284.46 638.64V637.06M283.46 637.06H285.46" stroke="#111" stroke-width="0.75" fill="none"/>
<rect x="286.24" y="616.1" width="2.76" height="45.8" fill="#2438ee" stroke="#1a2290" stroke-width="0.45"/>
<path d="M287.62 616.1V613.17M286.62 613.17H288.62" stroke="#111" stroke-width="0.75" fill="none"/>
<text x="273.5" y="670.2" font-size="6.3" text-anchor="start" font-weight="normal" fill="#222" stroke="#222" stroke-width="0.15" textLength="15.5" lengthAdjust="spacingAndGlyphs">01234</text>
<rect x="291.85" y="654.92" width="2.76" height="6.98" fill="#d8321f" stroke="#7a1a10" stroke-width="0.45"/>
<path d="M293.23 654.92V654.32M292.23 654.32H294.23" stroke="#111" stroke-width="0.75" fill="none"/>
<rect x="295.01" y="653.18" width="2.76" height="8.72" fill="#d8321f" stroke="#7a1a10" stroke-width="0.45"/>
<path d="M296.39 653.18V652.47M295.39 652.47H297.39" stroke="#111" stroke-width="0.75" fill="none"/>
<rect x="298.17" y="649.9" width="2.76" height="12" fill="#d8321f" stroke="#7a1a10" stroke-width="0.45"/>
<path d="M299.55 649.9V649M298.55 649H300.55" stroke="#111" stroke-width="0.75" fill="none"/>
<rect x="301.33" y="645.91" width="2.76" height="15.99" fill="#d8321f" stroke="#7a1a10" stroke-width="0.45"/>
<path d="M302.71 645.91V644.76M301.71 644.76H303.71" stroke="#111" stroke-width="0.75" fill="none"/>
<rect x="304.49" y="635" width="2.76" height="26.9" fill="#d8321f" stroke="#7a1a10" stroke-width="0.45"/>
<path d="M305.87 635V633.21M304.87 633.21H306.87" stroke="#111" stroke-width="0.75" fill="none"/>
<text x="291.75" y="670.2" font-size="6.3" text-anchor="start" font-weight="normal" fill="#222" stroke="#222" stroke-width="0.15" textLength="15.5" lengthAdjust="spacingAndGlyphs">01234</text>
<rect x="310.1" y="654.92" width="2.76" height="6.98" fill="#e98f8e" stroke="#9a5050" stroke-width="0.45"/>
<path d="M311.48 654.92V654.32M310.48 654.32H312.48" stroke="#111" stroke-width="0.75" fill="none"/>
<rect x="313.26" y="652.45" width="2.76" height="9.45" fill="#e98f8e" stroke="#9a5050" stroke-width="0.45"/>
<path d="M314.64 652.45V651.7M313.64 651.7H315.64" stroke="#111" stroke-width="0.75" fill="none"/>
<rect x="316.42" y="651" width="2.76" height="10.9" fill="#e98f8e" stroke="#9a5050" stroke-width="0.45"/>
<path d="M317.8 651V650.16M316.8 650.16H318.8" stroke="#111" stroke-width="0.75" fill="none"/>
<rect x="319.58" y="649.54" width="2.76" height="12.36" fill="#e98f8e" stroke="#9a5050" stroke-width="0.45"/>
<path d="M320.96 649.54V648.62M319.96 648.62H321.96" stroke="#111" stroke-width="0.75" fill="none"/>
<rect x="322.74" y="645.91" width="2.76" height="15.99" fill="#e98f8e" stroke="#9a5050" stroke-width="0.45"/>
<path d="M324.12 645.91V644.76M323.12 644.76H325.12" stroke="#111" stroke-width="0.75" fill="none"/>
<text x="310" y="670.2" font-size="6.3" text-anchor="start" font-weight="normal" fill="#222" stroke="#222" stroke-width="0.15" textLength="15.5" lengthAdjust="spacingAndGlyphs">01234</text>
<text x="299.55" y="591.2" font-size="7.9" text-anchor="middle" font-weight="normal" fill="#1a1a1a" stroke="#1a1a1a" stroke-width="0.22">THP-1</text>
<path d="M275.4 594.8H322.7" stroke="#2c2c2c" stroke-width="1.2"/>
<path d="M217.9 589.2V661.9" stroke="#3a3a3a" stroke-width="1.15" fill="none"/>
<path d="M217.35 661.9H326.5" stroke="#1a1a1a" stroke-width="1.2" fill="none"/>
<path d="M220.23 661.9v2.0M223.39 661.9v2.0M226.55 661.9v2.0M229.71 661.9v2.0M232.87 661.9v2.0M238.48 661.9v2.0M241.64 661.9v2.0M244.8 661.9v2.0M247.96 661.9v2.0M251.12 661.9v2.0M256.73 661.9v2.0M259.89 661.9v2.0M263.05 661.9v2.0M266.21 661.9v2.0M269.37 661.9v2.0M274.98 661.9v2.0M278.14 661.9v2.0M281.3 661.9v2.0M284.46 661.9v2.0M287.62 661.9v2.0M293.23 661.9v2.0M296.39 661.9v2.0M299.55 661.9v2.0M302.71 661.9v2.0M305.87 661.9v2.0M311.48 661.9v2.0M314.64 661.9v2.0M317.8 661.9v2.0M320.96 661.9v2.0M324.12 661.9v2.0" stroke="#1c1c1c" stroke-width="0.75"/>
<path d="M216.1 661.9H217.9" stroke="#1c1c1c" stroke-width="0.8"/>
<text x="215.5" y="664.05" font-size="7.2" text-anchor="end" font-weight="normal" fill="#222" stroke="#222" stroke-width="0.22">0</text>
<path d="M216.1 647.36H217.9" stroke="#1c1c1c" stroke-width="0.8"/>
<text x="215.5" y="649.51" font-size="7.2" text-anchor="end" font-weight="normal" fill="#222" stroke="#222" stroke-width="0.22">2</text>
<path d="M216.1 632.82H217.9" stroke="#1c1c1c" stroke-width="0.8"/>
<text x="215.5" y="634.97" font-size="7.2" text-anchor="end" font-weight="normal" fill="#222" stroke="#222" stroke-width="0.22">4</text>
<path d="M216.1 618.28H217.9" stroke="#1c1c1c" stroke-width="0.8"/>
<text x="215.5" y="620.43" font-size="7.2" text-anchor="end" font-weight="normal" fill="#222" stroke="#222" stroke-width="0.22">6</text>
<path d="M216.1 603.74H217.9" stroke="#1c1c1c" stroke-width="0.8"/>
<text x="215.5" y="605.89" font-size="7.2" text-anchor="end" font-weight="normal" fill="#222" stroke="#222" stroke-width="0.22">8</text>
<path d="M216.1 589.2H217.9" stroke="#1c1c1c" stroke-width="0.8"/>
<text x="215.5" y="591.35" font-size="7.2" text-anchor="end" font-weight="normal" fill="#222" stroke="#222" stroke-width="0.22">10</text>
<rect x="345.2" y="658.3" width="2.65" height="3" fill="#2438ee" stroke="#1a2290" stroke-width="0.45"/>
<path d="M346.52 658.3V657.95M345.52 657.95H347.52" stroke="#111" stroke-width="0.75" fill="none"/>
<rect x="348.25" y="656.21" width="2.65" height="5.09" fill="#2438ee" stroke="#1a2290" stroke-width="0.45"/>
<path d="M349.57 656.21V655.73M348.57 655.73H350.57" stroke="#111" stroke-width="0.75" fill="none"/>
<rect x="351.3" y="649.42" width="2.65" height="11.88" fill="#2438ee" stroke="#1a2290" stroke-width="0.45"/>
<path d="M352.62 649.42V648.53M351.62 648.53H353.62" stroke="#111" stroke-width="0.75" fill="none"/>
<rect x="354.35" y="643.77" width="2.65" height="17.53" fill="#2438ee" stroke="#1a2290" stroke-width="0.45"/>
<path d="M355.67 643.77V642.54M354.67 642.54H356.67" stroke="#111" stroke-width="0.75" fill="none"/>
<rect x="357.4" y="623.12" width="2.65" height="38.18" fill="#2438ee" stroke="#1a2290" stroke-width="0.45"/>
<path d="M358.72 623.12V620.65M357.72 620.65H359.72" stroke="#111" stroke-width="0.75" fill="none"/>
<text x="345.1" y="669.6" font-size="6.3" text-anchor="start" font-weight="normal" fill="#222" stroke="#222" stroke-width="0.15" textLength="14.95" lengthAdjust="spacingAndGlyphs">01234</text>
<rect x="362.8" y="658.3" width="2.65" height="3" fill="#d8321f" stroke="#7a1a10" stroke-width="0.45"/>
<path d="M364.12 658.3V657.95M363.12 657.95H365.12" stroke="#111" stroke-width="0.75" fill="none"/>
<rect x="365.85" y="658.75" width="2.65" height="2.55" fill="#d8321f" stroke="#7a1a10" stroke-width="0.45"/>
<path d="M367.18 658.75V658.43M366.18 658.43H368.18" stroke="#111" stroke-width="0.75" fill="none"/>
<rect x="368.9" y="658.75" width="2.65" height="2.55" fill="#d8321f" stroke="#7a1a10" stroke-width="0.45"/>
<path d="M370.23 658.75V658.43M369.23 658.43H371.23" stroke="#111" stroke-width="0.75" fill="none"/>
<rect x="371.95" y="658.75" width="2.65" height="2.55" fill="#d8321f" stroke="#7a1a10" stroke-width="0.45"/>
<path d="M373.27 658.75V658.43M372.27 658.43H374.27" stroke="#111" stroke-width="0.75" fill="none"/>
<rect x="375" y="657.62" width="2.65" height="3.68" fill="#d8321f" stroke="#7a1a10" stroke-width="0.45"/>
<path d="M376.32 657.62V657.23M375.32 657.23H377.32" stroke="#111" stroke-width="0.75" fill="none"/>
<text x="362.7" y="669.6" font-size="6.3" text-anchor="start" font-weight="normal" fill="#222" stroke="#222" stroke-width="0.15" textLength="14.95" lengthAdjust="spacingAndGlyphs">01234</text>
<rect x="380.4" y="658.75" width="2.65" height="2.55" fill="#e98f8e" stroke="#9a5050" stroke-width="0.45"/>
<path d="M381.72 658.75V658.43M380.72 658.43H382.72" stroke="#111" stroke-width="0.75" fill="none"/>
<rect x="383.45" y="659.6" width="2.65" height="1.7" fill="#e98f8e" stroke="#9a5050" stroke-width="0.45"/>
<path d="M384.77 659.6V659.32M383.77 659.32H385.77" stroke="#111" stroke-width="0.75" fill="none"/>
<rect x="386.5" y="659.6" width="2.65" height="1.7" fill="#e98f8e" stroke="#9a5050" stroke-width="0.45"/>
<path d="M387.82 659.6V659.32M386.82 659.32H388.82" stroke="#111" stroke-width="0.75" fill="none"/>
<rect x="389.55" y="658.05" width="2.65" height="3.25" fill="#e98f8e" stroke="#9a5050" stroke-width="0.45"/>
<path d="M390.87 658.05V657.68M389.87 657.68H391.87" stroke="#111" stroke-width="0.75" fill="none"/>
<rect x="392.6" y="655.08" width="2.65" height="6.22" fill="#e98f8e" stroke="#9a5050" stroke-width="0.45"/>
<path d="M393.92 655.08V654.53M392.92 654.53H394.92" stroke="#111" stroke-width="0.75" fill="none"/>
<text x="380.3" y="669.6" font-size="6.3" text-anchor="start" font-weight="normal" fill="#222" stroke="#222" stroke-width="0.15" textLength="14.95" lengthAdjust="spacingAndGlyphs">01234</text>
<text x="370.23" y="592.6" font-size="7.9" text-anchor="middle" font-weight="normal" fill="#1a1a1a" stroke="#1a1a1a" stroke-width="0.22">NB4</text>
<path d="M347 596.2H392.45" stroke="#2c2c2c" stroke-width="1.2"/>
<rect x="398" y="658.3" width="2.65" height="3" fill="#2438ee" stroke="#1a2290" stroke-width="0.45"/>
<path d="M399.32 658.3V657.95M398.32 657.95H400.32" stroke="#111" stroke-width="0.75" fill="none"/>
<rect x="401.05" y="657.06" width="2.65" height="4.24" fill="#2438ee" stroke="#1a2290" stroke-width="0.45"/>
<path d="M402.38 657.06V656.63M401.38 656.63H403.38" stroke="#111" stroke-width="0.75" fill="none"/>
<rect x="404.1" y="649.99" width="2.65" height="11.31" fill="#2438ee" stroke="#1a2290" stroke-width="0.45"/>
<path d="M405.43 649.99V649.13M404.43 649.13H406.43" stroke="#111" stroke-width="0.75" fill="none"/>
<rect x="407.15" y="646.31" width="2.65" height="14.99" fill="#2438ee" stroke="#1a2290" stroke-width="0.45"/>
<path d="M408.47 646.31V645.24M407.47 645.24H409.47" stroke="#111" stroke-width="0.75" fill="none"/>
<rect x="410.2" y="605.59" width="2.65" height="55.71" fill="#2438ee" stroke="#1a2290" stroke-width="0.45"/>
<path d="M411.52 605.59V602.07M410.52 602.07H412.52" stroke="#111" stroke-width="0.75" fill="none"/>
<text x="397.9" y="669.6" font-size="6.3" text-anchor="start" font-weight="normal" fill="#222" stroke="#222" stroke-width="0.15" textLength="14.95" lengthAdjust="spacingAndGlyphs">01234</text>
<rect x="415.6" y="658.3" width="2.65" height="3" fill="#d8321f" stroke="#7a1a10" stroke-width="0.45"/>
<path d="M416.92 658.3V657.95M415.92 657.95H417.92" stroke="#111" stroke-width="0.75" fill="none"/>
<rect x="418.65" y="656.21" width="2.65" height="5.09" fill="#d8321f" stroke="#7a1a10" stroke-width="0.45"/>
<path d="M419.97 656.21V655.73M418.97 655.73H420.97" stroke="#111" stroke-width="0.75" fill="none"/>
<rect x="421.7" y="652.53" width="2.65" height="8.77" fill="#d8321f" stroke="#7a1a10" stroke-width="0.45"/>
<path d="M423.02 652.53V651.83M422.02 651.83H424.02" stroke="#111" stroke-width="0.75" fill="none"/>
<rect x="424.75" y="647.44" width="2.65" height="13.86" fill="#d8321f" stroke="#7a1a10" stroke-width="0.45"/>
<path d="M426.07 647.44V646.43M425.07 646.43H427.07" stroke="#111" stroke-width="0.75" fill="none"/>
<rect x="427.8" y="635.57" width="2.65" height="25.73" fill="#d8321f" stroke="#7a1a10" stroke-width="0.45"/>
<path d="M429.12 635.57V633.3M428.12 633.3H430.12" stroke="#111" stroke-width="0.75" fill="none"/>
<text x="415.5" y="669.6" font-size="6.3" text-anchor="start" font-weight="normal" fill="#222" stroke="#222" stroke-width="0.15" textLength="14.95" lengthAdjust="spacingAndGlyphs">01234</text>
<rect x="433.2" y="658.75" width="2.65" height="2.55" fill="#e98f8e" stroke="#9a5050" stroke-width="0.45"/>
<path d="M434.52 658.75V658.43M433.52 658.43H435.52" stroke="#111" stroke-width="0.75" fill="none"/>
<rect x="436.25" y="658.05" width="2.65" height="3.25" fill="#e98f8e" stroke="#9a5050" stroke-width="0.45"/>
<path d="M437.57 658.05V657.68M436.57 657.68H438.57" stroke="#111" stroke-width="0.75" fill="none"/>
<rect x="439.3" y="658.3" width="2.65" height="3" fill="#e98f8e" stroke="#9a5050" stroke-width="0.45"/>
<path d="M440.62 658.3V657.95M439.62 657.95H441.62" stroke="#111" stroke-width="0.75" fill="none"/>
<rect x="442.35" y="658.05" width="2.65" height="3.25" fill="#e98f8e" stroke="#9a5050" stroke-width="0.45"/>
<path d="M443.67 658.05V657.68M442.67 657.68H444.67" stroke="#111" stroke-width="0.75" fill="none"/>
<rect x="445.4" y="655.79" width="2.65" height="5.51" fill="#e98f8e" stroke="#9a5050" stroke-width="0.45"/>
<path d="M446.72 655.79V655.28M445.72 655.28H447.72" stroke="#111" stroke-width="0.75" fill="none"/>
<text x="433.1" y="669.6" font-size="6.3" text-anchor="start" font-weight="normal" fill="#222" stroke="#222" stroke-width="0.15" textLength="14.95" lengthAdjust="spacingAndGlyphs">01234</text>
<text x="423.02" y="592.6" font-size="7.9" text-anchor="middle" font-weight="normal" fill="#1a1a1a" stroke="#1a1a1a" stroke-width="0.22">U937</text>
<path d="M399.8 596.2H445.25" stroke="#2c2c2c" stroke-width="1.2"/>
<path d="M344.1 590.6V661.3" stroke="#3a3a3a" stroke-width="1.15" fill="none"/>
<path d="M343.55 661.3H449.05" stroke="#1a1a1a" stroke-width="1.2" fill="none"/>
<path d="M346.52 661.3v2.0M349.57 661.3v2.0M352.62 661.3v2.0M355.67 661.3v2.0M358.72 661.3v2.0M364.12 661.3v2.0M367.18 661.3v2.0M370.23 661.3v2.0M373.27 661.3v2.0M376.32 661.3v2.0M381.72 661.3v2.0M384.77 661.3v2.0M387.82 661.3v2.0M390.87 661.3v2.0M393.92 661.3v2.0M399.32 661.3v2.0M402.38 661.3v2.0M405.43 661.3v2.0M408.47 661.3v2.0M411.52 661.3v2.0M416.92 661.3v2.0M419.97 661.3v2.0M423.02 661.3v2.0M426.07 661.3v2.0M429.12 661.3v2.0M434.52 661.3v2.0M437.57 661.3v2.0M440.62 661.3v2.0M443.67 661.3v2.0M446.72 661.3v2.0" stroke="#1c1c1c" stroke-width="0.75"/>
<path d="M342.3 661.3H344.1" stroke="#1c1c1c" stroke-width="0.8"/>
<text x="341.7" y="663.45" font-size="7.2" text-anchor="end" font-weight="normal" fill="#222" stroke="#222" stroke-width="0.22">0</text>
<path d="M342.3 647.16H344.1" stroke="#1c1c1c" stroke-width="0.8"/>
<text x="341.7" y="649.31" font-size="7.2" text-anchor="end" font-weight="normal" fill="#222" stroke="#222" stroke-width="0.22">5</text>
<path d="M342.3 633.02H344.1" stroke="#1c1c1c" stroke-width="0.8"/>
<text x="341.7" y="635.17" font-size="7.2" text-anchor="end" font-weight="normal" fill="#222" stroke="#222" stroke-width="0.22">10</text>
<path d="M342.3 618.88H344.1" stroke="#1c1c1c" stroke-width="0.8"/>
<text x="341.7" y="621.03" font-size="7.2" text-anchor="end" font-weight="normal" fill="#222" stroke="#222" stroke-width="0.22">15</text>
<path d="M342.3 604.74H344.1" stroke="#1c1c1c" stroke-width="0.8"/>
<text x="341.7" y="606.89" font-size="7.2" text-anchor="end" font-weight="normal" fill="#222" stroke="#222" stroke-width="0.22">20</text>
<path d="M342.3 590.6H344.1" stroke="#1c1c1c" stroke-width="0.8"/>
<text x="341.7" y="592.75" font-size="7.2" text-anchor="end" font-weight="normal" fill="#222" stroke="#222" stroke-width="0.22">25</text>
<text x="0" y="0" font-size="8.3" text-anchor="middle" font-weight="normal" fill="#1a1a1a" stroke="#1a1a1a" stroke-width="0.22" transform="translate(204.4,624.3) rotate(-90)" textLength="71.8" lengthAdjust="spacingAndGlyphs">Relative proliferation</text>
<text x="0" y="0" font-size="9.2" text-anchor="middle" font-weight="bold" fill="#111" stroke="#111" stroke-width="0.22" transform="translate(190.2,624.9) rotate(-90)">UNC13B</text>
<rect x="455.1" y="586.9" width="8.8" height="4.4" fill="#2438ee" stroke="#1a2290" stroke-width="0.35"/>
<text x="466.7" y="591.7" font-size="7.34" text-anchor="start" font-weight="normal" fill="#1a1a1a" stroke="#1a1a1a" stroke-width="0.22" textLength="29.1" lengthAdjust="spacingAndGlyphs">shControl</text>
<rect x="455.1" y="595.7" width="8.8" height="4.4" fill="#d8321f" stroke="#7a1a10" stroke-width="0.35"/>
<text x="466.7" y="600.5" font-size="7.34" text-anchor="start" font-weight="normal" fill="#1a1a1a" stroke="#1a1a1a" stroke-width="0.22" textLength="51.4" lengthAdjust="spacingAndGlyphs">shUNC13B-2356</text>
<rect x="455.1" y="603.8" width="8.8" height="4.4" fill="#e98f8e" stroke="#9a5050" stroke-width="0.35"/>
<text x="466.7" y="608.6" font-size="7.34" text-anchor="start" font-weight="normal" fill="#1a1a1a" stroke="#1a1a1a" stroke-width="0.22" textLength="51.4" lengthAdjust="spacingAndGlyphs">shUNC13B-2359</text>
<rect x="460.6" y="613.8" width="56.5" height="57.8" fill="none" stroke="#555" stroke-width="0.9" stroke-dasharray="1.6,1.6"/>
<rect x="483.8" y="627.6" width="8.4" height="37.5" fill="#2438ee" stroke="#1a2290" stroke-width="0.35"/>
<path d="M488 627.6V625.72M486.6 625.72H489.4" stroke="#222" stroke-width="0.6" fill="none"/>
<rect x="494.1" y="637.72" width="8.4" height="27.38" fill="#d8321f" stroke="#7a1a10" stroke-width="0.35"/>
<path d="M498.3 637.72V635.1M496.9 635.1H499.7" stroke="#222" stroke-width="0.6" fill="none"/>
<rect x="504.4" y="639.22" width="8.4" height="25.88" fill="#e98f8e" stroke="#9a5050" stroke-width="0.35"/>
<path d="M508.6 639.22V637.81M507.2 637.81H510" stroke="#222" stroke-width="0.6" fill="none"/>
<path d="M482.3 620.1V665.1H514" stroke="#1c1c1c" stroke-width="0.7" fill="none"/>
<path d="M481.1 665.1H482.3" stroke="#1c1c1c" stroke-width="0.6"/>
<text x="480.7" y="666.8" font-size="4.9" text-anchor="end" font-weight="normal" fill="#333" stroke="#333" stroke-width="0.08">0.0</text>
<path d="M481.1 657.6H482.3" stroke="#1c1c1c" stroke-width="0.6"/>
<text x="480.7" y="659.3" font-size="4.9" text-anchor="end" font-weight="normal" fill="#333" stroke="#333" stroke-width="0.08">0.2</text>
<path d="M481.1 650.1H482.3" stroke="#1c1c1c" stroke-width="0.6"/>
<text x="480.7" y="651.8" font-size="4.9" text-anchor="end" font-weight="normal" fill="#333" stroke="#333" stroke-width="0.08">0.4</text>
<path d="M481.1 642.6H482.3" stroke="#1c1c1c" stroke-width="0.6"/>
<text x="480.7" y="644.3" font-size="4.9" text-anchor="end" font-weight="normal" fill="#333" stroke="#333" stroke-width="0.08">0.6</text>
<path d="M481.1 635.1H482.3" stroke="#1c1c1c" stroke-width="0.6"/>
<text x="480.7" y="636.8" font-size="4.9" text-anchor="end" font-weight="normal" fill="#333" stroke="#333" stroke-width="0.08">0.8</text>
<path d="M481.1 627.6H482.3" stroke="#1c1c1c" stroke-width="0.6"/>
<text x="480.7" y="629.3" font-size="4.9" text-anchor="end" font-weight="normal" fill="#333" stroke="#333" stroke-width="0.08">1.0</text>
<path d="M481.1 620.1H482.3" stroke="#1c1c1c" stroke-width="0.6"/>
<text x="480.7" y="621.8" font-size="4.9" text-anchor="end" font-weight="normal" fill="#333" stroke="#333" stroke-width="0.08">1.2</text>
<text x="0" y="0" font-size="5" text-anchor="middle" font-weight="normal" fill="#222" stroke="#222" stroke-width="0.1" transform="translate(470,641.6) rotate(-90)">UNC13B expression</text>
<text x="178.6" y="9.9" font-size="12.6" text-anchor="start" font-weight="bold" fill="#000" stroke="#000" stroke-width="0.22">C</text>
<text x="273.05" y="8.4" font-size="9.45" text-anchor="middle" font-weight="bold" fill="#111" stroke="#111" stroke-width="0.22">MLL-AF9-positive</text>
<text x="395.4" y="8.4" font-size="9.45" text-anchor="middle" font-weight="bold" fill="#111" stroke="#111" stroke-width="0.22">MLL-AF9-negative</text>
<text x="272.6" y="678.6" font-size="7.6" text-anchor="middle" font-weight="normal" fill="#111" stroke="#111" stroke-width="0.22">Days</text>
<text x="397.8" y="678.6" font-size="7.6" text-anchor="middle" font-weight="normal" fill="#111" stroke="#111" stroke-width="0.22">Days</text>
<text x="0.6" y="9.6" font-size="12.6" text-anchor="start" font-weight="bold" fill="#000" stroke="#000" stroke-width="0.22">A</text>
<text x="0" y="0" font-size="9.8" text-anchor="middle" font-weight="normal" fill="#222" stroke="#222" stroke-width="0.22" transform="translate(8.8,58.9) rotate(-90)">MLL-AF9-positive</text>
<text x="0" y="0" font-size="9.75" text-anchor="middle" font-weight="normal" fill="#222" stroke="#222" stroke-width="0.22" transform="translate(8.9,150) rotate(-90)">MLL-AF9-negative</text>
<defs><clipPath id="cpb"><circle cx="56.6" cy="59.9" r="23.4"/></clipPath></defs>
<circle cx="56.6" cy="59.9" r="23.4" fill="#dde0f6"/>
<circle cx="87.2" cy="59.8" r="23.5" fill="#e2ebda"/>
<circle cx="87.2" cy="59.8" r="23.5" fill="#cfe2da" clip-path="url(#cpb)"/>
<circle cx="56.6" cy="59.9" r="23.4" fill="none" stroke="#3f4eaa" stroke-width="1.15"/>
<circle cx="87.2" cy="59.8" r="23.5" fill="none" stroke="#628f56" stroke-width="1.15"/>
<circle cx="39.55" cy="133.75" r="23" fill="#f9e4d6" stroke="#d9aa80" stroke-width="1.15"/>
<circle cx="50.4" cy="112.6" r="15.7" fill="#d8e9ee" stroke="#6c9ca2" stroke-width="1.15" style="mix-blend-mode:multiply"/>
<circle cx="87.3" cy="148" r="23.2" fill="#e9ddf0" stroke="#9a78b6" stroke-width="1.15"/>
<circle cx="99.3" cy="127.6" r="15.5" fill="#d8e9ee" stroke="#6c9ca2" stroke-width="1.15" style="mix-blend-mode:multiply"/>
<circle cx="136.15" cy="164.6" r="23.3" fill="#f9dddc" stroke="#cf6c66" stroke-width="1.15"/>
<circle cx="148.45" cy="144.1" r="15.5" fill="#d8e9ee" stroke="#6c9ca2" stroke-width="1.15" style="mix-blend-mode:multiply"/>
<text x="49.2" y="33.2" font-size="9" text-anchor="middle" font-weight="normal" fill="#222" stroke="#222" stroke-width="0.22">NOMO-1</text>
<text x="94.7" y="33.2" font-size="9" text-anchor="middle" font-weight="normal" fill="#222" stroke="#222" stroke-width="0.22">THP-1</text>
<text x="47.05" y="62.7" font-size="9.2" text-anchor="middle" font-weight="normal" fill="#1e1e1e" stroke="#1e1e1e" stroke-width="0.3">178</text>
<text x="72.05" y="62.7" font-size="9.2" text-anchor="middle" font-weight="bold" fill="#d43a2e" stroke="#d43a2e" stroke-width="0.22">47</text>
<text x="100.5" y="62.7" font-size="9.2" text-anchor="middle" font-weight="normal" fill="#1e1e1e" stroke="#1e1e1e" stroke-width="0.3">48</text>
<text x="53.8" y="110.4" font-size="9.2" text-anchor="middle" font-weight="bold" fill="#d43a2e" stroke="#d43a2e" stroke-width="0.22">23</text>
<text x="47.2" y="123.1" font-size="9.2" text-anchor="middle" font-weight="normal" fill="#1e1e1e" stroke="#1e1e1e" stroke-width="0.3">24</text>
<text x="38.75" y="142.1" font-size="9.2" text-anchor="middle" font-weight="normal" fill="#1e1e1e" stroke="#1e1e1e" stroke-width="0.3">493</text>
<text x="38.8" y="167.8" font-size="9.3" text-anchor="middle" font-weight="normal" fill="#222" stroke="#222" stroke-width="0.22">OCI-AML3</text>
<text x="103.2" y="125.6" font-size="9.2" text-anchor="middle" font-weight="bold" fill="#d43a2e" stroke="#d43a2e" stroke-width="0.22">16</text>
<text x="95.7" y="138" font-size="9.2" text-anchor="middle" font-weight="normal" fill="#1e1e1e" stroke="#1e1e1e" stroke-width="0.3">7</text>
<text x="87.1" y="157.1" font-size="9.2" text-anchor="middle" font-weight="normal" fill="#1e1e1e" stroke="#1e1e1e" stroke-width="0.3">512</text>
<text x="87.6" y="183.8" font-size="9.4" text-anchor="middle" font-weight="normal" fill="#222" stroke="#222" stroke-width="0.22">HL-60</text>
<text x="152.4" y="141.4" font-size="9.2" text-anchor="middle" font-weight="bold" fill="#d43a2e" stroke="#d43a2e" stroke-width="0.22">8</text>
<text x="144.5" y="154.2" font-size="9.2" text-anchor="middle" font-weight="normal" fill="#1e1e1e" stroke="#1e1e1e" stroke-width="0.3">8</text>
<text x="135.9" y="173.7" font-size="9.2" text-anchor="middle" font-weight="normal" fill="#1e1e1e" stroke="#1e1e1e" stroke-width="0.3">520</text>
<text x="135.8" y="198.8" font-size="9.2" text-anchor="middle" font-weight="normal" fill="#222" stroke="#222" stroke-width="0.22">U937</text>
<text x="149.45" y="88.75" font-size="9.5" text-anchor="middle" font-weight="bold" fill="#d43a2e" stroke="#d43a2e" stroke-width="0.22">8 candidate</text>
<text x="149.9" y="98.8" font-size="9.4" text-anchor="middle" font-weight="bold" fill="#d43a2e" stroke="#d43a2e" stroke-width="0.22">genes</text>
<defs><marker id="ah" viewBox="0 0 10 10" refX="8" refY="5" markerWidth="3.8" markerHeight="3.8" orient="auto-start-reverse"><path d="M0 0L10 5L0 10L2.5 5z" fill="#111"/></marker></defs>
<path d="M72.2 68.6L54.9 95.4" stroke="#111" stroke-width="1.45" fill="none" marker-end="url(#ah)"/>
<path d="M63.5 98.7C79 96 90 99 94.0 109.4" stroke="#111" stroke-width="1.45" fill="none" marker-end="url(#ah)"/>
<path d="M112.3 114.6C127 112 138 115 142.8 125.5" stroke="#111" stroke-width="1.45" fill="none" marker-end="url(#ah)"/>
<path d="M149.2 124.8V107.4" stroke="#111" stroke-width="1.45" fill="none" marker-end="url(#ah)"/>
<text x="0.3" y="226.5" font-size="12.8" text-anchor="start" font-weight="bold" fill="#000" stroke="#000" stroke-width="0.22">B</text>
<text x="0" y="0" font-size="7" text-anchor="start" font-weight="bold" fill="#111" stroke="#111" stroke-width="0.22" transform="translate(25.6,255.2) rotate(-90)">NOMO-1</text>
<text x="0" y="0" font-size="7" text-anchor="start" font-weight="bold" fill="#111" stroke="#111" stroke-width="0.22" transform="translate(38.6,255.2) rotate(-90)">THP-1</text>
<text x="0" y="0" font-size="7" text-anchor="start" font-weight="bold" fill="#111" stroke="#111" stroke-width="0.22" transform="translate(51.6,255.2) rotate(-90)">OCI-AML3</text>
<text x="0" y="0" font-size="7" text-anchor="start" font-weight="bold" fill="#111" stroke="#111" stroke-width="0.22" transform="translate(64.6,255.2) rotate(-90)">HL-60</text>
<text x="0" y="0" font-size="7" text-anchor="start" font-weight="bold" fill="#111" stroke="#111" stroke-width="0.22" transform="translate(77.6,255.2) rotate(-90)">U937</text>
<rect x="16.9" y="257.2" width="11.6" height="11.5" fill="#2430e8"/>
<rect x="29.9" y="257.2" width="11.6" height="11.5" fill="#f8edee"/>
<rect x="42.9" y="257.2" width="11.6" height="11.5" fill="#efeef9"/>
<rect x="55.9" y="257.2" width="11.6" height="11.5" fill="#b8b8b8"/>
<rect x="68.9" y="257.2" width="11.6" height="11.5" fill="#d62414"/>
<text x="83.3" y="265.7" font-size="6.6" text-anchor="start" font-weight="bold" fill="#111" stroke="#111" stroke-width="0.22" textLength="51.4" lengthAdjust="spacingAndGlyphs">TRCN0000009995</text>
<rect x="16.9" y="270.14" width="11.6" height="11.5" fill="#2430e8"/>
<rect x="29.9" y="270.14" width="11.6" height="11.5" fill="#efeef9"/>
<rect x="42.9" y="270.14" width="11.6" height="11.5" fill="#babcf5"/>
<rect x="55.9" y="270.14" width="11.6" height="11.5" fill="#f5d8d8"/>
<rect x="68.9" y="270.14" width="11.6" height="11.5" fill="#d62414"/>
<text x="83.3" y="278.64" font-size="6.6" text-anchor="start" font-weight="bold" fill="#111" stroke="#111" stroke-width="0.22" textLength="51.4" lengthAdjust="spacingAndGlyphs">TRCN0000009994</text>
<rect x="16.9" y="283.08" width="11.6" height="11.5" fill="#646ced"/>
<rect x="29.9" y="283.08" width="11.6" height="11.5" fill="#afb2f4"/>
<rect x="42.9" y="283.08" width="11.6" height="11.5" fill="#efb8b5"/>
<rect x="55.9" y="283.08" width="11.6" height="11.5" fill="#b8b8b8"/>
<rect x="68.9" y="283.08" width="11.6" height="11.5" fill="#b8b8b8"/>
<text x="83.3" y="291.58" font-size="6.6" text-anchor="start" font-weight="bold" fill="#111" stroke="#111" stroke-width="0.22" textLength="51.4" lengthAdjust="spacingAndGlyphs">TRCN0000000679</text>
<rect x="16.9" y="296.02" width="11.6" height="11.5" fill="#8f94f1"/>
<rect x="29.9" y="296.02" width="11.6" height="11.5" fill="#2f3ae9"/>
<rect x="42.9" y="296.02" width="11.6" height="11.5" fill="#df594e"/>
<rect x="55.9" y="296.02" width="11.6" height="11.5" fill="#faf8fa"/>
<rect x="68.9" y="296.02" width="11.6" height="11.5" fill="#f9f3f4"/>
<text x="83.3" y="304.52" font-size="6.6" text-anchor="start" font-weight="bold" fill="#111" stroke="#111" stroke-width="0.22" textLength="51.4" lengthAdjust="spacingAndGlyphs">TRCN0000000676</text>
<rect x="16.9" y="308.96" width="11.6" height="11.5" fill="#f5d8d8"/>
<rect x="29.9" y="308.96" width="11.6" height="11.5" fill="#7a80ef"/>
<rect x="42.9" y="308.96" width="11.6" height="11.5" fill="#efeef9"/>
<rect x="55.9" y="308.96" width="11.6" height="11.5" fill="#b8b8b8"/>
<rect x="68.9" y="308.96" width="11.6" height="11.5" fill="#b8b8b8"/>
<text x="83.3" y="317.46" font-size="6.6" text-anchor="start" font-weight="bold" fill="#111" stroke="#111" stroke-width="0.22" textLength="51.4" lengthAdjust="spacingAndGlyphs">TRCN0000000677</text>
<rect x="16.9" y="321.9" width="11.6" height="11.5" fill="#2430e8"/>
<rect x="29.9" y="321.9" width="11.6" height="11.5" fill="#4f58ec"/>
<rect x="42.9" y="321.9" width="11.6" height="11.5" fill="#b8b8b8"/>
<rect x="55.9" y="321.9" width="11.6" height="11.5" fill="#b8b8b8"/>
<rect x="68.9" y="321.9" width="11.6" height="11.5" fill="#b8b8b8"/>
<text x="83.3" y="330.4" font-size="6.6" text-anchor="start" font-weight="bold" fill="#111" stroke="#111" stroke-width="0.22" textLength="51.4" lengthAdjust="spacingAndGlyphs">TRCN0000039747</text>
<rect x="16.9" y="334.84" width="11.6" height="11.5" fill="#2430e8"/>
<rect x="29.9" y="334.84" width="11.6" height="11.5" fill="#9a9ef2"/>
<rect x="42.9" y="334.84" width="11.6" height="11.5" fill="#b8b8b8"/>
<rect x="55.9" y="334.84" width="11.6" height="11.5" fill="#b8b8b8"/>
<rect x="68.9" y="334.84" width="11.6" height="11.5" fill="#b8b8b8"/>
<text x="83.3" y="343.34" font-size="6.6" text-anchor="start" font-weight="bold" fill="#111" stroke="#111" stroke-width="0.22" textLength="51.4" lengthAdjust="spacingAndGlyphs">TRCN0000055435</text>
<rect x="16.9" y="347.78" width="11.6" height="11.5" fill="#4f58ec"/>
<rect x="29.9" y="347.78" width="11.6" height="11.5" fill="#f6dedd"/>
<rect x="42.9" y="347.78" width="11.6" height="11.5" fill="#eca39e"/>
<rect x="55.9" y="347.78" width="11.6" height="11.5" fill="#e36e64"/>
<rect x="68.9" y="347.78" width="11.6" height="11.5" fill="#f4d3d2"/>
<text x="83.3" y="356.28" font-size="6.6" text-anchor="start" font-weight="bold" fill="#111" stroke="#111" stroke-width="0.22" textLength="51.4" lengthAdjust="spacingAndGlyphs">TRCN0000010081</text>
<rect x="16.9" y="360.72" width="11.6" height="11.5" fill="#dadaf7"/>
<rect x="29.9" y="360.72" width="11.6" height="11.5" fill="#6f76ee"/>
<rect x="42.9" y="360.72" width="11.6" height="11.5" fill="#b8b8b8"/>
<rect x="55.9" y="360.72" width="11.6" height="11.5" fill="#b8b8b8"/>
<rect x="68.9" y="360.72" width="11.6" height="11.5" fill="#b8b8b8"/>
<text x="83.3" y="369.22" font-size="6.6" text-anchor="start" font-weight="bold" fill="#111" stroke="#111" stroke-width="0.22" textLength="51.4" lengthAdjust="spacingAndGlyphs">TRCN0000039745</text>
<rect x="16.9" y="373.66" width="11.6" height="11.5" fill="#2430e8"/>
<rect x="29.9" y="373.66" width="11.6" height="11.5" fill="#2430e8"/>
<rect x="42.9" y="373.66" width="11.6" height="11.5" fill="#d5d5f7"/>
<rect x="55.9" y="373.66" width="11.6" height="11.5" fill="#dadaf7"/>
<rect x="68.9" y="373.66" width="11.6" height="11.5" fill="#dd4e42"/>
<text x="83.3" y="382.16" font-size="6.6" text-anchor="start" font-weight="bold" fill="#111" stroke="#111" stroke-width="0.22" textLength="51.4" lengthAdjust="spacingAndGlyphs">TRCN0000001360</text>
<rect x="16.9" y="386.6" width="11.6" height="11.5" fill="#2430e8"/>
<rect x="29.9" y="386.6" width="11.6" height="11.5" fill="#f7e8e9"/>
<rect x="42.9" y="386.6" width="11.6" height="11.5" fill="#eca39e"/>
<rect x="55.9" y="386.6" width="11.6" height="11.5" fill="#848af0"/>
<rect x="68.9" y="386.6" width="11.6" height="11.5" fill="#7a80ef"/>
<text x="83.3" y="395.1" font-size="6.6" text-anchor="start" font-weight="bold" fill="#111" stroke="#111" stroke-width="0.22" textLength="51.4" lengthAdjust="spacingAndGlyphs">TRCN0000001361</text>
<rect x="16.9" y="399.54" width="11.6" height="11.5" fill="#2430e8"/>
<rect x="29.9" y="399.54" width="11.6" height="11.5" fill="#7a80ef"/>
<rect x="42.9" y="399.54" width="11.6" height="11.5" fill="#2430e8"/>
<rect x="55.9" y="399.54" width="11.6" height="11.5" fill="#848af0"/>
<rect x="68.9" y="399.54" width="11.6" height="11.5" fill="#eca39e"/>
<text x="83.3" y="408.04" font-size="6.6" text-anchor="start" font-weight="bold" fill="#111" stroke="#111" stroke-width="0.22" textLength="51.4" lengthAdjust="spacingAndGlyphs">TRCN0000001357</text>
<rect x="16.9" y="412.48" width="11.6" height="11.5" fill="#6f76ee"/>
<rect x="29.9" y="412.48" width="11.6" height="11.5" fill="#b8b8b8"/>
<rect x="42.9" y="412.48" width="11.6" height="11.5" fill="#f8edee"/>
<rect x="55.9" y="412.48" width="11.6" height="11.5" fill="#edaeaa"/>
<rect x="68.9" y="412.48" width="11.6" height="11.5" fill="#eae9f9"/>
<text x="83.3" y="420.98" font-size="6.6" text-anchor="start" font-weight="bold" fill="#111" stroke="#111" stroke-width="0.22" textLength="51.4" lengthAdjust="spacingAndGlyphs">TRCN0000001358</text>
<rect x="16.9" y="425.42" width="11.6" height="11.5" fill="#2430e8"/>
<rect x="29.9" y="425.42" width="11.6" height="11.5" fill="#7a80ef"/>
<rect x="42.9" y="425.42" width="11.6" height="11.5" fill="#f9f3f4"/>
<rect x="55.9" y="425.42" width="11.6" height="11.5" fill="#b8b8b8"/>
<rect x="68.9" y="425.42" width="11.6" height="11.5" fill="#2430e8"/>
<text x="83.3" y="433.92" font-size="6.6" text-anchor="start" font-weight="bold" fill="#111" stroke="#111" stroke-width="0.22" textLength="51.4" lengthAdjust="spacingAndGlyphs">TRCN0000052604</text>
<rect x="16.9" y="438.36" width="11.6" height="11.5" fill="#6f76ee"/>
<rect x="29.9" y="438.36" width="11.6" height="11.5" fill="#f4d3d2"/>
<rect x="42.9" y="438.36" width="11.6" height="11.5" fill="#da392b"/>
<rect x="55.9" y="438.36" width="11.6" height="11.5" fill="#e16459"/>
<rect x="68.9" y="438.36" width="11.6" height="11.5" fill="#f3cecc"/>
<text x="83.3" y="446.86" font-size="6.6" text-anchor="start" font-weight="bold" fill="#111" stroke="#111" stroke-width="0.22" textLength="51.4" lengthAdjust="spacingAndGlyphs">TRCN0000052606</text>
<rect x="16.9" y="451.3" width="11.6" height="11.5" fill="#d5d5f7"/>
<rect x="29.9" y="451.3" width="11.6" height="11.5" fill="#2430e8"/>
<rect x="42.9" y="451.3" width="11.6" height="11.5" fill="#b8b8b8"/>
<rect x="55.9" y="451.3" width="11.6" height="11.5" fill="#b8b8b8"/>
<rect x="68.9" y="451.3" width="11.6" height="11.5" fill="#b8b8b8"/>
<text x="83.3" y="459.8" font-size="6.6" text-anchor="start" font-weight="bold" fill="#111" stroke="#111" stroke-width="0.22" textLength="51.4" lengthAdjust="spacingAndGlyphs">TRCN0000052605</text>
<rect x="16.9" y="464.24" width="11.6" height="11.5" fill="#2430e8"/>
<rect x="29.9" y="464.24" width="11.6" height="11.5" fill="#efeef9"/>
<rect x="42.9" y="464.24" width="11.6" height="11.5" fill="#d5d5f7"/>
<rect x="55.9" y="464.24" width="11.6" height="11.5" fill="#db4436"/>
<rect x="68.9" y="464.24" width="11.6" height="11.5" fill="#dd4e42"/>
<text x="83.3" y="472.74" font-size="6.6" text-anchor="start" font-weight="bold" fill="#111" stroke="#111" stroke-width="0.22" textLength="51.4" lengthAdjust="spacingAndGlyphs">TRCN0000001003</text>
<rect x="16.9" y="477.18" width="11.6" height="11.5" fill="#2430e8"/>
<rect x="29.9" y="477.18" width="11.6" height="11.5" fill="#7a80ef"/>
<rect x="42.9" y="477.18" width="11.6" height="11.5" fill="#b8b8b8"/>
<rect x="55.9" y="477.18" width="11.6" height="11.5" fill="#b8b8b8"/>
<rect x="68.9" y="477.18" width="11.6" height="11.5" fill="#2430e8"/>
<text x="83.3" y="485.68" font-size="6.6" text-anchor="start" font-weight="bold" fill="#111" stroke="#111" stroke-width="0.22" textLength="51.4" lengthAdjust="spacingAndGlyphs">TRCN0000001002</text>
<rect x="16.9" y="490.12" width="11.6" height="11.5" fill="#3944ea"/>
<rect x="29.9" y="490.12" width="11.6" height="11.5" fill="#2f3ae9"/>
<rect x="42.9" y="490.12" width="11.6" height="11.5" fill="#efb8b5"/>
<rect x="55.9" y="490.12" width="11.6" height="11.5" fill="#dd4e42"/>
<rect x="68.9" y="490.12" width="11.6" height="11.5" fill="#e47970"/>
<text x="83.3" y="498.62" font-size="6.6" text-anchor="start" font-weight="bold" fill="#111" stroke="#111" stroke-width="0.22" textLength="51.4" lengthAdjust="spacingAndGlyphs">TRCN0000000999</text>
<rect x="16.9" y="503.06" width="11.6" height="11.5" fill="#444eeb"/>
<rect x="29.9" y="503.06" width="11.6" height="11.5" fill="#2f3ae9"/>
<rect x="42.9" y="503.06" width="11.6" height="11.5" fill="#d82f20"/>
<rect x="55.9" y="503.06" width="11.6" height="11.5" fill="#d5d5f7"/>
<rect x="68.9" y="503.06" width="11.6" height="11.5" fill="#bfc1f5"/>
<text x="83.3" y="511.56" font-size="6.6" text-anchor="start" font-weight="bold" fill="#111" stroke="#111" stroke-width="0.22" textLength="51.4" lengthAdjust="spacingAndGlyphs">TRCN0000006275</text>
<rect x="16.9" y="516" width="11.6" height="11.5" fill="#4f58ec"/>
<rect x="29.9" y="516" width="11.6" height="11.5" fill="#7a80ef"/>
<rect x="42.9" y="516" width="11.6" height="11.5" fill="#d82f20"/>
<rect x="55.9" y="516" width="11.6" height="11.5" fill="#df594e"/>
<rect x="68.9" y="516" width="11.6" height="11.5" fill="#df594e"/>
<text x="83.3" y="524.5" font-size="6.6" text-anchor="start" font-weight="bold" fill="#111" stroke="#111" stroke-width="0.22" textLength="51.4" lengthAdjust="spacingAndGlyphs">TRCN0000006274</text>
<rect x="16.9" y="528.94" width="11.6" height="11.5" fill="#2430e8"/>
<rect x="29.9" y="528.94" width="11.6" height="11.5" fill="#2430e8"/>
<rect x="42.9" y="528.94" width="11.6" height="11.5" fill="#b8b8b8"/>
<rect x="55.9" y="528.94" width="11.6" height="11.5" fill="#b8b8b8"/>
<rect x="68.9" y="528.94" width="11.6" height="11.5" fill="#b8b8b8"/>
<text x="83.3" y="537.44" font-size="6.6" text-anchor="start" font-weight="bold" fill="#111" stroke="#111" stroke-width="0.22" textLength="51.4" lengthAdjust="spacingAndGlyphs">TRCN0000000352</text>
<rect x="16.9" y="541.88" width="11.6" height="11.5" fill="#6f76ee"/>
<rect x="29.9" y="541.88" width="11.6" height="11.5" fill="#faf8fa"/>
<rect x="42.9" y="541.88" width="11.6" height="11.5" fill="#f7e8e9"/>
<rect x="55.9" y="541.88" width="11.6" height="11.5" fill="#d82f20"/>
<rect x="68.9" y="541.88" width="11.6" height="11.5" fill="#d82f20"/>
<text x="83.3" y="550.38" font-size="6.6" text-anchor="start" font-weight="bold" fill="#111" stroke="#111" stroke-width="0.22" textLength="51.4" lengthAdjust="spacingAndGlyphs">TRCN0000000351</text>
<rect x="16.9" y="554.82" width="11.6" height="11.5" fill="#cacbf6"/>
<rect x="29.9" y="554.82" width="11.6" height="11.5" fill="#2430e8"/>
<rect x="42.9" y="554.82" width="11.6" height="11.5" fill="#db4436"/>
<rect x="55.9" y="554.82" width="11.6" height="11.5" fill="#2430e8"/>
<rect x="68.9" y="554.82" width="11.6" height="11.5" fill="#d82f20"/>
<text x="83.3" y="563.32" font-size="6.6" text-anchor="start" font-weight="bold" fill="#111" stroke="#111" stroke-width="0.22" textLength="51.4" lengthAdjust="spacingAndGlyphs">TRCN0000000350</text>
<rect x="16.9" y="567.76" width="11.6" height="11.5" fill="#2f3ae9"/>
<rect x="29.9" y="567.76" width="11.6" height="11.5" fill="#6f76ee"/>
<rect x="42.9" y="567.76" width="11.6" height="11.5" fill="#faf8fa"/>
<rect x="55.9" y="567.76" width="11.6" height="11.5" fill="#cacbf6"/>
<rect x="68.9" y="567.76" width="11.6" height="11.5" fill="#f9f3f4"/>
<text x="83.3" y="576.26" font-size="6.6" text-anchor="start" font-weight="bold" fill="#111" stroke="#111" stroke-width="0.22" textLength="51.4" lengthAdjust="spacingAndGlyphs">TRCN0000002356</text>
<rect x="16.9" y="580.7" width="11.6" height="11.5" fill="#5a62ec"/>
<rect x="29.9" y="580.7" width="11.6" height="11.5" fill="#5a62ec"/>
<rect x="42.9" y="580.7" width="11.6" height="11.5" fill="#e5e4f8"/>
<rect x="55.9" y="580.7" width="11.6" height="11.5" fill="#b8b8b8"/>
<rect x="68.9" y="580.7" width="11.6" height="11.5" fill="#2430e8"/>
<text x="83.3" y="589.2" font-size="6.6" text-anchor="start" font-weight="bold" fill="#111" stroke="#111" stroke-width="0.22" textLength="51.4" lengthAdjust="spacingAndGlyphs">TRCN0000002359</text>
<rect x="16.9" y="593.64" width="11.6" height="11.5" fill="#9a9ef2"/>
<rect x="29.9" y="593.64" width="11.6" height="11.5" fill="#7a80ef"/>
<rect x="42.9" y="593.64" width="11.6" height="11.5" fill="#db4436"/>
<rect x="55.9" y="593.64" width="11.6" height="11.5" fill="#2f3ae9"/>
<rect x="68.9" y="593.64" width="11.6" height="11.5" fill="#d5d5f7"/>
<text x="83.3" y="602.14" font-size="6.6" text-anchor="start" font-weight="bold" fill="#111" stroke="#111" stroke-width="0.22" textLength="51.4" lengthAdjust="spacingAndGlyphs">TRCN0000002358</text>
<path d="M14.4 259V319.06" stroke="#333" stroke-width="0.9"/>
<text x="0" y="0" font-size="7" text-anchor="middle" font-weight="bold" fill="#111" stroke="#111" stroke-width="0.22" transform="translate(11.9,285.3) rotate(-90)">CAMK1</text>
<path d="M14.4 323.7V370.82" stroke="#333" stroke-width="0.9"/>
<text x="0" y="0" font-size="7" text-anchor="middle" font-weight="bold" fill="#111" stroke="#111" stroke-width="0.22" transform="translate(11.9,353.7) rotate(-90)">CDK6</text>
<path d="M14.4 375.46V422.58" stroke="#333" stroke-width="0.9"/>
<text x="0" y="0" font-size="7" text-anchor="middle" font-weight="bold" fill="#111" stroke="#111" stroke-width="0.22" transform="translate(11.9,400.1) rotate(-90)">DGKH</text>
<path d="M14.4 427.22V461.4" stroke="#333" stroke-width="0.9"/>
<text x="0" y="0" font-size="7" text-anchor="middle" font-weight="bold" fill="#111" stroke="#111" stroke-width="0.22" transform="translate(11.9,443.8) rotate(-90)">FLT3LG</text>
<path d="M14.4 466.04V500.22" stroke="#333" stroke-width="0.9"/>
<text x="0" y="0" font-size="7" text-anchor="middle" font-weight="bold" fill="#111" stroke="#111" stroke-width="0.22" transform="translate(11.9,483.7) rotate(-90)">MAP3K12</text>
<path d="M14.4 504.86V526.1" stroke="#333" stroke-width="0.9"/>
<text x="0" y="0" font-size="7" text-anchor="middle" font-weight="bold" fill="#111" stroke="#111" stroke-width="0.22" transform="translate(11.9,516.2) rotate(-90)">SRPK2</text>
<path d="M14.4 530.74V564.92" stroke="#333" stroke-width="0.9"/>
<text x="0" y="0" font-size="7" text-anchor="middle" font-weight="bold" fill="#111" stroke="#111" stroke-width="0.22" transform="translate(11.9,549.2) rotate(-90)">THOC4</text>
<path d="M14.4 569.56V603.74" stroke="#333" stroke-width="0.9"/>
<text x="0" y="0" font-size="7" text-anchor="middle" font-weight="bold" fill="#111" stroke="#111" stroke-width="0.22" transform="translate(11.9,587.1) rotate(-90)">UNC13B</text>
<defs><linearGradient id="cb" x1="0" x2="1" y1="0" y2="0"><stop offset="0" stop-color="#2232b8"/><stop offset="0.5" stop-color="#f6f4f8"/><stop offset="1" stop-color="#b82420"/></linearGradient></defs>
<rect x="7.8" y="616.5" width="159.5" height="3.3" fill="url(#cb)"/>
<text x="86.8" y="615.5" font-size="6.6" text-anchor="middle" font-weight="normal" fill="#222" stroke="#222" stroke-width="0.22">B-score</text>
<text x="7.6" y="625.8" font-size="6.6" text-anchor="start" font-weight="normal" fill="#222" stroke="#222" stroke-width="0.22">&lt;-2.0</text>
<text x="87" y="625.3" font-size="6.6" text-anchor="middle" font-weight="normal" fill="#222" stroke="#222" stroke-width="0.22">0</text>
<text x="167.4" y="625.3" font-size="6.6" text-anchor="end" font-weight="normal" fill="#222" stroke="#222" stroke-width="0.22">&gt;2.0</text>
</svg></body></html>
